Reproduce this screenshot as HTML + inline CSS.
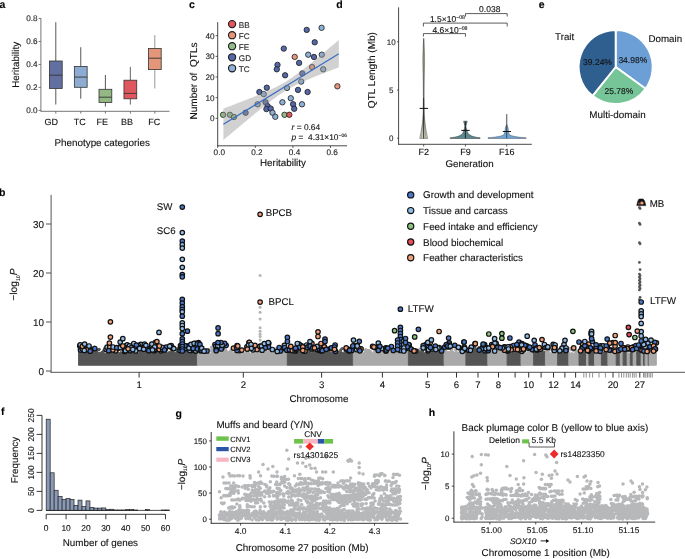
<!DOCTYPE html>
<html><head><meta charset="utf-8"><style>
html,body{margin:0;padding:0;background:#fff;}
svg{display:block;filter:blur(0.3px);text-rendering:geometricPrecision;font-family:"Liberation Sans",sans-serif;}
svg text{paint-order:stroke;stroke:#1a1a1a;stroke-width:0.12px;}
</style></head><body>
<svg width="685" height="559" viewBox="0 0 685 559" font-family="Liberation Sans, sans-serif">
<rect width="685" height="559" fill="#fff"/>
<text x="-0.60" y="8.20" font-size="10.5" text-anchor="start" fill="#000" font-weight="bold">a</text>
<line x1="40.90" y1="18.20" x2="40.90" y2="111.30" stroke="#666" stroke-width="0.9"/>
<line x1="40.50" y1="111.30" x2="169.50" y2="111.30" stroke="#666" stroke-width="0.9"/>
<line x1="38.60" y1="110.40" x2="40.90" y2="110.40" stroke="#666" stroke-width="0.9"/>
<text x="37.60" y="113.30" font-size="8.2" text-anchor="end" fill="#262626">0.0</text>
<line x1="38.60" y1="87.42" x2="40.90" y2="87.42" stroke="#666" stroke-width="0.9"/>
<text x="37.60" y="90.32" font-size="8.2" text-anchor="end" fill="#262626">0.2</text>
<line x1="38.60" y1="64.44" x2="40.90" y2="64.44" stroke="#666" stroke-width="0.9"/>
<text x="37.60" y="67.34" font-size="8.2" text-anchor="end" fill="#262626">0.4</text>
<line x1="38.60" y1="41.46" x2="40.90" y2="41.46" stroke="#666" stroke-width="0.9"/>
<text x="37.60" y="44.36" font-size="8.2" text-anchor="end" fill="#262626">0.6</text>
<line x1="38.60" y1="18.48" x2="40.90" y2="18.48" stroke="#666" stroke-width="0.9"/>
<text x="37.60" y="21.38" font-size="8.2" text-anchor="end" fill="#262626">0.8</text>
<line x1="55.80" y1="22.20" x2="55.80" y2="61.00" stroke="#444" stroke-width="0.9"/>
<line x1="55.80" y1="88.50" x2="55.80" y2="104.50" stroke="#444" stroke-width="0.9"/>
<rect x="49.40" y="61.00" width="12.80" height="27.50" fill="#6170a1" stroke="#333" stroke-width="0.8"/>
<line x1="49.40" y1="75.20" x2="62.20" y2="75.20" stroke="#333" stroke-width="0.9"/>
<line x1="55.80" y1="111.30" x2="55.80" y2="113.60" stroke="#666" stroke-width="0.9"/>
<line x1="80.75" y1="47.20" x2="80.75" y2="66.40" stroke="#444" stroke-width="0.9"/>
<line x1="80.75" y1="87.30" x2="80.75" y2="98.70" stroke="#444" stroke-width="0.9"/>
<rect x="74.35" y="66.40" width="12.80" height="20.90" fill="#8eabd1" stroke="#333" stroke-width="0.8"/>
<line x1="74.35" y1="77.10" x2="87.15" y2="77.10" stroke="#333" stroke-width="0.9"/>
<line x1="80.75" y1="111.30" x2="80.75" y2="113.60" stroke="#666" stroke-width="0.9"/>
<line x1="105.40" y1="75.00" x2="105.40" y2="89.30" stroke="#444" stroke-width="0.9"/>
<line x1="105.40" y1="102.40" x2="105.40" y2="106.50" stroke="#444" stroke-width="0.9"/>
<rect x="99.00" y="89.30" width="12.80" height="13.10" fill="#93b884" stroke="#333" stroke-width="0.8"/>
<line x1="99.00" y1="97.20" x2="111.80" y2="97.20" stroke="#333" stroke-width="0.9"/>
<line x1="105.40" y1="111.30" x2="105.40" y2="113.60" stroke="#666" stroke-width="0.9"/>
<line x1="130.35" y1="66.90" x2="130.35" y2="80.20" stroke="#555" stroke-width="0.9"/>
<line x1="130.35" y1="98.80" x2="130.35" y2="104.60" stroke="#555" stroke-width="0.9"/>
<rect x="123.95" y="80.20" width="12.80" height="18.60" fill="#e0585f" stroke="#333" stroke-width="0.8"/>
<line x1="123.95" y1="93.40" x2="136.75" y2="93.40" stroke="#333" stroke-width="0.9"/>
<line x1="130.35" y1="111.30" x2="130.35" y2="113.60" stroke="#666" stroke-width="0.9"/>
<line x1="154.80" y1="35.10" x2="154.80" y2="48.40" stroke="#8a8a8a" stroke-width="0.9"/>
<line x1="154.80" y1="69.60" x2="154.80" y2="88.50" stroke="#8a8a8a" stroke-width="0.9"/>
<rect x="148.40" y="48.40" width="12.80" height="21.20" fill="#e3967a" stroke="#333" stroke-width="0.8"/>
<line x1="148.40" y1="58.20" x2="161.20" y2="58.20" stroke="#333" stroke-width="0.9"/>
<line x1="154.80" y1="111.30" x2="154.80" y2="113.60" stroke="#666" stroke-width="0.9"/>
<text x="51.20" y="125.40" font-size="9" text-anchor="middle" fill="#111">GD</text>
<text x="79.80" y="125.40" font-size="9" text-anchor="middle" fill="#111">TC</text>
<text x="102.20" y="125.40" font-size="9" text-anchor="middle" fill="#111">FE</text>
<text x="127.10" y="125.40" font-size="9" text-anchor="middle" fill="#111">BB</text>
<text x="154.30" y="125.40" font-size="9" text-anchor="middle" fill="#111">FC</text>
<text x="54.40" y="145.60" font-size="9.9" text-anchor="start" fill="#111">Phenotype categories</text>
<text transform="translate(19.30,64.90) rotate(-90)" font-size="9.85" text-anchor="middle" fill="#111">Heritability</text>
<text x="189.00" y="8.20" font-size="10.5" text-anchor="start" fill="#000" font-weight="bold">c</text>
<line x1="217.70" y1="22.20" x2="217.70" y2="146.20" stroke="#333" stroke-width="0.9"/>
<line x1="217.30" y1="145.80" x2="347.10" y2="145.80" stroke="#333" stroke-width="0.9"/>
<line x1="215.60" y1="118.30" x2="217.70" y2="118.30" stroke="#333" stroke-width="0.8"/>
<text x="214.60" y="121.20" font-size="8.2" text-anchor="end" fill="#262626">0</text>
<line x1="215.60" y1="97.65" x2="217.70" y2="97.65" stroke="#333" stroke-width="0.8"/>
<text x="214.60" y="100.55" font-size="8.2" text-anchor="end" fill="#262626">10</text>
<line x1="215.60" y1="77.00" x2="217.70" y2="77.00" stroke="#333" stroke-width="0.8"/>
<text x="214.60" y="79.90" font-size="8.2" text-anchor="end" fill="#262626">20</text>
<line x1="215.60" y1="56.35" x2="217.70" y2="56.35" stroke="#333" stroke-width="0.8"/>
<text x="214.60" y="59.25" font-size="8.2" text-anchor="end" fill="#262626">30</text>
<line x1="215.60" y1="35.70" x2="217.70" y2="35.70" stroke="#333" stroke-width="0.8"/>
<text x="214.60" y="38.60" font-size="8.2" text-anchor="end" fill="#262626">40</text>
<line x1="217.70" y1="145.80" x2="217.70" y2="147.90" stroke="#333" stroke-width="0.8"/>
<text x="219.30" y="154.60" font-size="8.2" text-anchor="middle" fill="#262626">0.0</text>
<line x1="255.30" y1="145.80" x2="255.30" y2="147.90" stroke="#333" stroke-width="0.8"/>
<text x="256.90" y="154.60" font-size="8.2" text-anchor="middle" fill="#262626">0.2</text>
<line x1="292.90" y1="145.80" x2="292.90" y2="147.90" stroke="#333" stroke-width="0.8"/>
<text x="294.50" y="154.60" font-size="8.2" text-anchor="middle" fill="#262626">0.4</text>
<line x1="330.50" y1="145.80" x2="330.50" y2="147.90" stroke="#333" stroke-width="0.8"/>
<text x="332.10" y="154.60" font-size="8.2" text-anchor="middle" fill="#262626">0.6</text>
<text x="283.00" y="166.40" font-size="9.85" text-anchor="middle" fill="#111">Heritability</text>
<text transform="translate(197.00,81.00) rotate(-90)" font-size="10.05" text-anchor="middle" fill="#111">Number of&#160;&#160;QTLs</text>
<circle cx="306.7" cy="29.9" r="2.7" fill="#5468a8" stroke="#1a1a1a" stroke-width="0.8"/>
<circle cx="321.6" cy="27.8" r="2.7" fill="#8eb0d6" stroke="#1a1a1a" stroke-width="0.8"/>
<circle cx="314.7" cy="42.3" r="2.7" fill="#5468a8" stroke="#1a1a1a" stroke-width="0.8"/>
<circle cx="283.8" cy="48.6" r="2.7" fill="#5468a8" stroke="#1a1a1a" stroke-width="0.8"/>
<circle cx="294.7" cy="56.9" r="2.7" fill="#e4957a" stroke="#1a1a1a" stroke-width="0.8"/>
<circle cx="308.2" cy="54.7" r="2.7" fill="#8eb0d6" stroke="#1a1a1a" stroke-width="0.8"/>
<circle cx="314.0" cy="57.0" r="2.7" fill="#5468a8" stroke="#1a1a1a" stroke-width="0.8"/>
<circle cx="321.8" cy="54.7" r="2.7" fill="#8eb0d6" stroke="#1a1a1a" stroke-width="0.8"/>
<circle cx="299.1" cy="62.9" r="2.7" fill="#5468a8" stroke="#1a1a1a" stroke-width="0.8"/>
<circle cx="277.5" cy="64.9" r="2.7" fill="#5468a8" stroke="#1a1a1a" stroke-width="0.8"/>
<circle cx="276.8" cy="69.3" r="2.7" fill="#5468a8" stroke="#1a1a1a" stroke-width="0.8"/>
<circle cx="312.1" cy="67.0" r="2.7" fill="#e4957a" stroke="#1a1a1a" stroke-width="0.8"/>
<circle cx="323.2" cy="69.3" r="2.7" fill="#8eb0d6" stroke="#1a1a1a" stroke-width="0.8"/>
<circle cx="285.1" cy="75.3" r="2.7" fill="#5468a8" stroke="#1a1a1a" stroke-width="0.8"/>
<circle cx="302.3" cy="73.4" r="2.7" fill="#5468a8" stroke="#1a1a1a" stroke-width="0.8"/>
<circle cx="301.2" cy="81.6" r="2.7" fill="#8eb0d6" stroke="#1a1a1a" stroke-width="0.8"/>
<circle cx="266.8" cy="87.7" r="2.7" fill="#5468a8" stroke="#1a1a1a" stroke-width="0.8"/>
<circle cx="287.0" cy="88.0" r="2.7" fill="#8eb0d6" stroke="#1a1a1a" stroke-width="0.8"/>
<circle cx="298.0" cy="89.9" r="2.7" fill="#5468a8" stroke="#1a1a1a" stroke-width="0.8"/>
<circle cx="307.6" cy="92.0" r="2.7" fill="#5468a8" stroke="#1a1a1a" stroke-width="0.8"/>
<circle cx="337.4" cy="86.3" r="2.7" fill="#e4957a" stroke="#1a1a1a" stroke-width="0.8"/>
<circle cx="223.1" cy="114.8" r="2.7" fill="#90bb86" stroke="#1a1a1a" stroke-width="0.8"/>
<circle cx="229.9" cy="114.8" r="2.7" fill="#90bb86" stroke="#1a1a1a" stroke-width="0.8"/>
<circle cx="234.0" cy="117.0" r="2.7" fill="#90bb86" stroke="#1a1a1a" stroke-width="0.8"/>
<circle cx="245.6" cy="112.7" r="2.7" fill="#5468a8" stroke="#1a1a1a" stroke-width="0.8"/>
<circle cx="257.6" cy="104.3" r="2.7" fill="#8eb0d6" stroke="#1a1a1a" stroke-width="0.8"/>
<circle cx="259.4" cy="92.0" r="2.7" fill="#5468a8" stroke="#1a1a1a" stroke-width="0.8"/>
<circle cx="263.7" cy="94.1" r="2.7" fill="#8eb0d6" stroke="#1a1a1a" stroke-width="0.8"/>
<circle cx="265.5" cy="102.2" r="2.7" fill="#5468a8" stroke="#1a1a1a" stroke-width="0.8"/>
<circle cx="267.6" cy="106.1" r="2.7" fill="#5468a8" stroke="#1a1a1a" stroke-width="0.8"/>
<circle cx="266.4" cy="109.1" r="2.7" fill="#5468a8" stroke="#1a1a1a" stroke-width="0.8"/>
<circle cx="270.7" cy="108.6" r="2.7" fill="#5468a8" stroke="#1a1a1a" stroke-width="0.8"/>
<circle cx="272.5" cy="112.7" r="2.7" fill="#8eb0d6" stroke="#1a1a1a" stroke-width="0.8"/>
<circle cx="275.3" cy="116.8" r="2.7" fill="#8eb0d6" stroke="#1a1a1a" stroke-width="0.8"/>
<circle cx="284.5" cy="114.8" r="2.7" fill="#90bb86" stroke="#1a1a1a" stroke-width="0.8"/>
<circle cx="289.3" cy="114.8" r="2.7" fill="#e0575c" stroke="#1a1a1a" stroke-width="0.8"/>
<circle cx="282.4" cy="102.3" r="2.7" fill="#8eb0d6" stroke="#1a1a1a" stroke-width="0.8"/>
<circle cx="290.8" cy="98.2" r="2.7" fill="#8eb0d6" stroke="#1a1a1a" stroke-width="0.8"/>
<circle cx="293.1" cy="104.2" r="2.7" fill="#5468a8" stroke="#1a1a1a" stroke-width="0.8"/>
<circle cx="294.2" cy="108.8" r="2.7" fill="#5468a8" stroke="#1a1a1a" stroke-width="0.8"/>
<circle cx="302.0" cy="104.3" r="2.7" fill="#8eb0d6" stroke="#1a1a1a" stroke-width="0.8"/>
<path d="M223.40,108.60 L226.28,107.50 L229.17,106.40 L232.06,105.29 L234.94,104.18 L237.83,103.07 L240.71,101.95 L243.59,100.83 L246.48,99.70 L249.37,98.56 L252.25,97.40 L255.14,96.24 L258.02,95.06 L260.91,93.87 L263.79,92.64 L266.68,91.39 L269.56,90.11 L272.44,88.77 L275.33,87.38 L278.22,85.92 L281.10,84.36 L283.99,82.72 L286.87,80.96 L289.75,79.10 L292.64,77.14 L295.52,75.09 L298.41,72.96 L301.30,70.78 L304.18,68.54 L307.06,66.27 L309.95,63.97 L312.84,61.64 L315.72,59.29 L318.61,56.92 L321.49,54.55 L324.38,52.16 L327.26,49.76 L330.14,47.36 L333.03,44.95 L335.92,42.53 L338.80,40.11 L338.80,67.29 L335.92,68.40 L333.03,69.51 L330.14,70.63 L327.26,71.76 L324.38,72.89 L321.49,74.03 L318.61,75.19 L315.72,76.35 L312.84,77.53 L309.95,78.73 L307.06,79.96 L304.18,81.22 L301.30,82.51 L298.41,83.86 L295.52,85.26 L292.64,86.74 L289.75,88.31 L286.87,89.98 L283.99,91.75 L281.10,93.64 L278.22,95.61 L275.33,97.68 L272.44,99.82 L269.56,102.01 L266.68,104.26 L263.79,106.54 L260.91,108.84 L258.02,111.18 L255.14,113.53 L252.25,115.90 L249.37,118.27 L246.48,120.66 L243.59,123.06 L240.71,125.47 L237.83,127.88 L234.94,130.30 L232.06,132.72 L229.17,135.14 L226.28,137.57 L223.40,140.00 Z" fill="#999" fill-opacity="0.45"/>
<line x1="223.40" y1="124.30" x2="338.80" y2="53.70" stroke="#3a6ec4" stroke-width="1.2"/>
<circle cx="232.1" cy="24.1" r="3.6" fill="#e0575c" stroke="#1a1a1a" stroke-width="1.1"/>
<text x="238.80" y="27.70" font-size="8.2" text-anchor="start" fill="#262626">BB</text>
<circle cx="232.1" cy="35.2" r="3.6" fill="#e4957a" stroke="#1a1a1a" stroke-width="1.1"/>
<text x="238.80" y="38.75" font-size="8.2" text-anchor="start" fill="#262626">FC</text>
<circle cx="232.1" cy="46.2" r="3.6" fill="#90bb86" stroke="#1a1a1a" stroke-width="1.1"/>
<text x="238.80" y="49.80" font-size="8.2" text-anchor="start" fill="#262626">FE</text>
<circle cx="232.1" cy="57.3" r="3.6" fill="#5468a8" stroke="#1a1a1a" stroke-width="1.1"/>
<text x="238.80" y="60.85" font-size="8.2" text-anchor="start" fill="#262626">GD</text>
<circle cx="232.1" cy="68.3" r="3.6" fill="#8eb0d6" stroke="#1a1a1a" stroke-width="1.1"/>
<text x="238.80" y="71.90" font-size="8.2" text-anchor="start" fill="#262626">TC</text>
<text x="291.60" y="129.60" font-size="8.35" text-anchor="start" fill="#111"><tspan font-style="italic">r</tspan> = 0.64</text>
<text x="291.60" y="139.90" font-size="8.35" text-anchor="start" fill="#111"><tspan font-style="italic">p</tspan> = &#160;4.31×10<tspan dy="-3.4" font-size="5">&#8722;06</tspan></text>
<text x="336.20" y="8.20" font-size="10.5" text-anchor="start" fill="#000" font-weight="bold">d</text>
<line x1="398.60" y1="7.30" x2="398.60" y2="144.70" stroke="#333" stroke-width="0.9"/>
<line x1="398.20" y1="144.30" x2="531.80" y2="144.30" stroke="#333" stroke-width="0.9"/>
<line x1="397.00" y1="138.20" x2="398.60" y2="138.20" stroke="#333" stroke-width="0.8"/>
<text x="391.30" y="141.10" font-size="8.0" text-anchor="middle" fill="#262626">0</text>
<line x1="397.00" y1="90.00" x2="398.60" y2="90.00" stroke="#333" stroke-width="0.8"/>
<text x="391.30" y="92.90" font-size="8.0" text-anchor="middle" fill="#262626">5</text>
<line x1="397.00" y1="41.80" x2="398.60" y2="41.80" stroke="#333" stroke-width="0.8"/>
<text x="391.30" y="44.70" font-size="8.0" text-anchor="middle" fill="#262626">10</text>
<line x1="423.70" y1="144.30" x2="423.70" y2="146.50" stroke="#333" stroke-width="0.8"/>
<text x="423.70" y="155.20" font-size="9" text-anchor="middle" fill="#111">F2</text>
<line x1="465.40" y1="144.30" x2="465.40" y2="146.50" stroke="#333" stroke-width="0.8"/>
<text x="465.40" y="155.20" font-size="9" text-anchor="middle" fill="#111">F9</text>
<line x1="506.70" y1="144.30" x2="506.70" y2="146.50" stroke="#333" stroke-width="0.8"/>
<text x="506.70" y="155.20" font-size="9" text-anchor="middle" fill="#111">F16</text>
<text x="469.50" y="167.40" font-size="9.75" text-anchor="middle" fill="#111">Generation</text>
<text transform="translate(375.40,70.10) rotate(-90)" font-size="10.05" text-anchor="middle" fill="#111">QTL Length (Mb)</text>
<path d="M465.5,16.5 L465.5,13.6 L507.2,13.6 L507.2,16.5" fill="none" stroke="#333" stroke-width="0.8"/>
<path d="M423.4,26.5 L423.4,23.1 L507.2,23.1 L507.2,26.5" fill="none" stroke="#333" stroke-width="0.8"/>
<path d="M423.4,36.6 L423.4,33.6 L465.5,33.6 L465.5,36.6" fill="none" stroke="#333" stroke-width="0.8"/>
<text x="479.10" y="12.30" font-size="8.5" text-anchor="start" fill="#111">0.038</text>
<text x="429.90" y="22.30" font-size="8.5" text-anchor="start" fill="#111">1.5×10<tspan dy="-3.6" font-size="5.2">&#8722;08</tspan></text>
<text x="432.40" y="33.20" font-size="8.5" text-anchor="start" fill="#111">4.6×10<tspan dy="-3.6" font-size="5.2">&#8722;08</tspan></text>
<path d="M419.7,138.4 L427.7,138.4 C426.3,133 424.9,124 424.3,116 L424.0,100 C424.05,85 424.2,78 424.59999999999997,62 C424.59999999999997,55 424.2,45 423.7,38.2 C423.2,45 422.8,55 422.8,62 C423.2,78 423.34999999999997,85 423.4,100 L423.09999999999997,116 C422.5,124 421.09999999999997,133 419.7,138.4 Z" fill="#d9d9c2" stroke="#444" stroke-width="0.5"/>
<line x1="421.50" y1="138.00" x2="423.50" y2="114.00" stroke="#777" stroke-width="0.6"/>
<line x1="425.90" y1="138.00" x2="423.90" y2="114.00" stroke="#777" stroke-width="0.6"/>
<line x1="423.70" y1="39.00" x2="423.70" y2="98.00" stroke="#333" stroke-width="0.55"/>
<line x1="423.70" y1="98.00" x2="423.70" y2="138.40" stroke="#111" stroke-width="0.9"/>
<line x1="419.60" y1="108.40" x2="428.10" y2="108.40" stroke="#111" stroke-width="1.0"/>
<path d="M450.2,138.5 L480.09999999999997,138.5 L480.09999999999997,137.7 C474.4,137.3 469.9,135.8 468.2,133.5 C467.0,131.5 466.29999999999995,129 465.9,126.2 L467.2,121.2 L463.59999999999997,121.2 L464.9,126.2 C464.5,129 463.79999999999995,131.5 462.59999999999997,133.5 C460.9,135.8 456.4,137.3 450.2,137.7 Z" fill="#5b8891" stroke="#333" stroke-width="0.5"/>
<line x1="465.40" y1="121.50" x2="465.40" y2="138.40" stroke="#111" stroke-width="0.8"/>
<line x1="461.30" y1="130.40" x2="469.60" y2="130.40" stroke="#111" stroke-width="1.0"/>
<path d="M488.0,138.5 L526.1,138.5 L526.1,137.7 C518.7,137.4 511.7,136.4 509.5,134.6 C508.5,133.2 508.3,130 508.09999999999997,128 C507.7,126.5 507.09999999999997,125.5 506.95,124.5 L506.9,114.3 L506.5,114.3 L506.45,124.5 C506.3,125.5 505.7,126.5 505.3,128 C505.09999999999997,130 504.9,133.2 503.9,134.6 C501.7,136.4 494.7,137.4 488.0,137.7 Z" fill="#6fa6d8" stroke="#555" stroke-width="0.5"/>
<line x1="506.70" y1="114.50" x2="506.70" y2="124.50" stroke="#777" stroke-width="0.6"/>
<line x1="506.70" y1="124.50" x2="506.70" y2="138.40" stroke="#222" stroke-width="0.7"/>
<line x1="502.80" y1="131.50" x2="511.00" y2="131.50" stroke="#111" stroke-width="1.0"/>
<text x="538.80" y="8.20" font-size="10.5" text-anchor="start" fill="#000" font-weight="bold">e</text>
<path d="M615.65,67.0 L615.65,30.00 A37.0,37.0 0 0 1 645.61,88.71 Z" fill="#6b9fd5" stroke="#fff" stroke-width="1.9" stroke-linejoin="round"/>
<path d="M615.65,67.0 L645.61,88.71 A37.0,37.0 0 0 1 592.50,95.86 Z" fill="#76c598" stroke="#fff" stroke-width="1.9" stroke-linejoin="round"/>
<path d="M615.65,67.0 L592.50,95.86 A37.0,37.0 0 0 1 615.65,30.00 Z" fill="#2f5f8f" stroke="#fff" stroke-width="1.9" stroke-linejoin="round"/>
<text x="555.10" y="40.00" font-size="9.75" text-anchor="start" fill="#111">Trait</text>
<text x="648.50" y="42.10" font-size="9.75" text-anchor="start" fill="#111">Domain</text>
<text x="589.30" y="117.50" font-size="9.85" text-anchor="start" fill="#111">Multi-domain</text>
<text x="583.10" y="64.70" font-size="8.5" text-anchor="start" fill="#111">39.24%</text>
<text x="618.40" y="63.30" font-size="8.5" text-anchor="start" fill="#111">34.98%</text>
<text x="604.50" y="94.30" font-size="8.5" text-anchor="start" fill="#111">25.78%</text>
<text x="-1.00" y="195.50" font-size="10.5" text-anchor="start" fill="#000" font-weight="bold">b</text>
<line x1="51.10" y1="194.90" x2="51.10" y2="372.80" stroke="#555" stroke-width="1.0"/>
<line x1="50.60" y1="372.30" x2="685.00" y2="372.30" stroke="#555" stroke-width="1.0"/>
<line x1="46.00" y1="371.00" x2="51.10" y2="371.00" stroke="#555" stroke-width="1.0"/>
<text x="43.90" y="374.60" font-size="9.9" text-anchor="end" fill="#111">0</text>
<line x1="46.00" y1="322.00" x2="51.10" y2="322.00" stroke="#555" stroke-width="1.0"/>
<text x="43.90" y="325.60" font-size="9.9" text-anchor="end" fill="#111">10</text>
<line x1="46.00" y1="273.00" x2="51.10" y2="273.00" stroke="#555" stroke-width="1.0"/>
<text x="43.90" y="276.60" font-size="9.9" text-anchor="end" fill="#111">20</text>
<line x1="46.00" y1="224.00" x2="51.10" y2="224.00" stroke="#555" stroke-width="1.0"/>
<text x="43.90" y="227.60" font-size="9.9" text-anchor="end" fill="#111">30</text>
<text transform="translate(17.4,284.6) rotate(-90)" font-size="10.2" text-anchor="middle" fill="#111">&#8722;log<tspan font-size="5.2" dy="2.2">10</tspan><tspan dy="-2.2" font-style="italic">P</tspan></text>
<line x1="139.10" y1="372.30" x2="139.10" y2="377.60" stroke="#333" stroke-width="1.0"/>
<line x1="243.30" y1="372.30" x2="243.30" y2="377.60" stroke="#333" stroke-width="1.0"/>
<line x1="321.60" y1="372.30" x2="321.60" y2="377.60" stroke="#333" stroke-width="1.0"/>
<line x1="382.40" y1="372.30" x2="382.40" y2="377.60" stroke="#333" stroke-width="1.0"/>
<line x1="427.60" y1="372.30" x2="427.60" y2="377.60" stroke="#333" stroke-width="1.0"/>
<line x1="456.50" y1="372.30" x2="456.50" y2="377.60" stroke="#333" stroke-width="1.0"/>
<line x1="478.00" y1="372.30" x2="478.00" y2="377.60" stroke="#333" stroke-width="1.0"/>
<line x1="498.50" y1="372.30" x2="498.50" y2="377.60" stroke="#333" stroke-width="1.0"/>
<line x1="515.10" y1="372.30" x2="515.10" y2="377.60" stroke="#333" stroke-width="1.0"/>
<line x1="528.70" y1="372.30" x2="528.70" y2="377.60" stroke="#333" stroke-width="1.0"/>
<line x1="541.10" y1="372.30" x2="541.10" y2="377.60" stroke="#333" stroke-width="1.0"/>
<line x1="553.50" y1="372.30" x2="553.50" y2="377.60" stroke="#333" stroke-width="1.0"/>
<line x1="564.90" y1="372.30" x2="564.90" y2="377.60" stroke="#333" stroke-width="1.0"/>
<line x1="575.60" y1="372.30" x2="575.60" y2="377.60" stroke="#333" stroke-width="1.0"/>
<line x1="583.80" y1="372.30" x2="583.80" y2="377.60" stroke="#808080" stroke-width="0.85"/>
<line x1="586.20" y1="372.30" x2="586.20" y2="377.60" stroke="#808080" stroke-width="0.85"/>
<line x1="589.70" y1="372.30" x2="589.70" y2="377.60" stroke="#808080" stroke-width="0.85"/>
<line x1="592.60" y1="372.30" x2="592.60" y2="377.60" stroke="#808080" stroke-width="0.85"/>
<line x1="599.00" y1="372.30" x2="599.00" y2="377.60" stroke="#808080" stroke-width="0.85"/>
<line x1="605.40" y1="372.30" x2="605.40" y2="377.60" stroke="#808080" stroke-width="0.85"/>
<line x1="613.00" y1="372.30" x2="613.00" y2="377.60" stroke="#333" stroke-width="1.0"/>
<line x1="618.90" y1="372.30" x2="618.90" y2="377.60" stroke="#808080" stroke-width="0.85"/>
<line x1="621.50" y1="372.30" x2="621.50" y2="377.60" stroke="#808080" stroke-width="0.85"/>
<line x1="623.80" y1="372.30" x2="623.80" y2="377.60" stroke="#808080" stroke-width="0.85"/>
<line x1="626.30" y1="372.30" x2="626.30" y2="377.60" stroke="#808080" stroke-width="0.85"/>
<line x1="628.30" y1="372.30" x2="628.30" y2="377.60" stroke="#808080" stroke-width="0.85"/>
<line x1="630.20" y1="372.30" x2="630.20" y2="377.60" stroke="#808080" stroke-width="0.85"/>
<line x1="632.60" y1="372.30" x2="632.60" y2="377.60" stroke="#808080" stroke-width="0.85"/>
<line x1="634.20" y1="372.30" x2="634.20" y2="377.60" stroke="#808080" stroke-width="0.85"/>
<line x1="636.10" y1="372.30" x2="636.10" y2="377.60" stroke="#808080" stroke-width="0.85"/>
<line x1="639.80" y1="372.30" x2="639.80" y2="377.60" stroke="#333" stroke-width="1.0"/>
<line x1="643.50" y1="372.30" x2="643.50" y2="377.60" stroke="#808080" stroke-width="0.85"/>
<line x1="644.80" y1="372.30" x2="644.80" y2="377.60" stroke="#808080" stroke-width="0.85"/>
<line x1="645.90" y1="372.30" x2="645.90" y2="377.60" stroke="#808080" stroke-width="0.85"/>
<line x1="647.50" y1="372.30" x2="647.50" y2="377.60" stroke="#808080" stroke-width="0.85"/>
<line x1="649.10" y1="372.30" x2="649.10" y2="377.60" stroke="#808080" stroke-width="0.85"/>
<line x1="650.70" y1="372.30" x2="650.70" y2="377.60" stroke="#808080" stroke-width="0.85"/>
<line x1="652.30" y1="372.30" x2="652.30" y2="377.60" stroke="#808080" stroke-width="0.85"/>
<text x="139.10" y="388.20" font-size="9.6" text-anchor="middle" fill="#111">1</text>
<text x="243.30" y="388.20" font-size="9.6" text-anchor="middle" fill="#111">2</text>
<text x="321.60" y="388.20" font-size="9.6" text-anchor="middle" fill="#111">3</text>
<text x="382.40" y="388.20" font-size="9.6" text-anchor="middle" fill="#111">4</text>
<text x="427.60" y="388.20" font-size="9.6" text-anchor="middle" fill="#111">5</text>
<text x="456.50" y="388.20" font-size="9.6" text-anchor="middle" fill="#111">6</text>
<text x="478.00" y="388.20" font-size="9.6" text-anchor="middle" fill="#111">7</text>
<text x="498.50" y="388.20" font-size="9.6" text-anchor="middle" fill="#111">8</text>
<text x="528.70" y="388.20" font-size="9.6" text-anchor="middle" fill="#111">10</text>
<text x="553.50" y="388.20" font-size="9.6" text-anchor="middle" fill="#111">12</text>
<text x="575.60" y="388.20" font-size="9.6" text-anchor="middle" fill="#111">14</text>
<text x="613.00" y="388.20" font-size="9.6" text-anchor="middle" fill="#111">20</text>
<text x="639.80" y="388.20" font-size="9.6" text-anchor="middle" fill="#111">27</text>
<text x="318.90" y="402.10" font-size="9.83" text-anchor="middle" fill="#111">Chromosome</text>
<path d="M78.50,365.3 L78.50,352.20 L80.01,353.23 L81.51,352.32 L83.02,351.61 L84.52,352.59 L86.03,351.41 L87.53,351.40 L89.04,348.78 L90.54,353.32 L92.05,352.55 L93.55,351.23 L95.06,351.33 L96.56,349.34 L98.07,352.17 L99.57,352.34 L101.08,352.30 L102.58,352.21 L104.09,353.39 L105.59,353.05 L107.10,351.89 L108.60,348.54 L110.11,352.08 L111.61,352.05 L113.12,351.43 L114.62,353.20 L116.13,353.36 L117.63,351.36 L119.14,352.91 L120.64,351.39 L122.15,353.32 L123.65,351.46 L125.16,348.03 L126.66,351.59 L128.17,352.18 L129.67,352.81 L131.18,350.35 L132.68,351.67 L134.19,353.34 L135.69,351.87 L137.20,351.66 L138.70,353.08 L140.21,351.42 L141.71,351.67 L143.22,352.90 L144.72,350.58 L146.23,352.48 L147.73,352.52 L149.24,352.20 L150.74,352.26 L152.25,353.11 L153.75,351.54 L155.26,353.00 L156.76,351.62 L158.27,353.27 L159.77,353.29 L161.28,352.53 L162.78,347.54 L164.29,351.72 L165.79,351.77 L167.30,352.51 L168.80,351.59 L170.31,351.35 L171.81,352.43 L173.32,352.55 L174.82,353.22 L176.33,351.24 L177.83,350.65 L179.34,352.01 L180.84,351.49 L182.35,353.16 L183.85,352.65 L185.36,352.49 L186.86,347.55 L188.37,352.74 L189.87,351.25 L191.38,352.26 L192.88,351.90 L194.39,351.37 L195.89,352.82 L197.40,352.82 L197.40,365.3 Z" fill="#555555" stroke="#555555" stroke-width="0.9" stroke-linejoin="round"/>
<g fill="#555555"><circle cx="172.4" cy="348.2" r="1.5"/><circle cx="159.7" cy="350.0" r="1.5"/><circle cx="128.2" cy="350.0" r="1.5"/><circle cx="146.5" cy="351.0" r="1.5"/><circle cx="147.6" cy="349.8" r="1.5"/><circle cx="154.3" cy="350.1" r="1.5"/><circle cx="164.7" cy="352.4" r="1.5"/><circle cx="147.4" cy="352.9" r="1.5"/><circle cx="89.1" cy="347.1" r="1.5"/><circle cx="149.8" cy="350.4" r="1.5"/><circle cx="161.2" cy="352.0" r="1.5"/><circle cx="187.3" cy="349.5" r="1.5"/><circle cx="114.6" cy="350.3" r="1.5"/><circle cx="99.2" cy="349.3" r="1.5"/><circle cx="131.1" cy="348.1" r="1.5"/><circle cx="157.4" cy="351.2" r="1.5"/><circle cx="173.8" cy="350.1" r="1.5"/><circle cx="124.4" cy="350.8" r="1.5"/><circle cx="95.3" cy="352.8" r="1.5"/><circle cx="178.9" cy="350.3" r="1.5"/><circle cx="111.8" cy="351.3" r="1.5"/><circle cx="111.6" cy="351.2" r="1.5"/><circle cx="152.7" cy="350.8" r="1.5"/><circle cx="177.7" cy="348.6" r="1.5"/><circle cx="88.1" cy="353.0" r="1.5"/><circle cx="84.2" cy="349.0" r="1.5"/><circle cx="115.5" cy="347.1" r="1.5"/><circle cx="95.2" cy="349.6" r="1.5"/><circle cx="176.6" cy="350.1" r="1.5"/><circle cx="84.8" cy="351.3" r="1.5"/><circle cx="153.2" cy="352.7" r="1.5"/><circle cx="191.7" cy="350.3" r="1.5"/><circle cx="135.0" cy="349.5" r="1.5"/><circle cx="134.7" cy="347.6" r="1.5"/><circle cx="111.2" cy="352.3" r="1.5"/><circle cx="140.3" cy="352.5" r="1.5"/><circle cx="125.5" cy="350.2" r="1.5"/><circle cx="89.5" cy="349.5" r="1.5"/><circle cx="94.5" cy="352.0" r="1.5"/><circle cx="186.0" cy="351.8" r="1.5"/><circle cx="182.4" cy="350.3" r="1.5"/><circle cx="133.7" cy="350.3" r="1.5"/><circle cx="164.0" cy="349.2" r="1.5"/><circle cx="163.5" cy="353.1" r="1.5"/><circle cx="194.3" cy="348.9" r="1.5"/><circle cx="172.1" cy="353.1" r="1.5"/><circle cx="179.7" cy="349.8" r="1.5"/><circle cx="131.0" cy="352.6" r="1.5"/><circle cx="136.5" cy="352.7" r="1.5"/><circle cx="86.8" cy="347.6" r="1.5"/><circle cx="118.6" cy="347.5" r="1.5"/><circle cx="96.7" cy="352.4" r="1.5"/><circle cx="177.8" cy="353.3" r="1.5"/><circle cx="137.1" cy="347.3" r="1.5"/><circle cx="105.3" cy="350.7" r="1.5"/><circle cx="164.8" cy="351.6" r="1.5"/><circle cx="178.3" cy="350.7" r="1.5"/><circle cx="124.0" cy="350.2" r="1.5"/><circle cx="103.7" cy="350.4" r="1.5"/><circle cx="140.8" cy="350.3" r="1.5"/><circle cx="142.2" cy="351.9" r="1.5"/><circle cx="82.6" cy="348.8" r="1.5"/><circle cx="126.3" cy="349.0" r="1.5"/><circle cx="136.9" cy="349.8" r="1.5"/><circle cx="142.5" cy="353.3" r="1.5"/><circle cx="187.6" cy="351.4" r="1.5"/><circle cx="94.2" cy="352.8" r="1.5"/><circle cx="184.9" cy="350.8" r="1.5"/><circle cx="101.8" cy="353.2" r="1.5"/><circle cx="94.5" cy="347.1" r="1.5"/><circle cx="102.1" cy="352.2" r="1.5"/><circle cx="117.1" cy="352.0" r="1.5"/><circle cx="91.6" cy="347.4" r="1.5"/><circle cx="139.2" cy="350.3" r="1.5"/><circle cx="141.5" cy="351.0" r="1.5"/><circle cx="127.8" cy="350.1" r="1.5"/><circle cx="103.3" cy="352.1" r="1.5"/><circle cx="141.4" cy="349.1" r="1.5"/><circle cx="179.8" cy="352.5" r="1.5"/><circle cx="174.4" cy="348.1" r="1.5"/><circle cx="116.2" cy="347.8" r="1.5"/><circle cx="196.4" cy="347.5" r="1.5"/><circle cx="107.4" cy="347.9" r="1.5"/><circle cx="90.7" cy="348.5" r="1.5"/><circle cx="172.0" cy="351.1" r="1.5"/><circle cx="159.7" cy="350.3" r="1.5"/><circle cx="159.3" cy="350.4" r="1.5"/><circle cx="92.8" cy="352.5" r="1.5"/><circle cx="138.3" cy="350.3" r="1.5"/><circle cx="87.6" cy="349.6" r="1.5"/><circle cx="144.0" cy="351.8" r="1.5"/><circle cx="96.5" cy="350.3" r="1.5"/><circle cx="177.9" cy="350.2" r="1.5"/><circle cx="90.5" cy="353.3" r="1.5"/><circle cx="133.5" cy="348.1" r="1.5"/><circle cx="134.1" cy="351.2" r="1.5"/><circle cx="149.8" cy="352.3" r="1.5"/><circle cx="178.3" cy="351.3" r="1.5"/><circle cx="166.0" cy="350.3" r="1.5"/><circle cx="98.7" cy="349.6" r="1.5"/><circle cx="184.1" cy="349.5" r="1.5"/><circle cx="180.3" cy="351.1" r="1.5"/><circle cx="149.6" cy="353.4" r="1.5"/><circle cx="173.7" cy="353.1" r="1.5"/><circle cx="166.6" cy="349.9" r="1.5"/><circle cx="126.9" cy="350.1" r="1.5"/><circle cx="160.8" cy="349.7" r="1.5"/></g>
<path d="M197.40,365.3 L197.40,352.09 L198.92,351.36 L200.45,350.16 L201.97,352.61 L203.49,351.71 L205.02,352.67 L206.54,352.65 L208.07,352.37 L209.59,353.40 L211.11,352.74 L212.64,350.51 L214.16,352.83 L215.68,350.50 L217.21,350.27 L218.73,353.19 L220.26,352.32 L221.78,352.45 L223.30,352.60 L224.83,351.37 L226.35,349.08 L227.87,351.55 L229.40,351.57 L230.92,348.71 L232.45,352.13 L233.97,352.52 L235.49,351.83 L237.02,352.43 L238.54,352.78 L240.06,351.23 L241.59,351.29 L243.11,352.86 L244.64,353.17 L246.16,351.31 L247.68,349.56 L249.21,352.14 L250.73,353.34 L252.25,352.35 L253.78,352.79 L255.30,353.35 L256.83,349.66 L258.35,352.20 L259.87,351.31 L261.40,351.47 L262.92,352.67 L264.44,351.78 L265.97,352.12 L267.49,352.37 L269.02,353.30 L270.54,348.05 L272.06,352.93 L273.59,351.99 L275.11,352.71 L276.63,352.50 L278.16,352.86 L279.68,351.75 L281.21,353.21 L282.73,349.47 L284.25,352.14 L285.78,351.43 L287.30,348.33 L287.30,365.3 Z" fill="#a9a9a9" stroke="#a9a9a9" stroke-width="0.9" stroke-linejoin="round"/>
<g fill="#a9a9a9"><circle cx="246.8" cy="351.0" r="1.5"/><circle cx="240.5" cy="350.9" r="1.5"/><circle cx="264.0" cy="347.3" r="1.5"/><circle cx="208.8" cy="349.2" r="1.5"/><circle cx="266.1" cy="351.2" r="1.5"/><circle cx="221.0" cy="348.3" r="1.5"/><circle cx="255.9" cy="348.1" r="1.5"/><circle cx="246.6" cy="350.2" r="1.5"/><circle cx="236.0" cy="349.9" r="1.5"/><circle cx="275.5" cy="349.8" r="1.5"/><circle cx="248.0" cy="352.2" r="1.5"/><circle cx="224.6" cy="347.3" r="1.5"/><circle cx="217.0" cy="349.8" r="1.5"/><circle cx="225.0" cy="349.4" r="1.5"/><circle cx="223.2" cy="350.9" r="1.5"/><circle cx="262.3" cy="350.0" r="1.5"/><circle cx="260.8" cy="353.2" r="1.5"/><circle cx="281.2" cy="348.5" r="1.5"/><circle cx="269.1" cy="350.8" r="1.5"/><circle cx="233.5" cy="350.1" r="1.5"/><circle cx="220.1" cy="351.0" r="1.5"/><circle cx="230.3" cy="351.1" r="1.5"/><circle cx="215.4" cy="352.7" r="1.5"/><circle cx="245.9" cy="349.0" r="1.5"/><circle cx="213.8" cy="350.1" r="1.5"/><circle cx="223.1" cy="351.6" r="1.5"/><circle cx="246.2" cy="353.4" r="1.5"/><circle cx="255.7" cy="347.2" r="1.5"/><circle cx="246.5" cy="347.3" r="1.5"/><circle cx="205.4" cy="350.1" r="1.5"/><circle cx="205.7" cy="350.1" r="1.5"/><circle cx="264.1" cy="350.5" r="1.5"/><circle cx="217.7" cy="348.8" r="1.5"/><circle cx="265.7" cy="350.9" r="1.5"/><circle cx="283.7" cy="351.5" r="1.5"/><circle cx="245.6" cy="349.5" r="1.5"/><circle cx="279.0" cy="352.8" r="1.5"/><circle cx="257.1" cy="349.8" r="1.5"/><circle cx="271.8" cy="350.4" r="1.5"/><circle cx="254.7" cy="352.3" r="1.5"/><circle cx="269.0" cy="351.2" r="1.5"/><circle cx="211.1" cy="350.5" r="1.5"/><circle cx="231.4" cy="350.3" r="1.5"/><circle cx="235.7" cy="353.4" r="1.5"/><circle cx="203.4" cy="350.0" r="1.5"/><circle cx="255.4" cy="347.6" r="1.5"/><circle cx="203.7" cy="351.8" r="1.5"/><circle cx="278.5" cy="349.9" r="1.5"/><circle cx="214.5" cy="350.4" r="1.5"/><circle cx="261.5" cy="350.4" r="1.5"/><circle cx="214.5" cy="350.2" r="1.5"/><circle cx="265.1" cy="351.7" r="1.5"/><circle cx="270.4" cy="350.5" r="1.5"/><circle cx="276.6" cy="348.2" r="1.5"/><circle cx="246.5" cy="348.7" r="1.5"/><circle cx="217.7" cy="353.3" r="1.5"/><circle cx="269.0" cy="351.6" r="1.5"/><circle cx="243.7" cy="353.5" r="1.5"/><circle cx="256.3" cy="349.5" r="1.5"/><circle cx="239.9" cy="352.7" r="1.5"/><circle cx="261.2" cy="350.1" r="1.5"/><circle cx="212.1" cy="350.5" r="1.5"/><circle cx="275.0" cy="352.0" r="1.5"/><circle cx="285.9" cy="351.6" r="1.5"/><circle cx="211.5" cy="347.0" r="1.5"/><circle cx="270.7" cy="349.9" r="1.5"/><circle cx="205.5" cy="352.4" r="1.5"/><circle cx="206.8" cy="351.4" r="1.5"/><circle cx="282.6" cy="352.9" r="1.5"/><circle cx="225.0" cy="348.5" r="1.5"/><circle cx="279.1" cy="352.8" r="1.5"/><circle cx="216.6" cy="351.6" r="1.5"/><circle cx="212.1" cy="348.1" r="1.5"/><circle cx="225.6" cy="350.7" r="1.5"/><circle cx="239.5" cy="348.3" r="1.5"/><circle cx="258.9" cy="351.1" r="1.5"/><circle cx="239.0" cy="349.9" r="1.5"/><circle cx="255.9" cy="351.0" r="1.5"/><circle cx="260.9" cy="351.8" r="1.5"/><circle cx="238.6" cy="353.5" r="1.5"/></g>
<path d="M287.30,365.3 L287.30,352.96 L288.80,352.56 L290.30,352.03 L291.80,351.86 L293.30,352.06 L294.80,351.76 L296.30,352.81 L297.80,353.28 L299.30,352.79 L300.80,351.60 L302.30,351.41 L303.80,352.76 L305.30,352.09 L306.80,350.82 L308.30,351.55 L309.80,348.33 L311.30,352.14 L312.80,352.62 L314.30,353.01 L315.80,351.93 L317.30,351.23 L318.80,352.74 L320.30,352.94 L321.80,350.55 L323.30,351.95 L324.80,351.43 L326.30,352.32 L327.80,353.02 L329.30,351.55 L330.80,353.19 L332.30,351.98 L333.80,351.51 L335.30,353.37 L336.80,352.77 L338.30,351.63 L339.80,352.58 L341.30,351.38 L342.80,352.47 L344.30,351.92 L345.80,351.99 L347.30,351.47 L348.80,351.50 L350.30,352.40 L351.80,352.43 L353.30,353.20 L353.30,365.3 Z" fill="#555555" stroke="#555555" stroke-width="0.9" stroke-linejoin="round"/>
<g fill="#555555"><circle cx="340.7" cy="350.0" r="1.5"/><circle cx="341.2" cy="353.1" r="1.5"/><circle cx="303.6" cy="352.8" r="1.5"/><circle cx="300.1" cy="349.8" r="1.5"/><circle cx="290.2" cy="353.4" r="1.5"/><circle cx="348.6" cy="350.7" r="1.5"/><circle cx="331.3" cy="348.3" r="1.5"/><circle cx="326.2" cy="347.1" r="1.5"/><circle cx="301.0" cy="350.1" r="1.5"/><circle cx="313.0" cy="350.2" r="1.5"/><circle cx="321.6" cy="351.8" r="1.5"/><circle cx="309.5" cy="349.7" r="1.5"/><circle cx="331.3" cy="353.3" r="1.5"/><circle cx="326.7" cy="351.1" r="1.5"/><circle cx="328.3" cy="352.5" r="1.5"/><circle cx="336.5" cy="353.5" r="1.5"/><circle cx="342.1" cy="348.4" r="1.5"/><circle cx="316.0" cy="353.1" r="1.5"/><circle cx="322.0" cy="351.2" r="1.5"/><circle cx="346.3" cy="349.7" r="1.5"/><circle cx="334.8" cy="349.6" r="1.5"/><circle cx="326.6" cy="348.1" r="1.5"/><circle cx="326.3" cy="350.0" r="1.5"/><circle cx="316.9" cy="351.1" r="1.5"/><circle cx="291.4" cy="351.6" r="1.5"/><circle cx="303.5" cy="351.1" r="1.5"/><circle cx="303.3" cy="353.1" r="1.5"/><circle cx="350.3" cy="353.0" r="1.5"/><circle cx="315.2" cy="347.8" r="1.5"/><circle cx="336.2" cy="353.1" r="1.5"/><circle cx="294.4" cy="347.4" r="1.5"/><circle cx="322.7" cy="347.0" r="1.5"/><circle cx="303.8" cy="350.8" r="1.5"/><circle cx="292.1" cy="349.9" r="1.5"/><circle cx="313.7" cy="351.8" r="1.5"/><circle cx="291.1" cy="353.1" r="1.5"/><circle cx="307.9" cy="353.2" r="1.5"/><circle cx="351.0" cy="350.3" r="1.5"/><circle cx="307.1" cy="350.1" r="1.5"/><circle cx="300.7" cy="348.2" r="1.5"/><circle cx="318.5" cy="353.0" r="1.5"/><circle cx="352.2" cy="352.0" r="1.5"/><circle cx="300.4" cy="347.2" r="1.5"/><circle cx="294.9" cy="348.1" r="1.5"/><circle cx="346.1" cy="349.5" r="1.5"/><circle cx="296.8" cy="353.3" r="1.5"/><circle cx="316.8" cy="350.4" r="1.5"/><circle cx="307.9" cy="347.7" r="1.5"/><circle cx="299.8" cy="352.2" r="1.5"/><circle cx="339.0" cy="352.1" r="1.5"/><circle cx="345.1" cy="350.4" r="1.5"/><circle cx="307.5" cy="349.3" r="1.5"/><circle cx="305.9" cy="349.9" r="1.5"/><circle cx="351.4" cy="351.6" r="1.5"/><circle cx="322.3" cy="351.9" r="1.5"/><circle cx="306.4" cy="352.7" r="1.5"/><circle cx="293.7" cy="352.5" r="1.5"/><circle cx="303.9" cy="351.7" r="1.5"/><circle cx="300.1" cy="350.5" r="1.5"/></g>
<path d="M353.30,365.3 L353.30,351.27 L354.83,352.85 L356.36,353.24 L357.89,351.60 L359.42,352.62 L360.95,352.65 L362.48,352.34 L364.01,353.06 L365.54,352.35 L367.07,351.58 L368.61,351.56 L370.14,351.72 L371.67,352.90 L373.20,352.94 L374.73,352.28 L376.26,352.48 L377.79,351.28 L379.32,352.77 L380.85,353.12 L382.38,349.05 L383.91,352.16 L385.44,351.78 L386.97,351.36 L388.50,352.45 L390.03,352.94 L391.56,351.52 L393.09,351.29 L394.62,352.57 L396.16,351.78 L397.69,351.39 L399.22,351.58 L400.75,351.55 L402.28,353.03 L403.81,351.33 L405.34,352.00 L406.87,350.87 L408.40,352.87 L408.40,365.3 Z" fill="#a9a9a9" stroke="#a9a9a9" stroke-width="0.9" stroke-linejoin="round"/>
<g fill="#a9a9a9"><circle cx="361.8" cy="352.5" r="1.5"/><circle cx="356.2" cy="353.1" r="1.5"/><circle cx="361.7" cy="350.7" r="1.5"/><circle cx="376.8" cy="349.6" r="1.5"/><circle cx="407.4" cy="349.6" r="1.5"/><circle cx="366.4" cy="351.7" r="1.5"/><circle cx="367.0" cy="353.2" r="1.5"/><circle cx="373.6" cy="353.4" r="1.5"/><circle cx="386.8" cy="351.1" r="1.5"/><circle cx="388.9" cy="350.9" r="1.5"/><circle cx="391.3" cy="349.1" r="1.5"/><circle cx="401.5" cy="351.1" r="1.5"/><circle cx="399.2" cy="352.6" r="1.5"/><circle cx="365.6" cy="350.2" r="1.5"/><circle cx="383.5" cy="350.3" r="1.5"/><circle cx="365.6" cy="350.7" r="1.5"/><circle cx="378.0" cy="349.4" r="1.5"/><circle cx="400.3" cy="351.0" r="1.5"/><circle cx="358.0" cy="351.0" r="1.5"/><circle cx="368.8" cy="350.2" r="1.5"/><circle cx="368.1" cy="353.2" r="1.5"/><circle cx="392.4" cy="350.9" r="1.5"/><circle cx="362.3" cy="348.3" r="1.5"/><circle cx="395.1" cy="350.2" r="1.5"/><circle cx="355.2" cy="351.0" r="1.5"/><circle cx="358.5" cy="348.1" r="1.5"/><circle cx="395.3" cy="349.7" r="1.5"/><circle cx="375.2" cy="349.7" r="1.5"/><circle cx="362.2" cy="349.6" r="1.5"/><circle cx="370.8" cy="351.7" r="1.5"/><circle cx="361.4" cy="347.9" r="1.5"/><circle cx="392.9" cy="350.1" r="1.5"/><circle cx="365.1" cy="352.4" r="1.5"/><circle cx="375.8" cy="353.0" r="1.5"/><circle cx="366.2" cy="350.9" r="1.5"/><circle cx="365.6" cy="349.6" r="1.5"/><circle cx="387.8" cy="352.7" r="1.5"/><circle cx="406.3" cy="352.2" r="1.5"/><circle cx="403.3" cy="352.3" r="1.5"/><circle cx="389.8" cy="350.0" r="1.5"/><circle cx="366.7" cy="349.9" r="1.5"/><circle cx="377.0" cy="349.7" r="1.5"/><circle cx="374.6" cy="351.5" r="1.5"/><circle cx="369.1" cy="351.1" r="1.5"/><circle cx="379.5" cy="352.2" r="1.5"/><circle cx="366.9" cy="350.9" r="1.5"/><circle cx="376.7" cy="351.8" r="1.5"/><circle cx="391.6" cy="352.3" r="1.5"/><circle cx="355.3" cy="351.0" r="1.5"/></g>
<path d="M408.40,365.3 L408.40,351.34 L409.95,351.32 L411.50,352.49 L413.06,351.92 L414.61,351.25 L416.16,353.16 L417.71,351.78 L419.27,351.61 L420.82,352.55 L422.37,352.00 L423.92,353.27 L425.47,352.58 L427.03,352.10 L428.58,351.81 L430.13,353.14 L431.68,351.79 L433.23,352.32 L434.79,351.99 L436.34,351.53 L437.89,351.70 L439.44,349.08 L441.00,352.07 L442.55,352.29 L444.10,352.41 L444.10,365.3 Z" fill="#555555" stroke="#555555" stroke-width="0.9" stroke-linejoin="round"/>
<g fill="#555555"><circle cx="428.3" cy="350.4" r="1.5"/><circle cx="420.6" cy="353.0" r="1.5"/><circle cx="419.9" cy="349.4" r="1.5"/><circle cx="432.6" cy="349.9" r="1.5"/><circle cx="414.6" cy="351.5" r="1.5"/><circle cx="428.4" cy="350.6" r="1.5"/><circle cx="434.7" cy="350.4" r="1.5"/><circle cx="417.7" cy="350.2" r="1.5"/><circle cx="426.7" cy="349.8" r="1.5"/><circle cx="411.5" cy="352.3" r="1.5"/><circle cx="413.0" cy="352.6" r="1.5"/><circle cx="425.6" cy="353.0" r="1.5"/><circle cx="438.9" cy="350.5" r="1.5"/><circle cx="426.5" cy="348.4" r="1.5"/><circle cx="433.6" cy="352.4" r="1.5"/><circle cx="420.3" cy="352.5" r="1.5"/><circle cx="437.9" cy="349.0" r="1.5"/><circle cx="423.5" cy="349.2" r="1.5"/><circle cx="437.5" cy="347.4" r="1.5"/><circle cx="422.1" cy="350.4" r="1.5"/><circle cx="415.5" cy="351.8" r="1.5"/><circle cx="441.3" cy="347.5" r="1.5"/><circle cx="432.6" cy="352.0" r="1.5"/><circle cx="422.7" cy="350.5" r="1.5"/><circle cx="410.9" cy="347.4" r="1.5"/><circle cx="410.6" cy="352.4" r="1.5"/><circle cx="443.1" cy="350.8" r="1.5"/><circle cx="410.1" cy="351.4" r="1.5"/><circle cx="421.9" cy="352.7" r="1.5"/><circle cx="437.8" cy="351.1" r="1.5"/><circle cx="430.3" cy="350.4" r="1.5"/><circle cx="422.5" cy="351.7" r="1.5"/></g>
<path d="M444.10,365.3 L444.10,352.96 L445.66,347.78 L447.21,351.75 L448.77,351.46 L450.33,351.24 L451.89,351.52 L453.44,351.80 L455.00,352.26 L456.56,350.58 L458.11,353.16 L459.67,351.37 L461.23,352.26 L462.79,351.64 L464.34,352.27 L465.90,352.98 L465.90,365.3 Z" fill="#a9a9a9" stroke="#a9a9a9" stroke-width="0.9" stroke-linejoin="round"/>
<g fill="#a9a9a9"><circle cx="446.1" cy="352.1" r="1.5"/><circle cx="457.5" cy="353.3" r="1.5"/><circle cx="462.4" cy="348.6" r="1.5"/><circle cx="461.7" cy="347.6" r="1.5"/><circle cx="445.4" cy="350.0" r="1.5"/><circle cx="446.4" cy="352.5" r="1.5"/><circle cx="451.2" cy="349.5" r="1.5"/><circle cx="449.1" cy="347.0" r="1.5"/><circle cx="455.6" cy="349.8" r="1.5"/><circle cx="459.8" cy="352.7" r="1.5"/><circle cx="461.6" cy="350.5" r="1.5"/><circle cx="446.9" cy="348.4" r="1.5"/><circle cx="459.1" cy="353.1" r="1.5"/><circle cx="445.4" cy="350.4" r="1.5"/><circle cx="452.7" cy="352.1" r="1.5"/><circle cx="461.3" cy="352.1" r="1.5"/><circle cx="452.1" cy="353.1" r="1.5"/><circle cx="451.4" cy="350.8" r="1.5"/><circle cx="459.9" cy="352.5" r="1.5"/></g>
<path d="M465.90,365.3 L465.90,352.40 L467.46,350.16 L469.03,351.97 L470.59,351.22 L472.16,352.09 L473.72,352.38 L475.29,351.65 L476.85,351.91 L478.41,351.44 L479.98,352.15 L481.54,351.68 L483.11,352.75 L484.67,351.80 L486.24,353.28 L487.80,351.60 L487.80,365.3 Z" fill="#555555" stroke="#555555" stroke-width="0.9" stroke-linejoin="round"/>
<g fill="#555555"><circle cx="486.8" cy="352.0" r="1.5"/><circle cx="474.4" cy="350.3" r="1.5"/><circle cx="479.2" cy="350.0" r="1.5"/><circle cx="479.5" cy="351.8" r="1.5"/><circle cx="469.0" cy="349.4" r="1.5"/><circle cx="475.9" cy="351.2" r="1.5"/><circle cx="474.5" cy="351.9" r="1.5"/><circle cx="478.3" cy="349.6" r="1.5"/><circle cx="479.4" cy="351.9" r="1.5"/><circle cx="478.8" cy="347.5" r="1.5"/><circle cx="476.2" cy="349.6" r="1.5"/><circle cx="473.1" cy="350.5" r="1.5"/><circle cx="474.9" cy="347.4" r="1.5"/><circle cx="486.8" cy="350.4" r="1.5"/><circle cx="483.8" cy="353.3" r="1.5"/><circle cx="483.5" cy="348.8" r="1.5"/><circle cx="486.9" cy="353.0" r="1.5"/><circle cx="481.1" cy="352.7" r="1.5"/><circle cx="475.9" cy="353.0" r="1.5"/></g>
<path d="M487.80,365.3 L487.80,351.63 L489.41,349.95 L491.02,352.93 L492.62,351.73 L494.23,353.08 L495.84,352.41 L497.45,352.95 L499.06,350.89 L500.67,351.96 L502.28,351.49 L503.88,352.05 L505.49,352.56 L507.10,351.36 L507.10,365.3 Z" fill="#a9a9a9" stroke="#a9a9a9" stroke-width="0.9" stroke-linejoin="round"/>
<g fill="#a9a9a9"><circle cx="492.3" cy="353.0" r="1.5"/><circle cx="501.5" cy="352.2" r="1.5"/><circle cx="496.2" cy="350.9" r="1.5"/><circle cx="494.2" cy="350.6" r="1.5"/><circle cx="499.3" cy="350.2" r="1.5"/><circle cx="490.9" cy="351.4" r="1.5"/><circle cx="490.9" cy="353.3" r="1.5"/><circle cx="499.4" cy="350.3" r="1.5"/><circle cx="506.2" cy="352.4" r="1.5"/><circle cx="495.0" cy="351.1" r="1.5"/><circle cx="491.2" cy="351.2" r="1.5"/><circle cx="503.1" cy="351.3" r="1.5"/><circle cx="497.6" cy="348.2" r="1.5"/><circle cx="501.1" cy="351.8" r="1.5"/><circle cx="493.6" cy="348.0" r="1.5"/><circle cx="503.7" cy="351.3" r="1.5"/><circle cx="505.1" cy="352.5" r="1.5"/></g>
<path d="M507.10,365.3 L507.10,352.52 L508.64,351.34 L510.19,351.82 L511.73,353.30 L513.28,352.73 L514.82,351.74 L516.37,351.49 L517.91,351.75 L519.46,351.95 L521.00,353.07 L521.00,365.3 Z" fill="#555555" stroke="#555555" stroke-width="0.9" stroke-linejoin="round"/>
<g fill="#555555"><circle cx="514.6" cy="353.1" r="1.5"/><circle cx="509.0" cy="351.0" r="1.5"/><circle cx="516.8" cy="350.9" r="1.5"/><circle cx="518.9" cy="347.1" r="1.5"/><circle cx="515.7" cy="350.9" r="1.5"/><circle cx="513.6" cy="352.2" r="1.5"/><circle cx="515.3" cy="350.4" r="1.5"/><circle cx="520.1" cy="352.8" r="1.5"/><circle cx="515.9" cy="350.5" r="1.5"/><circle cx="508.7" cy="351.1" r="1.5"/><circle cx="516.0" cy="353.5" r="1.5"/><circle cx="510.5" cy="350.1" r="1.5"/></g>
<path d="M521.00,365.3 L521.00,352.07 L522.58,351.38 L524.15,352.63 L525.73,352.83 L527.30,352.98 L528.88,350.50 L530.45,351.23 L532.02,353.28 L533.60,351.25 L533.60,365.3 Z" fill="#a9a9a9" stroke="#a9a9a9" stroke-width="0.9" stroke-linejoin="round"/>
<g fill="#a9a9a9"><circle cx="527.7" cy="349.9" r="1.5"/><circle cx="530.5" cy="351.5" r="1.5"/><circle cx="523.2" cy="350.0" r="1.5"/><circle cx="522.8" cy="350.7" r="1.5"/><circle cx="530.4" cy="351.2" r="1.5"/><circle cx="522.4" cy="351.3" r="1.5"/><circle cx="527.9" cy="352.9" r="1.5"/><circle cx="522.9" cy="347.5" r="1.5"/><circle cx="532.5" cy="351.1" r="1.5"/><circle cx="528.5" cy="350.4" r="1.5"/><circle cx="526.3" cy="350.1" r="1.5"/></g>
<path d="M533.60,365.3 L533.60,353.00 L535.29,352.77 L536.97,351.04 L538.66,351.86 L540.34,352.61 L542.03,351.30 L543.71,351.37 L545.40,351.45 L545.40,365.3 Z" fill="#555555" stroke="#555555" stroke-width="0.9" stroke-linejoin="round"/>
<g fill="#555555"><circle cx="537.8" cy="352.1" r="1.5"/><circle cx="543.4" cy="349.0" r="1.5"/><circle cx="539.5" cy="348.4" r="1.5"/><circle cx="537.5" cy="347.9" r="1.5"/><circle cx="538.2" cy="351.4" r="1.5"/><circle cx="538.1" cy="351.3" r="1.5"/><circle cx="534.9" cy="347.2" r="1.5"/><circle cx="539.8" cy="351.1" r="1.5"/><circle cx="536.7" cy="351.0" r="1.5"/><circle cx="537.6" cy="350.4" r="1.5"/></g>
<path d="M545.40,365.3 L545.40,352.85 L546.92,351.22 L548.45,350.55 L549.98,353.31 L551.50,352.52 L553.02,351.86 L554.55,352.50 L556.08,352.29 L557.60,351.58 L557.60,365.3 Z" fill="#a9a9a9" stroke="#a9a9a9" stroke-width="0.9" stroke-linejoin="round"/>
<g fill="#a9a9a9"><circle cx="548.9" cy="352.7" r="1.5"/><circle cx="550.7" cy="348.4" r="1.5"/><circle cx="549.2" cy="349.8" r="1.5"/><circle cx="556.6" cy="348.1" r="1.5"/><circle cx="549.6" cy="349.8" r="1.5"/><circle cx="553.0" cy="352.6" r="1.5"/><circle cx="546.7" cy="351.7" r="1.5"/><circle cx="556.0" cy="349.6" r="1.5"/><circle cx="556.1" cy="349.0" r="1.5"/><circle cx="546.3" cy="348.5" r="1.5"/></g>
<path d="M557.60,365.3 L557.60,352.70 L559.20,349.87 L560.80,352.17 L562.40,352.03 L564.00,350.20 L565.60,351.47 L567.20,353.03 L568.80,351.05 L568.80,365.3 Z" fill="#555555" stroke="#555555" stroke-width="0.9" stroke-linejoin="round"/>
<g fill="#555555"><circle cx="561.4" cy="349.0" r="1.5"/><circle cx="567.3" cy="351.2" r="1.5"/><circle cx="563.5" cy="347.4" r="1.5"/><circle cx="566.8" cy="349.6" r="1.5"/><circle cx="562.5" cy="352.2" r="1.5"/><circle cx="567.3" cy="352.3" r="1.5"/><circle cx="562.1" cy="347.4" r="1.5"/><circle cx="565.5" cy="351.8" r="1.5"/><circle cx="560.3" cy="350.2" r="1.5"/><circle cx="561.8" cy="351.6" r="1.5"/></g>
<path d="M568.80,365.3 L568.80,352.05 L570.50,353.05 L572.20,352.48 L573.90,353.36 L575.60,352.73 L577.30,351.77 L579.00,352.46 L579.00,365.3 Z" fill="#a9a9a9" stroke="#a9a9a9" stroke-width="0.9" stroke-linejoin="round"/>
<g fill="#a9a9a9"><circle cx="570.2" cy="348.3" r="1.5"/><circle cx="575.8" cy="352.0" r="1.5"/><circle cx="574.4" cy="350.2" r="1.5"/><circle cx="573.5" cy="350.4" r="1.5"/><circle cx="576.1" cy="350.7" r="1.5"/><circle cx="576.9" cy="352.3" r="1.5"/><circle cx="574.5" cy="350.8" r="1.5"/><circle cx="570.9" cy="349.7" r="1.5"/><circle cx="576.5" cy="352.6" r="1.5"/></g>
<path d="M579.00,365.3 L579.00,351.68 L580.50,352.38 L582.00,351.47 L583.50,352.48 L585.00,353.23 L586.50,352.00 L586.50,365.3 Z" fill="#555555" stroke="#555555" stroke-width="0.9" stroke-linejoin="round"/>
<g fill="#555555"><circle cx="584.0" cy="352.9" r="1.5"/><circle cx="584.1" cy="350.5" r="1.5"/><circle cx="579.9" cy="350.5" r="1.5"/><circle cx="581.5" cy="350.0" r="1.5"/><circle cx="582.7" cy="350.6" r="1.5"/><circle cx="581.4" cy="353.0" r="1.5"/></g>
<path d="M586.50,365.3 L586.50,351.55 L587.70,353.08 L588.90,352.40 L588.90,365.3 Z" fill="#a9a9a9" stroke="#a9a9a9" stroke-width="0.9" stroke-linejoin="round"/>
<g fill="#a9a9a9"><circle cx="587.7" cy="353.2" r="1.5"/><circle cx="587.9" cy="349.7" r="1.5"/></g>
<path d="M588.90,365.3 L588.90,353.26 L590.77,352.93 L592.63,352.20 L594.50,352.80 L594.50,365.3 Z" fill="#555555" stroke="#555555" stroke-width="0.9" stroke-linejoin="round"/>
<g fill="#555555"><circle cx="591.7" cy="350.9" r="1.5"/><circle cx="590.6" cy="347.4" r="1.5"/><circle cx="593.5" cy="349.8" r="1.5"/><circle cx="593.3" cy="351.8" r="1.5"/><circle cx="590.2" cy="348.1" r="1.5"/></g>
<path d="M594.50,365.3 L594.50,350.12 L596.23,348.64 L597.95,353.36 L599.67,353.08 L601.40,349.77 L601.40,365.3 Z" fill="#a9a9a9" stroke="#a9a9a9" stroke-width="0.9" stroke-linejoin="round"/>
<g fill="#a9a9a9"><circle cx="596.3" cy="350.9" r="1.5"/><circle cx="597.9" cy="352.3" r="1.5"/><circle cx="597.5" cy="349.8" r="1.5"/><circle cx="597.9" cy="353.4" r="1.5"/><circle cx="598.3" cy="350.7" r="1.5"/><circle cx="597.1" cy="350.3" r="1.5"/></g>
<path d="M601.40,365.3 L601.40,353.35 L603.02,353.24 L604.65,350.79 L606.27,352.50 L607.90,352.55 L607.90,365.3 Z" fill="#555555" stroke="#555555" stroke-width="0.9" stroke-linejoin="round"/>
<g fill="#555555"><circle cx="606.8" cy="351.6" r="1.5"/><circle cx="606.9" cy="349.9" r="1.5"/><circle cx="606.5" cy="347.1" r="1.5"/><circle cx="602.4" cy="349.4" r="1.5"/><circle cx="604.7" cy="352.5" r="1.5"/></g>
<path d="M607.90,365.3 L607.90,351.77 L609.56,352.95 L611.22,353.03 L612.88,351.94 L614.54,351.23 L616.20,351.78 L616.20,365.3 Z" fill="#a9a9a9" stroke="#a9a9a9" stroke-width="0.9" stroke-linejoin="round"/>
<g fill="#a9a9a9"><circle cx="612.2" cy="352.2" r="1.5"/><circle cx="611.7" cy="353.0" r="1.5"/><circle cx="609.9" cy="350.5" r="1.5"/><circle cx="611.9" cy="348.2" r="1.5"/><circle cx="610.3" cy="350.5" r="1.5"/><circle cx="612.2" cy="353.0" r="1.5"/><circle cx="609.9" cy="350.7" r="1.5"/></g>
<path d="M616.20,365.3 L616.20,351.93 L618.20,352.68 L620.20,349.10 L620.20,365.3 Z" fill="#555555" stroke="#555555" stroke-width="0.9" stroke-linejoin="round"/>
<g fill="#555555"><circle cx="617.6" cy="351.2" r="1.5"/><circle cx="619.4" cy="350.9" r="1.5"/><circle cx="619.2" cy="348.4" r="1.5"/></g>
<path d="M620.20,365.3 L620.20,351.50 L621.65,352.92 L623.10,352.94 L623.10,365.3 Z" fill="#a9a9a9" stroke="#a9a9a9" stroke-width="0.9" stroke-linejoin="round"/>
<g fill="#a9a9a9"><circle cx="621.4" cy="352.5" r="1.5"/><circle cx="621.6" cy="347.0" r="1.5"/></g>
<path d="M623.10,365.3 L623.10,352.30 L625.10,351.34 L627.10,351.52 L627.10,365.3 Z" fill="#555555" stroke="#555555" stroke-width="0.9" stroke-linejoin="round"/>
<g fill="#555555"><circle cx="626.0" cy="350.3" r="1.5"/><circle cx="624.7" cy="347.5" r="1.5"/><circle cx="625.6" cy="347.7" r="1.5"/></g>
<path d="M627.10,365.3 L627.10,351.50 L628.70,353.14 L630.30,353.29 L630.30,365.3 Z" fill="#a9a9a9" stroke="#a9a9a9" stroke-width="0.9" stroke-linejoin="round"/>
<g fill="#a9a9a9"><circle cx="628.5" cy="350.6" r="1.5"/><circle cx="629.4" cy="350.2" r="1.5"/></g>
<path d="M630.30,365.3 L630.30,350.04 L631.70,351.60 L633.10,352.36 L633.10,365.3 Z" fill="#555555" stroke="#555555" stroke-width="0.9" stroke-linejoin="round"/>
<g fill="#555555"><circle cx="631.8" cy="348.8" r="1.5"/><circle cx="632.2" cy="350.4" r="1.5"/></g>
<path d="M633.10,365.3 L633.10,351.37 L634.95,352.87 L636.80,352.31 L636.80,365.3 Z" fill="#a9a9a9" stroke="#a9a9a9" stroke-width="0.9" stroke-linejoin="round"/>
<g fill="#a9a9a9"><circle cx="634.6" cy="350.7" r="1.5"/><circle cx="635.6" cy="348.6" r="1.5"/><circle cx="635.2" cy="348.6" r="1.5"/></g>
<path d="M636.80,365.3 L636.80,351.62 L638.95,350.06 L641.10,350.59 L641.10,365.3 Z" fill="#555555" stroke="#555555" stroke-width="0.9" stroke-linejoin="round"/>
<g fill="#555555"><circle cx="638.1" cy="347.7" r="1.5"/><circle cx="637.7" cy="352.7" r="1.5"/><circle cx="638.9" cy="351.4" r="1.5"/></g>
<path d="M641.10,365.3 L641.10,349.69 L642.30,351.29 L643.50,352.56 L643.50,365.3 Z" fill="#a9a9a9" stroke="#a9a9a9" stroke-width="0.9" stroke-linejoin="round"/>
<g fill="#a9a9a9"><circle cx="642.3" cy="350.8" r="1.5"/><circle cx="642.2" cy="349.0" r="1.5"/></g>
<path d="M643.50,365.3 L643.50,352.12 L644.30,352.21 L645.10,353.21 L645.10,365.3 Z" fill="#555555" stroke="#555555" stroke-width="0.9" stroke-linejoin="round"/>
<g fill="#555555"><circle cx="644.3" cy="350.1" r="1.5"/></g>
<path d="M645.10,365.3 L645.10,351.56 L646.70,353.37 L648.30,351.58 L648.30,365.3 Z" fill="#a9a9a9" stroke="#a9a9a9" stroke-width="0.9" stroke-linejoin="round"/>
<g fill="#a9a9a9"><circle cx="646.3" cy="350.1" r="1.5"/><circle cx="647.4" cy="349.9" r="1.5"/></g>
<path d="M648.30,365.3 L648.30,352.71 L648.70,352.43 L649.10,353.23 L649.10,365.3 Z" fill="#555555" stroke="#555555" stroke-width="0.9" stroke-linejoin="round"/>
<g fill="#555555"></g>
<path d="M649.10,365.3 L649.10,349.54 L650.92,351.79 L652.75,352.59 L654.58,351.40 L656.40,352.26 L656.40,365.3 Z" fill="#a9a9a9" stroke="#a9a9a9" stroke-width="0.9" stroke-linejoin="round"/>
<g fill="#a9a9a9"><circle cx="655.4" cy="351.3" r="1.5"/><circle cx="650.4" cy="347.8" r="1.5"/><circle cx="654.6" cy="347.9" r="1.5"/><circle cx="655.0" cy="351.2" r="1.5"/><circle cx="653.1" cy="348.7" r="1.5"/><circle cx="652.6" cy="352.9" r="1.5"/></g>
<circle cx="260.1" cy="275.5" r="1.5" fill="#b5b5b5"/>
<circle cx="260.1" cy="307.2" r="1.5" fill="#b5b5b5"/>
<circle cx="260.1" cy="312.3" r="1.5" fill="#b5b5b5"/>
<circle cx="260.1" cy="318.9" r="1.5" fill="#b5b5b5"/>
<circle cx="260.1" cy="327.7" r="1.5" fill="#b5b5b5"/>
<circle cx="260.1" cy="331.3" r="1.5" fill="#b5b5b5"/>
<circle cx="260.1" cy="334.2" r="1.5" fill="#b5b5b5"/>
<circle cx="260.1" cy="336.4" r="1.5" fill="#b5b5b5"/>
<circle cx="260.1" cy="340.0" r="1.5" fill="#b5b5b5"/>
<circle cx="260.1" cy="344.0" r="1.5" fill="#b5b5b5"/>
<circle cx="639.4" cy="207.6" r="1.35" fill="#555"/>
<circle cx="640.1" cy="208.6" r="1.35" fill="#555"/>
<circle cx="639.4" cy="223.2" r="1.35" fill="#555"/>
<circle cx="640.1" cy="224.4" r="1.35" fill="#555"/>
<circle cx="639.4" cy="242.7" r="1.35" fill="#555"/>
<circle cx="640.1" cy="243.8" r="1.35" fill="#555"/>
<circle cx="639.4" cy="262.4" r="1.35" fill="#555"/>
<circle cx="640.1" cy="269.6" r="1.35" fill="#555"/>
<circle cx="639.4" cy="274.0" r="1.35" fill="#555"/>
<circle cx="640.1" cy="275.6" r="1.35" fill="#555"/>
<circle cx="639.4" cy="277.2" r="1.35" fill="#555"/>
<circle cx="640.1" cy="278.8" r="1.35" fill="#555"/>
<circle cx="639.4" cy="280.4" r="1.35" fill="#555"/>
<circle cx="640.1" cy="282.0" r="1.35" fill="#555"/>
<circle cx="639.4" cy="283.6" r="1.35" fill="#555"/>
<circle cx="640.1" cy="285.2" r="1.35" fill="#555"/>
<circle cx="639.4" cy="286.8" r="1.35" fill="#555"/>
<circle cx="640.1" cy="288.4" r="1.35" fill="#555"/>
<circle cx="639.4" cy="290.0" r="1.35" fill="#555"/>
<circle cx="640.1" cy="297.3" r="1.35" fill="#555"/>
<circle cx="639.4" cy="299.5" r="1.35" fill="#555"/>
<circle cx="420.0" cy="349.0" r="1.5" fill="#b0b0b0"/>
<circle cx="452.0" cy="349.0" r="1.5" fill="#b0b0b0"/>
<circle cx="470.0" cy="350.0" r="1.5" fill="#b0b0b0"/>
<circle cx="548.0" cy="349.0" r="1.5" fill="#b0b0b0"/>
<circle cx="590.0" cy="349.0" r="1.5" fill="#b0b0b0"/>
<circle cx="632.0" cy="347.5" r="1.5" fill="#b0b0b0"/>
<circle cx="236.0" cy="350.0" r="1.5" fill="#b0b0b0"/>
<circle cx="250.0" cy="349.5" r="1.5" fill="#b0b0b0"/>
<circle cx="330.0" cy="349.0" r="1.5" fill="#b0b0b0"/>
<circle cx="360.0" cy="349.0" r="1.5" fill="#b0b0b0"/>
<circle cx="82.8" cy="346.8" r="2.25" fill="#90bce7" stroke="#111" stroke-width="1.2"/>
<circle cx="90.8" cy="350.3" r="2.25" fill="#f2a07a" stroke="#111" stroke-width="1.2"/>
<circle cx="80.5" cy="350.1" r="2.25" fill="#4b78c8" stroke="#111" stroke-width="1.2"/>
<circle cx="87.2" cy="349.4" r="2.25" fill="#f2a07a" stroke="#111" stroke-width="1.2"/>
<circle cx="87.0" cy="349.5" r="2.25" fill="#f2a07a" stroke="#111" stroke-width="1.2"/>
<circle cx="82.3" cy="348.8" r="2.25" fill="#f2a07a" stroke="#111" stroke-width="1.2"/>
<circle cx="79.8" cy="345.9" r="2.25" fill="#90bce7" stroke="#111" stroke-width="1.2"/>
<circle cx="90.2" cy="351.2" r="2.25" fill="#4b78c8" stroke="#111" stroke-width="1.2"/>
<circle cx="140.8" cy="344.3" r="2.25" fill="#90bce7" stroke="#111" stroke-width="1.2"/>
<circle cx="136.3" cy="346.4" r="2.25" fill="#90bce7" stroke="#111" stroke-width="1.2"/>
<circle cx="115.2" cy="349.6" r="2.25" fill="#90bce7" stroke="#111" stroke-width="1.2"/>
<circle cx="108.7" cy="348.7" r="2.25" fill="#90bce7" stroke="#111" stroke-width="1.2"/>
<circle cx="143.9" cy="347.2" r="2.25" fill="#f2a07a" stroke="#111" stroke-width="1.2"/>
<circle cx="110.7" cy="348.8" r="2.25" fill="#90bce7" stroke="#111" stroke-width="1.2"/>
<circle cx="115.8" cy="348.4" r="2.25" fill="#90bce7" stroke="#111" stroke-width="1.2"/>
<circle cx="153.0" cy="349.7" r="2.25" fill="#90bce7" stroke="#111" stroke-width="1.2"/>
<circle cx="125.9" cy="345.8" r="2.25" fill="#90bce7" stroke="#111" stroke-width="1.2"/>
<circle cx="129.3" cy="349.3" r="2.25" fill="#90bce7" stroke="#111" stroke-width="1.2"/>
<circle cx="118.3" cy="348.1" r="2.25" fill="#f2a07a" stroke="#111" stroke-width="1.2"/>
<circle cx="154.4" cy="350.7" r="2.25" fill="#90bce7" stroke="#111" stroke-width="1.2"/>
<circle cx="151.8" cy="346.0" r="2.25" fill="#90bce7" stroke="#111" stroke-width="1.2"/>
<circle cx="127.2" cy="344.8" r="2.25" fill="#90bce7" stroke="#111" stroke-width="1.2"/>
<circle cx="106.1" cy="349.2" r="2.25" fill="#90bce7" stroke="#111" stroke-width="1.2"/>
<circle cx="144.5" cy="344.2" r="2.25" fill="#90bce7" stroke="#111" stroke-width="1.2"/>
<circle cx="110.3" cy="347.0" r="2.25" fill="#90bce7" stroke="#111" stroke-width="1.2"/>
<circle cx="109.6" cy="346.9" r="2.25" fill="#90bce7" stroke="#111" stroke-width="1.2"/>
<circle cx="129.8" cy="348.4" r="2.25" fill="#f2a07a" stroke="#111" stroke-width="1.2"/>
<circle cx="107.1" cy="347.2" r="2.25" fill="#90bce7" stroke="#111" stroke-width="1.2"/>
<circle cx="149.5" cy="350.2" r="2.25" fill="#90bce7" stroke="#111" stroke-width="1.2"/>
<circle cx="138.5" cy="345.5" r="2.25" fill="#90bce7" stroke="#111" stroke-width="1.2"/>
<circle cx="120.9" cy="346.3" r="2.25" fill="#90bce7" stroke="#111" stroke-width="1.2"/>
<circle cx="124.4" cy="351.4" r="2.25" fill="#90bce7" stroke="#111" stroke-width="1.2"/>
<circle cx="109.7" cy="347.4" r="2.25" fill="#f2a07a" stroke="#111" stroke-width="1.2"/>
<circle cx="138.8" cy="347.3" r="2.25" fill="#4b78c8" stroke="#111" stroke-width="1.2"/>
<circle cx="154.0" cy="349.8" r="2.25" fill="#90bce7" stroke="#111" stroke-width="1.2"/>
<circle cx="126.9" cy="347.8" r="2.25" fill="#90bce7" stroke="#111" stroke-width="1.2"/>
<circle cx="115.6" cy="350.8" r="2.25" fill="#f2a07a" stroke="#111" stroke-width="1.2"/>
<circle cx="125.2" cy="348.9" r="2.25" fill="#4b78c8" stroke="#111" stroke-width="1.2"/>
<circle cx="129.4" cy="345.9" r="2.25" fill="#90bce7" stroke="#111" stroke-width="1.2"/>
<circle cx="112.7" cy="349.9" r="2.25" fill="#f2a07a" stroke="#111" stroke-width="1.2"/>
<circle cx="133.8" cy="343.5" r="2.25" fill="#90bce7" stroke="#111" stroke-width="1.2"/>
<circle cx="130.2" cy="350.7" r="2.25" fill="#4b78c8" stroke="#111" stroke-width="1.2"/>
<circle cx="135.7" cy="350.9" r="2.25" fill="#90bce7" stroke="#111" stroke-width="1.2"/>
<circle cx="120.2" cy="342.1" r="2.25" fill="#90bce7" stroke="#111" stroke-width="1.2"/>
<circle cx="139.8" cy="347.8" r="2.25" fill="#4b78c8" stroke="#111" stroke-width="1.2"/>
<circle cx="131.2" cy="347.9" r="2.25" fill="#90bce7" stroke="#111" stroke-width="1.2"/>
<circle cx="146.9" cy="348.6" r="2.25" fill="#4b78c8" stroke="#111" stroke-width="1.2"/>
<circle cx="155.2" cy="342.5" r="2.25" fill="#f2a07a" stroke="#111" stroke-width="1.2"/>
<circle cx="160.7" cy="348.3" r="2.25" fill="#90bce7" stroke="#111" stroke-width="1.2"/>
<circle cx="160.7" cy="350.8" r="2.25" fill="#90bce7" stroke="#111" stroke-width="1.2"/>
<circle cx="160.7" cy="348.3" r="2.25" fill="#90bce7" stroke="#111" stroke-width="1.2"/>
<circle cx="159.2" cy="349.4" r="2.25" fill="#f2a07a" stroke="#111" stroke-width="1.2"/>
<circle cx="164.3" cy="349.1" r="2.25" fill="#4b78c8" stroke="#111" stroke-width="1.2"/>
<circle cx="171.2" cy="345.6" r="2.25" fill="#90bce7" stroke="#111" stroke-width="1.2"/>
<circle cx="162.8" cy="349.7" r="2.25" fill="#90bce7" stroke="#111" stroke-width="1.2"/>
<circle cx="172.9" cy="348.1" r="2.25" fill="#90bce7" stroke="#111" stroke-width="1.2"/>
<circle cx="171.9" cy="347.7" r="2.25" fill="#90bce7" stroke="#111" stroke-width="1.2"/>
<circle cx="173.8" cy="348.6" r="2.25" fill="#90bce7" stroke="#111" stroke-width="1.2"/>
<circle cx="166.2" cy="347.2" r="2.25" fill="#4b78c8" stroke="#111" stroke-width="1.2"/>
<circle cx="162.0" cy="347.3" r="2.25" fill="#90bce7" stroke="#111" stroke-width="1.2"/>
<circle cx="169.7" cy="346.2" r="2.25" fill="#90bce7" stroke="#111" stroke-width="1.2"/>
<circle cx="164.5" cy="349.9" r="2.25" fill="#4b78c8" stroke="#111" stroke-width="1.2"/>
<circle cx="190.9" cy="350.4" r="2.25" fill="#4b78c8" stroke="#111" stroke-width="1.2"/>
<circle cx="187.5" cy="348.0" r="2.25" fill="#4b78c8" stroke="#111" stroke-width="1.2"/>
<circle cx="183.3" cy="349.4" r="2.25" fill="#4b78c8" stroke="#111" stroke-width="1.2"/>
<circle cx="181.4" cy="348.2" r="2.25" fill="#4b78c8" stroke="#111" stroke-width="1.2"/>
<circle cx="195.0" cy="344.0" r="2.25" fill="#4b78c8" stroke="#111" stroke-width="1.2"/>
<circle cx="194.5" cy="345.9" r="2.25" fill="#90bce7" stroke="#111" stroke-width="1.2"/>
<circle cx="187.3" cy="346.3" r="2.25" fill="#4b78c8" stroke="#111" stroke-width="1.2"/>
<circle cx="180.0" cy="350.5" r="2.25" fill="#4b78c8" stroke="#111" stroke-width="1.2"/>
<circle cx="195.8" cy="350.7" r="2.25" fill="#4b78c8" stroke="#111" stroke-width="1.2"/>
<circle cx="181.1" cy="347.5" r="2.25" fill="#90bce7" stroke="#111" stroke-width="1.2"/>
<circle cx="189.7" cy="350.3" r="2.25" fill="#90bce7" stroke="#111" stroke-width="1.2"/>
<circle cx="182.0" cy="346.8" r="2.25" fill="#4b78c8" stroke="#111" stroke-width="1.2"/>
<circle cx="195.2" cy="346.1" r="2.25" fill="#4b78c8" stroke="#111" stroke-width="1.2"/>
<circle cx="192.3" cy="345.1" r="2.25" fill="#4b78c8" stroke="#111" stroke-width="1.2"/>
<circle cx="180.5" cy="345.7" r="2.25" fill="#90bce7" stroke="#111" stroke-width="1.2"/>
<circle cx="195.7" cy="350.9" r="2.25" fill="#90bce7" stroke="#111" stroke-width="1.2"/>
<circle cx="189.1" cy="345.8" r="2.25" fill="#90bce7" stroke="#111" stroke-width="1.2"/>
<circle cx="189.8" cy="345.7" r="2.25" fill="#90bce7" stroke="#111" stroke-width="1.2"/>
<circle cx="182.3" cy="346.1" r="2.25" fill="#90bce7" stroke="#111" stroke-width="1.2"/>
<circle cx="190.5" cy="346.9" r="2.25" fill="#4b78c8" stroke="#111" stroke-width="1.2"/>
<circle cx="190.1" cy="347.8" r="2.25" fill="#90bce7" stroke="#111" stroke-width="1.2"/>
<circle cx="185.4" cy="348.4" r="2.25" fill="#4b78c8" stroke="#111" stroke-width="1.2"/>
<circle cx="195.7" cy="343.3" r="2.25" fill="#4b78c8" stroke="#111" stroke-width="1.2"/>
<circle cx="188.9" cy="347.9" r="2.25" fill="#90bce7" stroke="#111" stroke-width="1.2"/>
<circle cx="182.3" cy="345.4" r="2.25" fill="#90bce7" stroke="#111" stroke-width="1.2"/>
<circle cx="184.9" cy="345.7" r="2.25" fill="#4b78c8" stroke="#111" stroke-width="1.2"/>
<circle cx="191.0" cy="344.4" r="2.25" fill="#90bce7" stroke="#111" stroke-width="1.2"/>
<circle cx="194.1" cy="343.3" r="2.25" fill="#90bce7" stroke="#111" stroke-width="1.2"/>
<circle cx="193.2" cy="348.5" r="2.25" fill="#4b78c8" stroke="#111" stroke-width="1.2"/>
<circle cx="198.5" cy="342.7" r="2.25" fill="#90bce7" stroke="#111" stroke-width="1.2"/>
<circle cx="198.4" cy="343.3" r="2.25" fill="#90bce7" stroke="#111" stroke-width="1.2"/>
<circle cx="197.3" cy="344.0" r="2.25" fill="#4b78c8" stroke="#111" stroke-width="1.2"/>
<circle cx="200.7" cy="350.8" r="2.25" fill="#90bce7" stroke="#111" stroke-width="1.2"/>
<circle cx="200.0" cy="346.5" r="2.25" fill="#90bce7" stroke="#111" stroke-width="1.2"/>
<circle cx="197.5" cy="348.9" r="2.25" fill="#4b78c8" stroke="#111" stroke-width="1.2"/>
<circle cx="207.0" cy="351.0" r="2.25" fill="#4b78c8" stroke="#111" stroke-width="1.2"/>
<circle cx="200.8" cy="348.8" r="2.25" fill="#4b78c8" stroke="#111" stroke-width="1.2"/>
<circle cx="201.1" cy="350.1" r="2.25" fill="#4b78c8" stroke="#111" stroke-width="1.2"/>
<circle cx="199.9" cy="344.4" r="2.25" fill="#4b78c8" stroke="#111" stroke-width="1.2"/>
<circle cx="201.7" cy="348.2" r="2.25" fill="#90bce7" stroke="#111" stroke-width="1.2"/>
<circle cx="204.1" cy="351.2" r="2.25" fill="#90bce7" stroke="#111" stroke-width="1.2"/>
<circle cx="226.1" cy="345.3" r="2.25" fill="#4b78c8" stroke="#111" stroke-width="1.2"/>
<circle cx="222.0" cy="347.5" r="2.25" fill="#90bce7" stroke="#111" stroke-width="1.2"/>
<circle cx="215.0" cy="344.5" r="2.25" fill="#4b78c8" stroke="#111" stroke-width="1.2"/>
<circle cx="215.8" cy="346.3" r="2.25" fill="#90bce7" stroke="#111" stroke-width="1.2"/>
<circle cx="221.2" cy="349.0" r="2.25" fill="#4b78c8" stroke="#111" stroke-width="1.2"/>
<circle cx="224.6" cy="343.4" r="2.25" fill="#4b78c8" stroke="#111" stroke-width="1.2"/>
<circle cx="217.6" cy="346.5" r="2.25" fill="#90bce7" stroke="#111" stroke-width="1.2"/>
<circle cx="222.1" cy="345.2" r="2.25" fill="#90bce7" stroke="#111" stroke-width="1.2"/>
<circle cx="216.3" cy="349.4" r="2.25" fill="#4b78c8" stroke="#111" stroke-width="1.2"/>
<circle cx="220.9" cy="342.5" r="2.25" fill="#4b78c8" stroke="#111" stroke-width="1.2"/>
<circle cx="218.0" cy="342.6" r="2.25" fill="#4b78c8" stroke="#111" stroke-width="1.2"/>
<circle cx="216.2" cy="350.7" r="2.25" fill="#4b78c8" stroke="#111" stroke-width="1.2"/>
<circle cx="239.6" cy="350.6" r="2.25" fill="#f2a07a" stroke="#111" stroke-width="1.2"/>
<circle cx="241.8" cy="350.1" r="2.25" fill="#f2a07a" stroke="#111" stroke-width="1.2"/>
<circle cx="237.0" cy="350.4" r="2.25" fill="#4b78c8" stroke="#111" stroke-width="1.2"/>
<circle cx="233.5" cy="348.1" r="2.25" fill="#f2a07a" stroke="#111" stroke-width="1.2"/>
<circle cx="237.1" cy="345.6" r="2.25" fill="#4b78c8" stroke="#111" stroke-width="1.2"/>
<circle cx="236.6" cy="347.6" r="2.25" fill="#4b78c8" stroke="#111" stroke-width="1.2"/>
<circle cx="237.8" cy="346.0" r="2.25" fill="#f2a07a" stroke="#111" stroke-width="1.2"/>
<circle cx="263.1" cy="348.2" r="2.25" fill="#90bce7" stroke="#111" stroke-width="1.2"/>
<circle cx="272.4" cy="349.5" r="2.25" fill="#90bce7" stroke="#111" stroke-width="1.2"/>
<circle cx="249.1" cy="342.6" r="2.25" fill="#f2a07a" stroke="#111" stroke-width="1.2"/>
<circle cx="255.0" cy="345.4" r="2.25" fill="#f2a07a" stroke="#111" stroke-width="1.2"/>
<circle cx="249.3" cy="342.3" r="2.25" fill="#f2a07a" stroke="#111" stroke-width="1.2"/>
<circle cx="257.0" cy="349.5" r="2.25" fill="#f2a07a" stroke="#111" stroke-width="1.2"/>
<circle cx="259.8" cy="346.3" r="2.25" fill="#f2a07a" stroke="#111" stroke-width="1.2"/>
<circle cx="249.7" cy="346.6" r="2.25" fill="#90bce7" stroke="#111" stroke-width="1.2"/>
<circle cx="268.8" cy="343.3" r="2.25" fill="#4b78c8" stroke="#111" stroke-width="1.2"/>
<circle cx="261.4" cy="346.1" r="2.25" fill="#90bce7" stroke="#111" stroke-width="1.2"/>
<circle cx="252.9" cy="349.8" r="2.25" fill="#90bce7" stroke="#111" stroke-width="1.2"/>
<circle cx="246.9" cy="346.9" r="2.25" fill="#f2a07a" stroke="#111" stroke-width="1.2"/>
<circle cx="264.3" cy="343.6" r="2.25" fill="#90bce7" stroke="#111" stroke-width="1.2"/>
<circle cx="248.9" cy="347.5" r="2.25" fill="#90bce7" stroke="#111" stroke-width="1.2"/>
<circle cx="268.5" cy="346.9" r="2.25" fill="#4b78c8" stroke="#111" stroke-width="1.2"/>
<circle cx="248.7" cy="348.3" r="2.25" fill="#4b78c8" stroke="#111" stroke-width="1.2"/>
<circle cx="265.3" cy="347.8" r="2.25" fill="#4b78c8" stroke="#111" stroke-width="1.2"/>
<circle cx="262.1" cy="350.2" r="2.25" fill="#90bce7" stroke="#111" stroke-width="1.2"/>
<circle cx="248.5" cy="345.1" r="2.25" fill="#90bce7" stroke="#111" stroke-width="1.2"/>
<circle cx="268.3" cy="342.6" r="2.25" fill="#90bce7" stroke="#111" stroke-width="1.2"/>
<circle cx="251.0" cy="344.5" r="2.25" fill="#90bce7" stroke="#111" stroke-width="1.2"/>
<circle cx="251.3" cy="348.3" r="2.25" fill="#90bce7" stroke="#111" stroke-width="1.2"/>
<circle cx="247.3" cy="349.1" r="2.25" fill="#f2a07a" stroke="#111" stroke-width="1.2"/>
<circle cx="282.3" cy="348.6" r="2.25" fill="#90bce7" stroke="#111" stroke-width="1.2"/>
<circle cx="280.4" cy="350.9" r="2.25" fill="#4b78c8" stroke="#111" stroke-width="1.2"/>
<circle cx="284.4" cy="345.3" r="2.25" fill="#90bce7" stroke="#111" stroke-width="1.2"/>
<circle cx="277.3" cy="351.4" r="2.25" fill="#90bce7" stroke="#111" stroke-width="1.2"/>
<circle cx="284.7" cy="347.5" r="2.25" fill="#4b78c8" stroke="#111" stroke-width="1.2"/>
<circle cx="288.1" cy="350.1" r="2.25" fill="#4b78c8" stroke="#111" stroke-width="1.2"/>
<circle cx="286.8" cy="350.2" r="2.25" fill="#4b78c8" stroke="#111" stroke-width="1.2"/>
<circle cx="289.4" cy="349.8" r="2.25" fill="#4b78c8" stroke="#111" stroke-width="1.2"/>
<circle cx="279.2" cy="347.5" r="2.25" fill="#4b78c8" stroke="#111" stroke-width="1.2"/>
<circle cx="303.7" cy="350.8" r="2.25" fill="#4b78c8" stroke="#111" stroke-width="1.2"/>
<circle cx="306.7" cy="345.0" r="2.25" fill="#90bce7" stroke="#111" stroke-width="1.2"/>
<circle cx="301.6" cy="345.9" r="2.25" fill="#4b78c8" stroke="#111" stroke-width="1.2"/>
<circle cx="304.2" cy="348.0" r="2.25" fill="#90bce7" stroke="#111" stroke-width="1.2"/>
<circle cx="299.5" cy="345.2" r="2.25" fill="#f2a07a" stroke="#111" stroke-width="1.2"/>
<circle cx="311.8" cy="349.0" r="2.25" fill="#90bce7" stroke="#111" stroke-width="1.2"/>
<circle cx="295.8" cy="350.8" r="2.25" fill="#4b78c8" stroke="#111" stroke-width="1.2"/>
<circle cx="292.3" cy="350.6" r="2.25" fill="#f2a07a" stroke="#111" stroke-width="1.2"/>
<circle cx="301.4" cy="346.1" r="2.25" fill="#4b78c8" stroke="#111" stroke-width="1.2"/>
<circle cx="311.9" cy="343.4" r="2.25" fill="#f2a07a" stroke="#111" stroke-width="1.2"/>
<circle cx="299.0" cy="344.2" r="2.25" fill="#4b78c8" stroke="#111" stroke-width="1.2"/>
<circle cx="290.8" cy="346.4" r="2.25" fill="#f2a07a" stroke="#111" stroke-width="1.2"/>
<circle cx="307.2" cy="347.5" r="2.25" fill="#4b78c8" stroke="#111" stroke-width="1.2"/>
<circle cx="309.1" cy="345.7" r="2.25" fill="#4b78c8" stroke="#111" stroke-width="1.2"/>
<circle cx="299.5" cy="347.5" r="2.25" fill="#4b78c8" stroke="#111" stroke-width="1.2"/>
<circle cx="298.9" cy="347.5" r="2.25" fill="#4b78c8" stroke="#111" stroke-width="1.2"/>
<circle cx="305.0" cy="351.1" r="2.25" fill="#f2a07a" stroke="#111" stroke-width="1.2"/>
<circle cx="310.1" cy="346.0" r="2.25" fill="#4b78c8" stroke="#111" stroke-width="1.2"/>
<circle cx="295.1" cy="350.7" r="2.25" fill="#90bce7" stroke="#111" stroke-width="1.2"/>
<circle cx="312.8" cy="347.9" r="2.25" fill="#4b78c8" stroke="#111" stroke-width="1.2"/>
<circle cx="296.1" cy="349.5" r="2.25" fill="#4b78c8" stroke="#111" stroke-width="1.2"/>
<circle cx="319.0" cy="350.3" r="2.25" fill="#f2a07a" stroke="#111" stroke-width="1.2"/>
<circle cx="315.2" cy="347.5" r="2.25" fill="#4b78c8" stroke="#111" stroke-width="1.2"/>
<circle cx="323.1" cy="344.1" r="2.25" fill="#4b78c8" stroke="#111" stroke-width="1.2"/>
<circle cx="321.2" cy="350.8" r="2.25" fill="#4b78c8" stroke="#111" stroke-width="1.2"/>
<circle cx="317.1" cy="349.5" r="2.25" fill="#4b78c8" stroke="#111" stroke-width="1.2"/>
<circle cx="319.5" cy="349.1" r="2.25" fill="#4b78c8" stroke="#111" stroke-width="1.2"/>
<circle cx="324.4" cy="346.8" r="2.25" fill="#f2a07a" stroke="#111" stroke-width="1.2"/>
<circle cx="321.7" cy="349.5" r="2.25" fill="#f2a07a" stroke="#111" stroke-width="1.2"/>
<circle cx="322.3" cy="350.7" r="2.25" fill="#4b78c8" stroke="#111" stroke-width="1.2"/>
<circle cx="317.1" cy="346.4" r="2.25" fill="#90bce7" stroke="#111" stroke-width="1.2"/>
<circle cx="335.1" cy="345.0" r="2.25" fill="#4b78c8" stroke="#111" stroke-width="1.2"/>
<circle cx="335.5" cy="351.3" r="2.25" fill="#4b78c8" stroke="#111" stroke-width="1.2"/>
<circle cx="330.5" cy="348.7" r="2.25" fill="#f2a07a" stroke="#111" stroke-width="1.2"/>
<circle cx="331.4" cy="347.8" r="2.25" fill="#4b78c8" stroke="#111" stroke-width="1.2"/>
<circle cx="353.9" cy="345.5" r="2.25" fill="#4b78c8" stroke="#111" stroke-width="1.2"/>
<circle cx="351.8" cy="350.4" r="2.25" fill="#4b78c8" stroke="#111" stroke-width="1.2"/>
<circle cx="348.4" cy="349.4" r="2.25" fill="#4b78c8" stroke="#111" stroke-width="1.2"/>
<circle cx="349.3" cy="350.4" r="2.25" fill="#90bce7" stroke="#111" stroke-width="1.2"/>
<circle cx="361.0" cy="348.9" r="2.25" fill="#f2a07a" stroke="#111" stroke-width="1.2"/>
<circle cx="348.7" cy="350.7" r="2.25" fill="#f2a07a" stroke="#111" stroke-width="1.2"/>
<circle cx="346.3" cy="348.9" r="2.25" fill="#90bce7" stroke="#111" stroke-width="1.2"/>
<circle cx="356.6" cy="349.6" r="2.25" fill="#90bce7" stroke="#111" stroke-width="1.2"/>
<circle cx="357.4" cy="345.7" r="2.25" fill="#4b78c8" stroke="#111" stroke-width="1.2"/>
<circle cx="358.8" cy="348.6" r="2.25" fill="#f2a07a" stroke="#111" stroke-width="1.2"/>
<circle cx="372.6" cy="346.4" r="2.25" fill="#f2a07a" stroke="#111" stroke-width="1.2"/>
<circle cx="378.3" cy="349.5" r="2.25" fill="#f2a07a" stroke="#111" stroke-width="1.2"/>
<circle cx="385.8" cy="347.8" r="2.25" fill="#4b78c8" stroke="#111" stroke-width="1.2"/>
<circle cx="374.9" cy="347.4" r="2.25" fill="#4b78c8" stroke="#111" stroke-width="1.2"/>
<circle cx="385.8" cy="350.5" r="2.25" fill="#4b78c8" stroke="#111" stroke-width="1.2"/>
<circle cx="380.3" cy="348.0" r="2.25" fill="#f2a07a" stroke="#111" stroke-width="1.2"/>
<circle cx="382.2" cy="348.6" r="2.25" fill="#90bce7" stroke="#111" stroke-width="1.2"/>
<circle cx="385.8" cy="348.8" r="2.25" fill="#4b78c8" stroke="#111" stroke-width="1.2"/>
<circle cx="393.3" cy="350.4" r="2.25" fill="#4b78c8" stroke="#111" stroke-width="1.2"/>
<circle cx="391.4" cy="346.5" r="2.25" fill="#4b78c8" stroke="#111" stroke-width="1.2"/>
<circle cx="386.0" cy="350.9" r="2.25" fill="#4b78c8" stroke="#111" stroke-width="1.2"/>
<circle cx="386.3" cy="350.1" r="2.25" fill="#4b78c8" stroke="#111" stroke-width="1.2"/>
<circle cx="405.1" cy="347.6" r="2.25" fill="#4b78c8" stroke="#111" stroke-width="1.2"/>
<circle cx="405.5" cy="348.7" r="2.25" fill="#4b78c8" stroke="#111" stroke-width="1.2"/>
<circle cx="409.2" cy="345.1" r="2.25" fill="#4b78c8" stroke="#111" stroke-width="1.2"/>
<circle cx="408.7" cy="344.7" r="2.25" fill="#4b78c8" stroke="#111" stroke-width="1.2"/>
<circle cx="408.4" cy="347.9" r="2.25" fill="#4b78c8" stroke="#111" stroke-width="1.2"/>
<circle cx="411.3" cy="349.2" r="2.25" fill="#4b78c8" stroke="#111" stroke-width="1.2"/>
<circle cx="407.2" cy="346.8" r="2.25" fill="#4b78c8" stroke="#111" stroke-width="1.2"/>
<circle cx="444.7" cy="347.1" r="2.25" fill="#4b78c8" stroke="#111" stroke-width="1.2"/>
<circle cx="428.4" cy="346.9" r="2.25" fill="#90bce7" stroke="#111" stroke-width="1.2"/>
<circle cx="425.9" cy="344.5" r="2.25" fill="#4b78c8" stroke="#111" stroke-width="1.2"/>
<circle cx="428.1" cy="350.8" r="2.25" fill="#90bce7" stroke="#111" stroke-width="1.2"/>
<circle cx="441.6" cy="350.9" r="2.25" fill="#4b78c8" stroke="#111" stroke-width="1.2"/>
<circle cx="439.1" cy="347.6" r="2.25" fill="#f2a07a" stroke="#111" stroke-width="1.2"/>
<circle cx="430.3" cy="342.5" r="2.25" fill="#f2a07a" stroke="#111" stroke-width="1.2"/>
<circle cx="427.8" cy="342.4" r="2.25" fill="#90bce7" stroke="#111" stroke-width="1.2"/>
<circle cx="428.5" cy="347.5" r="2.25" fill="#90bce7" stroke="#111" stroke-width="1.2"/>
<circle cx="437.9" cy="348.0" r="2.25" fill="#90bce7" stroke="#111" stroke-width="1.2"/>
<circle cx="435.3" cy="346.2" r="2.25" fill="#4b78c8" stroke="#111" stroke-width="1.2"/>
<circle cx="414.0" cy="350.8" r="2.25" fill="#90bce7" stroke="#111" stroke-width="1.2"/>
<circle cx="428.6" cy="349.7" r="2.25" fill="#90bce7" stroke="#111" stroke-width="1.2"/>
<circle cx="423.2" cy="345.7" r="2.25" fill="#4b78c8" stroke="#111" stroke-width="1.2"/>
<circle cx="432.0" cy="348.8" r="2.25" fill="#90bce7" stroke="#111" stroke-width="1.2"/>
<circle cx="430.5" cy="347.5" r="2.25" fill="#4b78c8" stroke="#111" stroke-width="1.2"/>
<circle cx="435.8" cy="349.5" r="2.25" fill="#90bce7" stroke="#111" stroke-width="1.2"/>
<circle cx="423.2" cy="347.8" r="2.25" fill="#90bce7" stroke="#111" stroke-width="1.2"/>
<circle cx="415.6" cy="351.0" r="2.25" fill="#f2a07a" stroke="#111" stroke-width="1.2"/>
<circle cx="414.1" cy="350.9" r="2.25" fill="#f2a07a" stroke="#111" stroke-width="1.2"/>
<circle cx="449.3" cy="342.9" r="2.25" fill="#4b78c8" stroke="#111" stroke-width="1.2"/>
<circle cx="446.3" cy="344.7" r="2.25" fill="#4b78c8" stroke="#111" stroke-width="1.2"/>
<circle cx="448.9" cy="347.0" r="2.25" fill="#4b78c8" stroke="#111" stroke-width="1.2"/>
<circle cx="449.5" cy="345.1" r="2.25" fill="#4b78c8" stroke="#111" stroke-width="1.2"/>
<circle cx="447.8" cy="346.0" r="2.25" fill="#4b78c8" stroke="#111" stroke-width="1.2"/>
<circle cx="450.3" cy="346.2" r="2.25" fill="#90bce7" stroke="#111" stroke-width="1.2"/>
<circle cx="454.8" cy="345.3" r="2.25" fill="#4b78c8" stroke="#111" stroke-width="1.2"/>
<circle cx="459.1" cy="347.6" r="2.25" fill="#4b78c8" stroke="#111" stroke-width="1.2"/>
<circle cx="471.3" cy="347.2" r="2.25" fill="#90bce7" stroke="#111" stroke-width="1.2"/>
<circle cx="468.6" cy="350.2" r="2.25" fill="#4b78c8" stroke="#111" stroke-width="1.2"/>
<circle cx="463.9" cy="350.0" r="2.25" fill="#90bce7" stroke="#111" stroke-width="1.2"/>
<circle cx="470.5" cy="350.3" r="2.25" fill="#90bce7" stroke="#111" stroke-width="1.2"/>
<circle cx="458.4" cy="347.3" r="2.25" fill="#90bce7" stroke="#111" stroke-width="1.2"/>
<circle cx="462.3" cy="351.3" r="2.25" fill="#90bce7" stroke="#111" stroke-width="1.2"/>
<circle cx="464.4" cy="347.1" r="2.25" fill="#90bce7" stroke="#111" stroke-width="1.2"/>
<circle cx="464.7" cy="348.3" r="2.25" fill="#90bce7" stroke="#111" stroke-width="1.2"/>
<circle cx="491.7" cy="344.6" r="2.25" fill="#90bce7" stroke="#111" stroke-width="1.2"/>
<circle cx="484.8" cy="348.1" r="2.25" fill="#f2a07a" stroke="#111" stroke-width="1.2"/>
<circle cx="484.6" cy="344.6" r="2.25" fill="#4b78c8" stroke="#111" stroke-width="1.2"/>
<circle cx="544.4" cy="344.5" r="2.25" fill="#90bce7" stroke="#111" stroke-width="1.2"/>
<circle cx="526.7" cy="345.8" r="2.25" fill="#90bce7" stroke="#111" stroke-width="1.2"/>
<circle cx="535.0" cy="345.0" r="2.25" fill="#4b78c8" stroke="#111" stroke-width="1.2"/>
<circle cx="507.7" cy="351.0" r="2.25" fill="#90bce7" stroke="#111" stroke-width="1.2"/>
<circle cx="482.4" cy="347.9" r="2.25" fill="#4b78c8" stroke="#111" stroke-width="1.2"/>
<circle cx="494.7" cy="351.0" r="2.25" fill="#90bce7" stroke="#111" stroke-width="1.2"/>
<circle cx="519.9" cy="348.7" r="2.25" fill="#90bce7" stroke="#111" stroke-width="1.2"/>
<circle cx="519.0" cy="342.2" r="2.25" fill="#4b78c8" stroke="#111" stroke-width="1.2"/>
<circle cx="533.7" cy="349.8" r="2.25" fill="#4b78c8" stroke="#111" stroke-width="1.2"/>
<circle cx="537.1" cy="350.0" r="2.25" fill="#4b78c8" stroke="#111" stroke-width="1.2"/>
<circle cx="475.1" cy="343.6" r="2.25" fill="#f2a07a" stroke="#111" stroke-width="1.2"/>
<circle cx="524.8" cy="345.4" r="2.25" fill="#f2a07a" stroke="#111" stroke-width="1.2"/>
<circle cx="554.2" cy="349.9" r="2.25" fill="#4b78c8" stroke="#111" stroke-width="1.2"/>
<circle cx="504.4" cy="346.9" r="2.25" fill="#4b78c8" stroke="#111" stroke-width="1.2"/>
<circle cx="540.6" cy="349.1" r="2.25" fill="#f2a07a" stroke="#111" stroke-width="1.2"/>
<circle cx="484.9" cy="350.8" r="2.25" fill="#4b78c8" stroke="#111" stroke-width="1.2"/>
<circle cx="506.7" cy="350.6" r="2.25" fill="#4b78c8" stroke="#111" stroke-width="1.2"/>
<circle cx="493.2" cy="346.1" r="2.25" fill="#4b78c8" stroke="#111" stroke-width="1.2"/>
<circle cx="532.3" cy="349.6" r="2.25" fill="#4b78c8" stroke="#111" stroke-width="1.2"/>
<circle cx="486.3" cy="348.7" r="2.25" fill="#90bce7" stroke="#111" stroke-width="1.2"/>
<circle cx="521.8" cy="351.3" r="2.25" fill="#90bce7" stroke="#111" stroke-width="1.2"/>
<circle cx="504.8" cy="347.2" r="2.25" fill="#4b78c8" stroke="#111" stroke-width="1.2"/>
<circle cx="486.7" cy="347.8" r="2.25" fill="#4b78c8" stroke="#111" stroke-width="1.2"/>
<circle cx="482.0" cy="348.5" r="2.25" fill="#4b78c8" stroke="#111" stroke-width="1.2"/>
<circle cx="536.3" cy="349.5" r="2.25" fill="#4b78c8" stroke="#111" stroke-width="1.2"/>
<circle cx="528.4" cy="348.1" r="2.25" fill="#90bce7" stroke="#111" stroke-width="1.2"/>
<circle cx="513.4" cy="345.5" r="2.25" fill="#4b78c8" stroke="#111" stroke-width="1.2"/>
<circle cx="488.2" cy="350.7" r="2.25" fill="#4b78c8" stroke="#111" stroke-width="1.2"/>
<circle cx="492.8" cy="346.1" r="2.25" fill="#90bce7" stroke="#111" stroke-width="1.2"/>
<circle cx="547.7" cy="347.4" r="2.25" fill="#f2a07a" stroke="#111" stroke-width="1.2"/>
<circle cx="504.5" cy="350.2" r="2.25" fill="#f2a07a" stroke="#111" stroke-width="1.2"/>
<circle cx="475.3" cy="343.7" r="2.25" fill="#f2a07a" stroke="#111" stroke-width="1.2"/>
<circle cx="502.3" cy="347.9" r="2.25" fill="#90bce7" stroke="#111" stroke-width="1.2"/>
<circle cx="498.0" cy="346.9" r="2.25" fill="#90bce7" stroke="#111" stroke-width="1.2"/>
<circle cx="546.1" cy="347.5" r="2.25" fill="#4b78c8" stroke="#111" stroke-width="1.2"/>
<circle cx="553.2" cy="344.3" r="2.25" fill="#4b78c8" stroke="#111" stroke-width="1.2"/>
<circle cx="514.7" cy="349.1" r="2.25" fill="#f2a07a" stroke="#111" stroke-width="1.2"/>
<circle cx="510.1" cy="346.7" r="2.25" fill="#f2a07a" stroke="#111" stroke-width="1.2"/>
<circle cx="493.7" cy="345.1" r="2.25" fill="#4b78c8" stroke="#111" stroke-width="1.2"/>
<circle cx="479.2" cy="350.1" r="2.25" fill="#4b78c8" stroke="#111" stroke-width="1.2"/>
<circle cx="483.4" cy="344.9" r="2.25" fill="#f2a07a" stroke="#111" stroke-width="1.2"/>
<circle cx="500.2" cy="347.7" r="2.25" fill="#4b78c8" stroke="#111" stroke-width="1.2"/>
<circle cx="547.8" cy="346.9" r="2.25" fill="#90bce7" stroke="#111" stroke-width="1.2"/>
<circle cx="508.2" cy="346.8" r="2.25" fill="#90bce7" stroke="#111" stroke-width="1.2"/>
<circle cx="522.0" cy="343.7" r="2.25" fill="#4b78c8" stroke="#111" stroke-width="1.2"/>
<circle cx="483.1" cy="344.1" r="2.25" fill="#4b78c8" stroke="#111" stroke-width="1.2"/>
<circle cx="554.7" cy="347.4" r="2.25" fill="#4b78c8" stroke="#111" stroke-width="1.2"/>
<circle cx="554.3" cy="350.4" r="2.25" fill="#90bce7" stroke="#111" stroke-width="1.2"/>
<circle cx="496.1" cy="343.3" r="2.25" fill="#4b78c8" stroke="#111" stroke-width="1.2"/>
<circle cx="519.4" cy="349.8" r="2.25" fill="#f2a07a" stroke="#111" stroke-width="1.2"/>
<circle cx="494.9" cy="343.2" r="2.25" fill="#90bce7" stroke="#111" stroke-width="1.2"/>
<circle cx="524.9" cy="345.3" r="2.25" fill="#4b78c8" stroke="#111" stroke-width="1.2"/>
<circle cx="511.2" cy="349.8" r="2.25" fill="#f2a07a" stroke="#111" stroke-width="1.2"/>
<circle cx="536.8" cy="347.9" r="2.25" fill="#4b78c8" stroke="#111" stroke-width="1.2"/>
<circle cx="492.5" cy="346.7" r="2.25" fill="#f2a07a" stroke="#111" stroke-width="1.2"/>
<circle cx="521.6" cy="344.9" r="2.25" fill="#90bce7" stroke="#111" stroke-width="1.2"/>
<circle cx="529.7" cy="347.2" r="2.25" fill="#4b78c8" stroke="#111" stroke-width="1.2"/>
<circle cx="523.4" cy="349.7" r="2.25" fill="#90bce7" stroke="#111" stroke-width="1.2"/>
<circle cx="487.5" cy="348.7" r="2.25" fill="#90bce7" stroke="#111" stroke-width="1.2"/>
<circle cx="485.9" cy="348.6" r="2.25" fill="#90bce7" stroke="#111" stroke-width="1.2"/>
<circle cx="488.7" cy="348.1" r="2.25" fill="#90bce7" stroke="#111" stroke-width="1.2"/>
<circle cx="536.4" cy="349.2" r="2.25" fill="#90bce7" stroke="#111" stroke-width="1.2"/>
<circle cx="516.8" cy="344.6" r="2.25" fill="#4b78c8" stroke="#111" stroke-width="1.2"/>
<circle cx="508.4" cy="349.0" r="2.25" fill="#90bce7" stroke="#111" stroke-width="1.2"/>
<circle cx="517.5" cy="349.5" r="2.25" fill="#f2a07a" stroke="#111" stroke-width="1.2"/>
<circle cx="564.0" cy="344.6" r="2.25" fill="#90bce7" stroke="#111" stroke-width="1.2"/>
<circle cx="564.3" cy="348.1" r="2.25" fill="#90bce7" stroke="#111" stroke-width="1.2"/>
<circle cx="555.1" cy="345.0" r="2.25" fill="#90bce7" stroke="#111" stroke-width="1.2"/>
<circle cx="565.8" cy="349.3" r="2.25" fill="#4b78c8" stroke="#111" stroke-width="1.2"/>
<circle cx="561.9" cy="349.1" r="2.25" fill="#4b78c8" stroke="#111" stroke-width="1.2"/>
<circle cx="562.1" cy="348.2" r="2.25" fill="#90bce7" stroke="#111" stroke-width="1.2"/>
<circle cx="566.1" cy="348.0" r="2.25" fill="#90bce7" stroke="#111" stroke-width="1.2"/>
<circle cx="559.8" cy="350.8" r="2.25" fill="#90bce7" stroke="#111" stroke-width="1.2"/>
<circle cx="565.9" cy="350.6" r="2.25" fill="#4b78c8" stroke="#111" stroke-width="1.2"/>
<circle cx="622.3" cy="348.7" r="2.25" fill="#90bce7" stroke="#111" stroke-width="1.2"/>
<circle cx="587.9" cy="347.2" r="2.25" fill="#f2a07a" stroke="#111" stroke-width="1.2"/>
<circle cx="612.9" cy="342.6" r="2.25" fill="#f2a07a" stroke="#111" stroke-width="1.2"/>
<circle cx="590.1" cy="348.8" r="2.25" fill="#90bce7" stroke="#111" stroke-width="1.2"/>
<circle cx="582.6" cy="343.9" r="2.25" fill="#f2a07a" stroke="#111" stroke-width="1.2"/>
<circle cx="627.9" cy="347.0" r="2.25" fill="#f2a07a" stroke="#111" stroke-width="1.2"/>
<circle cx="610.9" cy="350.0" r="2.25" fill="#4b78c8" stroke="#111" stroke-width="1.2"/>
<circle cx="609.4" cy="350.1" r="2.25" fill="#4b78c8" stroke="#111" stroke-width="1.2"/>
<circle cx="598.3" cy="348.7" r="2.25" fill="#4b78c8" stroke="#111" stroke-width="1.2"/>
<circle cx="633.3" cy="349.1" r="2.25" fill="#4b78c8" stroke="#111" stroke-width="1.2"/>
<circle cx="600.6" cy="345.8" r="2.25" fill="#4b78c8" stroke="#111" stroke-width="1.2"/>
<circle cx="585.2" cy="347.6" r="2.25" fill="#4b78c8" stroke="#111" stroke-width="1.2"/>
<circle cx="591.6" cy="348.5" r="2.25" fill="#90bce7" stroke="#111" stroke-width="1.2"/>
<circle cx="603.1" cy="345.9" r="2.25" fill="#90bce7" stroke="#111" stroke-width="1.2"/>
<circle cx="600.1" cy="351.3" r="2.25" fill="#4b78c8" stroke="#111" stroke-width="1.2"/>
<circle cx="627.1" cy="348.7" r="2.25" fill="#4b78c8" stroke="#111" stroke-width="1.2"/>
<circle cx="588.7" cy="344.2" r="2.25" fill="#f2a07a" stroke="#111" stroke-width="1.2"/>
<circle cx="633.6" cy="346.8" r="2.25" fill="#4b78c8" stroke="#111" stroke-width="1.2"/>
<circle cx="631.0" cy="349.0" r="2.25" fill="#f2a07a" stroke="#111" stroke-width="1.2"/>
<circle cx="627.3" cy="348.7" r="2.25" fill="#f2a07a" stroke="#111" stroke-width="1.2"/>
<circle cx="596.1" cy="344.9" r="2.25" fill="#4b78c8" stroke="#111" stroke-width="1.2"/>
<circle cx="631.6" cy="347.6" r="2.25" fill="#f2a07a" stroke="#111" stroke-width="1.2"/>
<circle cx="624.0" cy="347.8" r="2.25" fill="#4b78c8" stroke="#111" stroke-width="1.2"/>
<circle cx="582.0" cy="347.9" r="2.25" fill="#f2a07a" stroke="#111" stroke-width="1.2"/>
<circle cx="588.7" cy="351.1" r="2.25" fill="#4b78c8" stroke="#111" stroke-width="1.2"/>
<circle cx="621.0" cy="343.5" r="2.25" fill="#4b78c8" stroke="#111" stroke-width="1.2"/>
<circle cx="635.9" cy="345.5" r="2.25" fill="#4b78c8" stroke="#111" stroke-width="1.2"/>
<circle cx="596.0" cy="348.6" r="2.25" fill="#4b78c8" stroke="#111" stroke-width="1.2"/>
<circle cx="600.5" cy="347.8" r="2.25" fill="#4b78c8" stroke="#111" stroke-width="1.2"/>
<circle cx="632.7" cy="349.6" r="2.25" fill="#4b78c8" stroke="#111" stroke-width="1.2"/>
<circle cx="615.1" cy="346.0" r="2.25" fill="#f2a07a" stroke="#111" stroke-width="1.2"/>
<circle cx="607.4" cy="347.2" r="2.25" fill="#4b78c8" stroke="#111" stroke-width="1.2"/>
<circle cx="614.9" cy="351.3" r="2.25" fill="#f2a07a" stroke="#111" stroke-width="1.2"/>
<circle cx="623.2" cy="347.8" r="2.25" fill="#f2a07a" stroke="#111" stroke-width="1.2"/>
<circle cx="606.2" cy="346.0" r="2.25" fill="#4b78c8" stroke="#111" stroke-width="1.2"/>
<circle cx="618.7" cy="350.4" r="2.25" fill="#4b78c8" stroke="#111" stroke-width="1.2"/>
<circle cx="596.1" cy="350.9" r="2.25" fill="#f2a07a" stroke="#111" stroke-width="1.2"/>
<circle cx="582.2" cy="348.6" r="2.25" fill="#4b78c8" stroke="#111" stroke-width="1.2"/>
<circle cx="586.1" cy="346.5" r="2.25" fill="#4b78c8" stroke="#111" stroke-width="1.2"/>
<circle cx="590.4" cy="347.8" r="2.25" fill="#4b78c8" stroke="#111" stroke-width="1.2"/>
<circle cx="620.9" cy="349.0" r="2.25" fill="#4b78c8" stroke="#111" stroke-width="1.2"/>
<circle cx="606.1" cy="349.6" r="2.25" fill="#f2a07a" stroke="#111" stroke-width="1.2"/>
<circle cx="584.8" cy="345.8" r="2.25" fill="#4b78c8" stroke="#111" stroke-width="1.2"/>
<circle cx="624.7" cy="349.3" r="2.25" fill="#4b78c8" stroke="#111" stroke-width="1.2"/>
<circle cx="647.9" cy="343.1" r="2.25" fill="#90bce7" stroke="#111" stroke-width="1.2"/>
<circle cx="640.8" cy="349.6" r="2.25" fill="#90bce7" stroke="#111" stroke-width="1.2"/>
<circle cx="644.2" cy="347.6" r="2.25" fill="#f2a07a" stroke="#111" stroke-width="1.2"/>
<circle cx="643.9" cy="348.1" r="2.25" fill="#90bce7" stroke="#111" stroke-width="1.2"/>
<circle cx="656.4" cy="342.8" r="2.25" fill="#f2a07a" stroke="#111" stroke-width="1.2"/>
<circle cx="647.9" cy="350.4" r="2.25" fill="#90bce7" stroke="#111" stroke-width="1.2"/>
<circle cx="645.4" cy="348.8" r="2.25" fill="#90bce7" stroke="#111" stroke-width="1.2"/>
<circle cx="654.8" cy="342.3" r="2.25" fill="#4b78c8" stroke="#111" stroke-width="1.2"/>
<circle cx="655.5" cy="349.0" r="2.25" fill="#90bce7" stroke="#111" stroke-width="1.2"/>
<circle cx="650.0" cy="346.8" r="2.25" fill="#4b78c8" stroke="#111" stroke-width="1.2"/>
<circle cx="642.1" cy="350.3" r="2.25" fill="#f2a07a" stroke="#111" stroke-width="1.2"/>
<circle cx="653.6" cy="345.9" r="2.25" fill="#f2a07a" stroke="#111" stroke-width="1.2"/>
<circle cx="646.0" cy="349.3" r="2.25" fill="#4b78c8" stroke="#111" stroke-width="1.2"/>
<circle cx="636.6" cy="348.5" r="2.25" fill="#4b78c8" stroke="#111" stroke-width="1.2"/>
<circle cx="645.2" cy="347.0" r="2.25" fill="#90bce7" stroke="#111" stroke-width="1.2"/>
<circle cx="643.7" cy="344.5" r="2.25" fill="#90bce7" stroke="#111" stroke-width="1.2"/>
<circle cx="643.9" cy="351.1" r="2.25" fill="#4b78c8" stroke="#111" stroke-width="1.2"/>
<circle cx="647.1" cy="351.4" r="2.25" fill="#f2a07a" stroke="#111" stroke-width="1.2"/>
<circle cx="110.4" cy="321.8" r="2.25" fill="#f2a07a" stroke="#111" stroke-width="1.2"/>
<circle cx="110.4" cy="337.1" r="2.25" fill="#f2a07a" stroke="#111" stroke-width="1.2"/>
<circle cx="109.4" cy="343.1" r="2.25" fill="#f2a07a" stroke="#111" stroke-width="1.2"/>
<circle cx="122.8" cy="338.7" r="2.25" fill="#90bce7" stroke="#111" stroke-width="1.2"/>
<circle cx="159.0" cy="332.4" r="2.25" fill="#90bce7" stroke="#111" stroke-width="1.2"/>
<circle cx="80.2" cy="344.8" r="2.25" fill="#90bce7" stroke="#111" stroke-width="1.2"/>
<circle cx="82.4" cy="346.3" r="2.25" fill="#f2a07a" stroke="#111" stroke-width="1.2"/>
<circle cx="84.6" cy="344.1" r="2.25" fill="#90bce7" stroke="#111" stroke-width="1.2"/>
<circle cx="89.0" cy="346.0" r="2.25" fill="#90bce7" stroke="#111" stroke-width="1.2"/>
<circle cx="84.3" cy="350.4" r="2.25" fill="#90bce7" stroke="#111" stroke-width="1.2"/>
<circle cx="94.8" cy="348.5" r="2.25" fill="#4b78c8" stroke="#111" stroke-width="1.2"/>
<circle cx="108.7" cy="350.7" r="2.25" fill="#4b78c8" stroke="#111" stroke-width="1.2"/>
<circle cx="113.1" cy="347.0" r="2.25" fill="#90bce7" stroke="#111" stroke-width="1.2"/>
<circle cx="116.7" cy="347.7" r="2.25" fill="#4b78c8" stroke="#111" stroke-width="1.2"/>
<circle cx="120.4" cy="347.7" r="2.25" fill="#90bce7" stroke="#111" stroke-width="1.2"/>
<circle cx="122.8" cy="346.0" r="2.25" fill="#f2a07a" stroke="#111" stroke-width="1.2"/>
<circle cx="125.5" cy="350.7" r="2.25" fill="#90bce7" stroke="#111" stroke-width="1.2"/>
<circle cx="128.1" cy="348.8" r="2.25" fill="#f2a07a" stroke="#111" stroke-width="1.2"/>
<circle cx="132.8" cy="349.5" r="2.25" fill="#90bce7" stroke="#111" stroke-width="1.2"/>
<circle cx="136.4" cy="345.1" r="2.25" fill="#4b78c8" stroke="#111" stroke-width="1.2"/>
<circle cx="139.6" cy="348.5" r="2.25" fill="#90bce7" stroke="#111" stroke-width="1.2"/>
<circle cx="143.7" cy="349.2" r="2.25" fill="#90bce7" stroke="#111" stroke-width="1.2"/>
<circle cx="145.9" cy="345.3" r="2.25" fill="#90bce7" stroke="#111" stroke-width="1.2"/>
<circle cx="148.8" cy="350.7" r="2.25" fill="#4b78c8" stroke="#111" stroke-width="1.2"/>
<circle cx="151.8" cy="344.1" r="2.25" fill="#90bce7" stroke="#111" stroke-width="1.2"/>
<circle cx="154.7" cy="347.0" r="2.25" fill="#90bce7" stroke="#111" stroke-width="1.2"/>
<circle cx="156.9" cy="341.6" r="2.25" fill="#f2a07a" stroke="#111" stroke-width="1.2"/>
<circle cx="159.3" cy="346.0" r="2.25" fill="#f2a07a" stroke="#111" stroke-width="1.2"/>
<circle cx="152.5" cy="349.9" r="2.25" fill="#90bce7" stroke="#111" stroke-width="1.2"/>
<circle cx="187.4" cy="331.2" r="2.25" fill="#4b78c8" stroke="#111" stroke-width="1.2"/>
<circle cx="218.1" cy="327.9" r="2.25" fill="#4b78c8" stroke="#111" stroke-width="1.2"/>
<circle cx="218.1" cy="333.7" r="2.25" fill="#4b78c8" stroke="#111" stroke-width="1.2"/>
<circle cx="287.4" cy="337.4" r="2.25" fill="#4b78c8" stroke="#111" stroke-width="1.2"/>
<circle cx="287.4" cy="341.5" r="2.25" fill="#4b78c8" stroke="#111" stroke-width="1.2"/>
<circle cx="318.0" cy="331.8" r="2.25" fill="#f2a07a" stroke="#111" stroke-width="1.2"/>
<circle cx="318.0" cy="336.5" r="2.25" fill="#f2a07a" stroke="#111" stroke-width="1.2"/>
<circle cx="321.0" cy="343.5" r="2.25" fill="#f2a07a" stroke="#111" stroke-width="1.2"/>
<circle cx="325.0" cy="339.1" r="2.25" fill="#4b78c8" stroke="#111" stroke-width="1.2"/>
<circle cx="325.0" cy="341.6" r="2.25" fill="#4b78c8" stroke="#111" stroke-width="1.2"/>
<circle cx="310.0" cy="341.6" r="2.25" fill="#90bce7" stroke="#111" stroke-width="1.2"/>
<circle cx="297.3" cy="343.5" r="2.25" fill="#90bce7" stroke="#111" stroke-width="1.2"/>
<circle cx="302.8" cy="347.0" r="2.25" fill="#f2a07a" stroke="#111" stroke-width="1.2"/>
<circle cx="302.8" cy="350.4" r="2.25" fill="#f2a07a" stroke="#111" stroke-width="1.2"/>
<circle cx="295.5" cy="348.2" r="2.25" fill="#4b78c8" stroke="#111" stroke-width="1.2"/>
<circle cx="314.5" cy="347.9" r="2.25" fill="#f2a07a" stroke="#111" stroke-width="1.2"/>
<circle cx="326.2" cy="349.3" r="2.25" fill="#4b78c8" stroke="#111" stroke-width="1.2"/>
<circle cx="334.5" cy="347.0" r="2.25" fill="#4b78c8" stroke="#111" stroke-width="1.2"/>
<circle cx="334.5" cy="349.3" r="2.25" fill="#f2a07a" stroke="#111" stroke-width="1.2"/>
<circle cx="346.2" cy="347.9" r="2.25" fill="#f2a07a" stroke="#111" stroke-width="1.2"/>
<circle cx="353.5" cy="340.1" r="2.25" fill="#90bce7" stroke="#111" stroke-width="1.2"/>
<circle cx="359.3" cy="341.3" r="2.25" fill="#4b78c8" stroke="#111" stroke-width="1.2"/>
<circle cx="352.8" cy="346.0" r="2.25" fill="#4b78c8" stroke="#111" stroke-width="1.2"/>
<circle cx="357.2" cy="346.0" r="2.25" fill="#90bce7" stroke="#111" stroke-width="1.2"/>
<circle cx="349.6" cy="350.4" r="2.25" fill="#4b78c8" stroke="#111" stroke-width="1.2"/>
<circle cx="359.8" cy="350.8" r="2.25" fill="#4b78c8" stroke="#111" stroke-width="1.2"/>
<circle cx="373.9" cy="347.0" r="2.25" fill="#f2a07a" stroke="#111" stroke-width="1.2"/>
<circle cx="378.3" cy="343.1" r="2.25" fill="#90bce7" stroke="#111" stroke-width="1.2"/>
<circle cx="379.8" cy="346.4" r="2.25" fill="#4b78c8" stroke="#111" stroke-width="1.2"/>
<circle cx="378.3" cy="350.4" r="2.25" fill="#4b78c8" stroke="#111" stroke-width="1.2"/>
<circle cx="387.8" cy="348.2" r="2.25" fill="#4b78c8" stroke="#111" stroke-width="1.2"/>
<circle cx="394.6" cy="330.7" r="2.25" fill="#8cc47f" stroke="#111" stroke-width="1.2"/>
<circle cx="418.4" cy="329.3" r="2.25" fill="#4b78c8" stroke="#111" stroke-width="1.2"/>
<circle cx="414.7" cy="336.9" r="2.25" fill="#8cc47f" stroke="#111" stroke-width="1.2"/>
<circle cx="439.1" cy="331.5" r="2.25" fill="#f2a07a" stroke="#111" stroke-width="1.2"/>
<circle cx="431.4" cy="339.9" r="2.25" fill="#90bce7" stroke="#111" stroke-width="1.2"/>
<circle cx="448.6" cy="338.1" r="2.25" fill="#4b78c8" stroke="#111" stroke-width="1.2"/>
<circle cx="463.9" cy="342.0" r="2.25" fill="#4b78c8" stroke="#111" stroke-width="1.2"/>
<circle cx="488.8" cy="334.0" r="2.25" fill="#8cc47f" stroke="#111" stroke-width="1.2"/>
<circle cx="501.9" cy="333.6" r="2.25" fill="#8cc47f" stroke="#111" stroke-width="1.2"/>
<circle cx="501.9" cy="338.2" r="2.25" fill="#8cc47f" stroke="#111" stroke-width="1.2"/>
<circle cx="509.9" cy="338.0" r="2.25" fill="#4b78c8" stroke="#111" stroke-width="1.2"/>
<circle cx="494.6" cy="338.7" r="2.25" fill="#90bce7" stroke="#111" stroke-width="1.2"/>
<circle cx="527.2" cy="336.2" r="2.25" fill="#90bce7" stroke="#111" stroke-width="1.2"/>
<circle cx="542.0" cy="339.6" r="2.25" fill="#f2a07a" stroke="#111" stroke-width="1.2"/>
<circle cx="464.1" cy="342.0" r="2.25" fill="#4b78c8" stroke="#111" stroke-width="1.2"/>
<circle cx="572.9" cy="331.3" r="2.25" fill="#8cc47f" stroke="#111" stroke-width="1.2"/>
<circle cx="565.0" cy="340.3" r="2.25" fill="#90bce7" stroke="#111" stroke-width="1.2"/>
<circle cx="534.2" cy="340.3" r="2.25" fill="#90bce7" stroke="#111" stroke-width="1.2"/>
<circle cx="579.0" cy="342.0" r="2.25" fill="#4b78c8" stroke="#111" stroke-width="1.2"/>
<circle cx="584.8" cy="341.5" r="2.25" fill="#90bce7" stroke="#111" stroke-width="1.2"/>
<circle cx="591.2" cy="332.7" r="2.25" fill="#90bce7" stroke="#111" stroke-width="1.2"/>
<circle cx="591.2" cy="334.5" r="2.25" fill="#90bce7" stroke="#111" stroke-width="1.2"/>
<circle cx="592.4" cy="341.5" r="2.25" fill="#4b78c8" stroke="#111" stroke-width="1.2"/>
<circle cx="573.7" cy="347.9" r="2.25" fill="#f2a07a" stroke="#111" stroke-width="1.2"/>
<circle cx="580.5" cy="350.8" r="2.25" fill="#f2a07a" stroke="#111" stroke-width="1.2"/>
<circle cx="587.5" cy="350.2" r="2.25" fill="#f2a07a" stroke="#111" stroke-width="1.2"/>
<circle cx="523.5" cy="349.0" r="2.25" fill="#f2a07a" stroke="#111" stroke-width="1.2"/>
<circle cx="539.3" cy="347.6" r="2.25" fill="#f2a07a" stroke="#111" stroke-width="1.2"/>
<circle cx="554.5" cy="347.6" r="2.25" fill="#f2a07a" stroke="#111" stroke-width="1.2"/>
<circle cx="615.2" cy="335.5" r="2.25" fill="#f2a07a" stroke="#111" stroke-width="1.2"/>
<circle cx="591.6" cy="331.4" r="2.25" fill="#90bce7" stroke="#111" stroke-width="1.2"/>
<circle cx="591.6" cy="333.9" r="2.25" fill="#90bce7" stroke="#111" stroke-width="1.2"/>
<circle cx="591.6" cy="338.7" r="2.25" fill="#4b78c8" stroke="#111" stroke-width="1.2"/>
<circle cx="607.2" cy="339.1" r="2.25" fill="#4b78c8" stroke="#111" stroke-width="1.2"/>
<circle cx="609.8" cy="343.1" r="2.25" fill="#f2a07a" stroke="#111" stroke-width="1.2"/>
<circle cx="615.2" cy="342.6" r="2.25" fill="#f2a07a" stroke="#111" stroke-width="1.2"/>
<circle cx="634.9" cy="337.5" r="2.25" fill="#8cc47f" stroke="#111" stroke-width="1.2"/>
<circle cx="651.0" cy="340.1" r="2.25" fill="#90bce7" stroke="#111" stroke-width="1.2"/>
<circle cx="645.6" cy="339.4" r="2.25" fill="#90bce7" stroke="#111" stroke-width="1.2"/>
<circle cx="655.1" cy="348.9" r="2.25" fill="#4b78c8" stroke="#111" stroke-width="1.2"/>
<circle cx="653.6" cy="351.1" r="2.25" fill="#f2a07a" stroke="#111" stroke-width="1.2"/>
<circle cx="587.6" cy="350.4" r="2.25" fill="#f2a07a" stroke="#111" stroke-width="1.2"/>
<circle cx="400.4" cy="327.4" r="2.25" fill="#4b78c8" stroke="#111" stroke-width="1.2"/>
<circle cx="400.4" cy="330.5" r="2.25" fill="#4b78c8" stroke="#111" stroke-width="1.2"/>
<circle cx="400.4" cy="333.5" r="2.25" fill="#4b78c8" stroke="#111" stroke-width="1.2"/>
<circle cx="400.4" cy="336.5" r="2.25" fill="#4b78c8" stroke="#111" stroke-width="1.2"/>
<circle cx="400.4" cy="339.5" r="2.25" fill="#4b78c8" stroke="#111" stroke-width="1.2"/>
<circle cx="400.4" cy="342.5" r="2.25" fill="#4b78c8" stroke="#111" stroke-width="1.2"/>
<circle cx="400.4" cy="345.5" r="2.25" fill="#4b78c8" stroke="#111" stroke-width="1.2"/>
<circle cx="400.4" cy="348.5" r="2.25" fill="#4b78c8" stroke="#111" stroke-width="1.2"/>
<circle cx="400.4" cy="350.5" r="2.25" fill="#4b78c8" stroke="#111" stroke-width="1.2"/>
<circle cx="397.6" cy="340.0" r="2.25" fill="#4b78c8" stroke="#111" stroke-width="1.2"/>
<circle cx="397.6" cy="343.0" r="2.25" fill="#4b78c8" stroke="#111" stroke-width="1.2"/>
<circle cx="397.6" cy="346.0" r="2.25" fill="#4b78c8" stroke="#111" stroke-width="1.2"/>
<circle cx="397.6" cy="349.5" r="2.25" fill="#4b78c8" stroke="#111" stroke-width="1.2"/>
<circle cx="403.8" cy="341.0" r="2.25" fill="#90bce7" stroke="#111" stroke-width="1.2"/>
<circle cx="403.8" cy="344.5" r="2.25" fill="#90bce7" stroke="#111" stroke-width="1.2"/>
<circle cx="403.8" cy="348.0" r="2.25" fill="#90bce7" stroke="#111" stroke-width="1.2"/>
<circle cx="403.8" cy="351.0" r="2.25" fill="#90bce7" stroke="#111" stroke-width="1.2"/>
<circle cx="405.5" cy="338.5" r="2.25" fill="#4b78c8" stroke="#111" stroke-width="1.2"/>
<circle cx="405.5" cy="342.5" r="2.25" fill="#4b78c8" stroke="#111" stroke-width="1.2"/>
<circle cx="182.3" cy="338.8" r="2.25" fill="#4b78c8" stroke="#111" stroke-width="1.2"/>
<circle cx="182.3" cy="341.5" r="2.25" fill="#4b78c8" stroke="#111" stroke-width="1.2"/>
<circle cx="182.3" cy="344.0" r="2.25" fill="#4b78c8" stroke="#111" stroke-width="1.2"/>
<circle cx="182.3" cy="346.5" r="2.25" fill="#4b78c8" stroke="#111" stroke-width="1.2"/>
<circle cx="182.3" cy="349.0" r="2.25" fill="#4b78c8" stroke="#111" stroke-width="1.2"/>
<circle cx="182.3" cy="351.0" r="2.25" fill="#4b78c8" stroke="#111" stroke-width="1.2"/>
<circle cx="182.3" cy="207.1" r="2.25" fill="#4b78c8" stroke="#111" stroke-width="1.2"/>
<circle cx="182.3" cy="232.6" r="2.25" fill="#90bce7" stroke="#111" stroke-width="1.2"/>
<circle cx="182.3" cy="241.1" r="2.25" fill="#4b78c8" stroke="#111" stroke-width="1.2"/>
<circle cx="182.3" cy="244.7" r="2.25" fill="#90bce7" stroke="#111" stroke-width="1.2"/>
<circle cx="182.3" cy="248.1" r="2.25" fill="#90bce7" stroke="#111" stroke-width="1.2"/>
<circle cx="182.3" cy="259.3" r="2.25" fill="#90bce7" stroke="#111" stroke-width="1.2"/>
<circle cx="182.3" cy="267.3" r="2.25" fill="#90bce7" stroke="#111" stroke-width="1.2"/>
<circle cx="182.3" cy="274.6" r="2.25" fill="#4b78c8" stroke="#111" stroke-width="1.2"/>
<circle cx="182.3" cy="276.8" r="2.25" fill="#4b78c8" stroke="#111" stroke-width="1.2"/>
<circle cx="182.3" cy="299.4" r="2.25" fill="#4b78c8" stroke="#111" stroke-width="1.2"/>
<circle cx="182.3" cy="303.1" r="2.25" fill="#4b78c8" stroke="#111" stroke-width="1.2"/>
<circle cx="182.3" cy="306.7" r="2.25" fill="#4b78c8" stroke="#111" stroke-width="1.2"/>
<circle cx="182.3" cy="309.5" r="2.25" fill="#4b78c8" stroke="#111" stroke-width="1.2"/>
<circle cx="182.3" cy="311.8" r="2.25" fill="#90bce7" stroke="#111" stroke-width="1.2"/>
<circle cx="182.3" cy="316.2" r="2.25" fill="#4b78c8" stroke="#111" stroke-width="1.2"/>
<circle cx="182.3" cy="322.8" r="2.25" fill="#90bce7" stroke="#111" stroke-width="1.2"/>
<circle cx="182.3" cy="325.5" r="2.25" fill="#90bce7" stroke="#111" stroke-width="1.2"/>
<circle cx="182.3" cy="328.6" r="2.25" fill="#90bce7" stroke="#111" stroke-width="1.2"/>
<circle cx="182.3" cy="333.7" r="2.25" fill="#4b78c8" stroke="#111" stroke-width="1.2"/>
<circle cx="641.2" cy="302.0" r="2.25" fill="#4b78c8" stroke="#111" stroke-width="1.2"/>
<circle cx="641.2" cy="310.9" r="2.25" fill="#90bce7" stroke="#111" stroke-width="1.2"/>
<circle cx="641.2" cy="313.8" r="2.25" fill="#90bce7" stroke="#111" stroke-width="1.2"/>
<circle cx="641.2" cy="316.6" r="2.25" fill="#90bce7" stroke="#111" stroke-width="1.2"/>
<circle cx="641.2" cy="323.4" r="2.25" fill="#90bce7" stroke="#111" stroke-width="1.2"/>
<circle cx="641.2" cy="331.6" r="2.25" fill="#90bce7" stroke="#111" stroke-width="1.2"/>
<circle cx="628.4" cy="327.3" r="2.25" fill="#ea4d55" stroke="#111" stroke-width="1.2"/>
<circle cx="629.1" cy="334.6" r="2.25" fill="#ea4d55" stroke="#111" stroke-width="1.2"/>
<circle cx="637.3" cy="331.1" r="2.25" fill="#f2a07a" stroke="#111" stroke-width="1.2"/>
<circle cx="641.2" cy="336.0" r="2.25" fill="#90bce7" stroke="#111" stroke-width="1.2"/>
<circle cx="641.2" cy="341.0" r="2.25" fill="#4b78c8" stroke="#111" stroke-width="1.2"/>
<circle cx="638.5" cy="345.0" r="2.25" fill="#4b78c8" stroke="#111" stroke-width="1.2"/>
<circle cx="260.1" cy="214.3" r="2.25" fill="#f2a07a" stroke="#111" stroke-width="1.2"/>
<circle cx="260.1" cy="302.1" r="2.25" fill="#f2a07a" stroke="#111" stroke-width="1.2"/>
<circle cx="400.4" cy="309.2" r="2.25" fill="#4b78c8" stroke="#111" stroke-width="1.2"/>
<path d="M636.8,205.6 C637.2,202.5 638.2,199.6 639.2,199.0 L643.0,199.0 C644.2,199.6 645.3,202.5 645.7,205.6 Z" fill="#151515" stroke="#111" stroke-width="0.6" stroke-linejoin="round"/>
<ellipse cx="641.9" cy="203.1" rx="1.7" ry="1.5" fill="#f0a07c"/>
<ellipse cx="638.9" cy="203.6" rx="0.8" ry="1.1" fill="#9a6a50"/>
<text x="156.80" y="210.00" font-size="9.7" text-anchor="start" fill="#111">SW</text>
<text x="156.80" y="234.10" font-size="9.7" text-anchor="start" fill="#111">SC6</text>
<text x="265.70" y="216.40" font-size="9.7" text-anchor="start" fill="#111">BPCB</text>
<text x="268.60" y="305.00" font-size="9.7" text-anchor="start" fill="#111">BPCL</text>
<text x="407.70" y="312.10" font-size="9.9" text-anchor="start" fill="#111">LTFW</text>
<text x="649.70" y="206.60" font-size="9.7" text-anchor="start" fill="#111">MB</text>
<text x="650.00" y="303.90" font-size="9.9" text-anchor="start" fill="#111">LTFW</text>
<circle cx="410.7" cy="194.9" r="3.1" fill="#4b78c8" stroke="#111" stroke-width="1.2"/>
<text x="423.10" y="198.40" font-size="9.9" text-anchor="start" fill="#111">Growth and development</text>
<circle cx="410.7" cy="210.6" r="3.1" fill="#90bce7" stroke="#111" stroke-width="1.2"/>
<text x="423.10" y="214.10" font-size="9.9" text-anchor="start" fill="#111">Tissue and carcass</text>
<circle cx="410.7" cy="226.3" r="3.1" fill="#8cc47f" stroke="#111" stroke-width="1.2"/>
<text x="423.10" y="229.80" font-size="9.9" text-anchor="start" fill="#111">Feed intake and efficiency</text>
<circle cx="410.7" cy="242.0" r="3.1" fill="#ea4d55" stroke="#111" stroke-width="1.2"/>
<text x="423.10" y="245.50" font-size="9.9" text-anchor="start" fill="#111">Blood biochemical</text>
<circle cx="410.7" cy="257.7" r="3.1" fill="#f2a07a" stroke="#111" stroke-width="1.2"/>
<text x="423.10" y="261.20" font-size="9.9" text-anchor="start" fill="#111">Feather characteristics</text>
<text x="1.00" y="415.40" font-size="10.5" text-anchor="start" fill="#000" font-weight="bold">f</text>
<line x1="42.00" y1="510.40" x2="42.00" y2="415.40" stroke="#222" stroke-width="0.9"/>
<line x1="36.60" y1="510.40" x2="42.00" y2="510.40" stroke="#222" stroke-width="0.9"/>
<text transform="translate(33.8,510.40) rotate(-90)" font-size="8.4" text-anchor="middle" fill="#111">0</text>
<line x1="36.60" y1="491.40" x2="42.00" y2="491.40" stroke="#222" stroke-width="0.9"/>
<text transform="translate(33.8,491.40) rotate(-90)" font-size="8.4" text-anchor="middle" fill="#111">50</text>
<line x1="36.60" y1="472.40" x2="42.00" y2="472.40" stroke="#222" stroke-width="0.9"/>
<text transform="translate(33.8,472.40) rotate(-90)" font-size="8.4" text-anchor="middle" fill="#111">100</text>
<line x1="36.60" y1="453.40" x2="42.00" y2="453.40" stroke="#222" stroke-width="0.9"/>
<text transform="translate(33.8,453.40) rotate(-90)" font-size="8.4" text-anchor="middle" fill="#111">150</text>
<line x1="36.60" y1="434.40" x2="42.00" y2="434.40" stroke="#222" stroke-width="0.9"/>
<text transform="translate(33.8,434.40) rotate(-90)" font-size="8.4" text-anchor="middle" fill="#111">200</text>
<line x1="36.60" y1="415.40" x2="42.00" y2="415.40" stroke="#222" stroke-width="0.9"/>
<text transform="translate(33.8,415.40) rotate(-90)" font-size="8.4" text-anchor="middle" fill="#111">250</text>
<line x1="46.20" y1="514.30" x2="165.48" y2="514.30" stroke="#222" stroke-width="0.9"/>
<line x1="46.20" y1="514.30" x2="46.20" y2="519.30" stroke="#222" stroke-width="0.9"/>
<text x="46.20" y="530.80" font-size="8.45" text-anchor="middle" fill="#111">0</text>
<line x1="66.08" y1="514.30" x2="66.08" y2="519.30" stroke="#222" stroke-width="0.9"/>
<text x="66.08" y="530.80" font-size="8.45" text-anchor="middle" fill="#111">10</text>
<line x1="85.96" y1="514.30" x2="85.96" y2="519.30" stroke="#222" stroke-width="0.9"/>
<text x="85.96" y="530.80" font-size="8.45" text-anchor="middle" fill="#111">20</text>
<line x1="105.84" y1="514.30" x2="105.84" y2="519.30" stroke="#222" stroke-width="0.9"/>
<text x="105.84" y="530.80" font-size="8.45" text-anchor="middle" fill="#111">30</text>
<line x1="125.72" y1="514.30" x2="125.72" y2="519.30" stroke="#222" stroke-width="0.9"/>
<text x="125.72" y="530.80" font-size="8.45" text-anchor="middle" fill="#111">40</text>
<line x1="145.60" y1="514.30" x2="145.60" y2="519.30" stroke="#222" stroke-width="0.9"/>
<text x="145.60" y="530.80" font-size="8.45" text-anchor="middle" fill="#111">50</text>
<line x1="165.48" y1="514.30" x2="165.48" y2="519.30" stroke="#222" stroke-width="0.9"/>
<text x="165.48" y="530.80" font-size="8.45" text-anchor="middle" fill="#111">60</text>
<text x="100.40" y="546.00" font-size="9.82" text-anchor="middle" fill="#111">Number of genes</text>
<text transform="translate(18.30,460.00) rotate(-90)" font-size="9.8" text-anchor="middle" fill="#111">Frequency</text>
<rect x="46.20" y="419.20" width="3.98" height="91.20" fill="#8a9ab6" stroke="#222" stroke-width="0.7"/>
<rect x="50.18" y="472.78" width="3.98" height="37.62" fill="#8a9ab6" stroke="#222" stroke-width="0.7"/>
<rect x="54.15" y="490.26" width="3.98" height="20.14" fill="#8a9ab6" stroke="#222" stroke-width="0.7"/>
<rect x="58.13" y="496.34" width="3.98" height="14.06" fill="#8a9ab6" stroke="#222" stroke-width="0.7"/>
<rect x="62.10" y="499.38" width="3.98" height="11.02" fill="#8a9ab6" stroke="#222" stroke-width="0.7"/>
<rect x="66.08" y="498.62" width="3.98" height="11.78" fill="#8a9ab6" stroke="#222" stroke-width="0.7"/>
<rect x="70.06" y="499.38" width="3.98" height="11.02" fill="#8a9ab6" stroke="#222" stroke-width="0.7"/>
<rect x="74.03" y="505.46" width="3.98" height="4.94" fill="#8a9ab6" stroke="#222" stroke-width="0.7"/>
<rect x="78.01" y="500.14" width="3.98" height="10.26" fill="#8a9ab6" stroke="#222" stroke-width="0.7"/>
<rect x="81.98" y="506.60" width="3.98" height="3.80" fill="#8a9ab6" stroke="#222" stroke-width="0.7"/>
<rect x="85.96" y="500.90" width="3.98" height="9.50" fill="#8a9ab6" stroke="#222" stroke-width="0.7"/>
<rect x="89.94" y="507.36" width="3.98" height="3.04" fill="#8a9ab6" stroke="#222" stroke-width="0.7"/>
<rect x="93.91" y="508.12" width="3.98" height="2.28" fill="#8a9ab6" stroke="#222" stroke-width="0.7"/>
<rect x="97.89" y="508.12" width="3.98" height="2.28" fill="#8a9ab6" stroke="#222" stroke-width="0.7"/>
<rect x="101.86" y="507.93" width="3.98" height="2.47" fill="#8a9ab6" stroke="#222" stroke-width="0.7"/>
<rect x="105.84" y="509.64" width="3.98" height="0.76" fill="#8a9ab6" stroke="#222" stroke-width="0.7"/>
<rect x="109.82" y="509.26" width="3.98" height="1.14" fill="#8a9ab6" stroke="#222" stroke-width="0.7"/>
<rect x="113.79" y="510.02" width="3.98" height="0.38" fill="#8a9ab6" stroke="#222" stroke-width="0.7"/>
<rect x="117.77" y="510.02" width="3.98" height="0.38" fill="#8a9ab6" stroke="#222" stroke-width="0.7"/>
<rect x="121.74" y="510.02" width="3.98" height="0.38" fill="#8a9ab6" stroke="#222" stroke-width="0.7"/>
<rect x="125.72" y="509.64" width="3.98" height="0.76" fill="#8a9ab6" stroke="#222" stroke-width="0.7"/>
<rect x="129.70" y="509.64" width="3.98" height="0.76" fill="#8a9ab6" stroke="#222" stroke-width="0.7"/>
<rect x="133.67" y="510.02" width="3.98" height="0.38" fill="#8a9ab6" stroke="#222" stroke-width="0.7"/>
<rect x="145.60" y="509.64" width="3.98" height="0.76" fill="#8a9ab6" stroke="#222" stroke-width="0.7"/>
<rect x="161.50" y="510.02" width="3.98" height="0.38" fill="#8a9ab6" stroke="#222" stroke-width="0.7"/>
<rect x="165.48" y="510.02" width="3.98" height="0.38" fill="#8a9ab6" stroke="#222" stroke-width="0.7"/>
<line x1="46.20" y1="510.40" x2="169.46" y2="510.40" stroke="#222" stroke-width="0.8"/>
<text x="175.50" y="416.60" font-size="10.5" text-anchor="start" fill="#000" font-weight="bold">g</text>
<text x="216.40" y="428.10" font-size="9.9" text-anchor="start" fill="#111">Muffs and beard (Y/N)</text>
<line x1="211.20" y1="432.00" x2="211.20" y2="523.70" stroke="#222" stroke-width="0.9"/>
<line x1="210.80" y1="523.30" x2="408.40" y2="523.30" stroke="#222" stroke-width="0.9"/>
<line x1="209.00" y1="519.20" x2="211.20" y2="519.20" stroke="#222" stroke-width="0.8"/>
<text x="206.90" y="522.00" font-size="7.9" text-anchor="end" fill="#111">0</text>
<line x1="209.00" y1="493.10" x2="211.20" y2="493.10" stroke="#222" stroke-width="0.8"/>
<text x="206.90" y="495.90" font-size="7.9" text-anchor="end" fill="#111">50</text>
<line x1="209.00" y1="467.00" x2="211.20" y2="467.00" stroke="#222" stroke-width="0.8"/>
<text x="206.90" y="469.80" font-size="7.9" text-anchor="end" fill="#111">100</text>
<line x1="209.00" y1="440.90" x2="211.20" y2="440.90" stroke="#222" stroke-width="0.8"/>
<text x="206.90" y="443.70" font-size="7.9" text-anchor="end" fill="#111">150</text>
<line x1="240.60" y1="523.30" x2="240.60" y2="525.60" stroke="#222" stroke-width="0.8"/>
<text x="240.60" y="534.20" font-size="8.4" text-anchor="middle" fill="#111">4.0</text>
<line x1="285.23" y1="523.30" x2="285.23" y2="525.60" stroke="#222" stroke-width="0.8"/>
<text x="285.23" y="534.20" font-size="8.4" text-anchor="middle" fill="#111">4.1</text>
<line x1="329.86" y1="523.30" x2="329.86" y2="525.60" stroke="#222" stroke-width="0.8"/>
<text x="329.86" y="534.20" font-size="8.4" text-anchor="middle" fill="#111">4.2</text>
<line x1="374.49" y1="523.30" x2="374.49" y2="525.60" stroke="#222" stroke-width="0.8"/>
<text x="374.49" y="534.20" font-size="8.4" text-anchor="middle" fill="#111">4.3</text>
<text x="235.70" y="550.70" font-size="9.9" text-anchor="start" fill="#111">Chromosome 27 position (Mb)</text>
<text transform="translate(184.8,474.5) rotate(-90)" font-size="10" text-anchor="middle" fill="#111">&#8722;log<tspan font-size="5.0" dy="2.2">10</tspan><tspan dy="-2.2" font-style="italic">P</tspan></text>
<g fill="#b7b8ba"><circle cx="332.2" cy="518.0" r="1.75"/><circle cx="363.4" cy="519.7" r="1.75"/><circle cx="353.4" cy="519.5" r="1.75"/><circle cx="224.6" cy="515.6" r="1.75"/><circle cx="390.2" cy="517.1" r="1.75"/><circle cx="382.5" cy="512.5" r="1.75"/><circle cx="304.3" cy="513.6" r="1.75"/><circle cx="317.8" cy="516.5" r="1.75"/><circle cx="221.7" cy="513.4" r="1.75"/><circle cx="269.9" cy="519.5" r="1.75"/><circle cx="358.0" cy="512.9" r="1.75"/><circle cx="363.7" cy="512.7" r="1.75"/><circle cx="331.2" cy="512.6" r="1.75"/><circle cx="219.6" cy="519.1" r="1.75"/><circle cx="257.3" cy="513.4" r="1.75"/><circle cx="397.3" cy="519.1" r="1.75"/><circle cx="271.7" cy="519.9" r="1.75"/><circle cx="317.0" cy="517.4" r="1.75"/><circle cx="256.4" cy="519.7" r="1.75"/><circle cx="344.4" cy="519.9" r="1.75"/><circle cx="381.2" cy="514.1" r="1.75"/><circle cx="284.7" cy="512.9" r="1.75"/><circle cx="245.7" cy="512.1" r="1.75"/><circle cx="273.9" cy="516.7" r="1.75"/><circle cx="219.9" cy="517.4" r="1.75"/><circle cx="280.5" cy="514.2" r="1.75"/><circle cx="367.6" cy="515.7" r="1.75"/><circle cx="276.5" cy="515.7" r="1.75"/><circle cx="347.0" cy="512.0" r="1.75"/><circle cx="396.0" cy="511.7" r="1.75"/><circle cx="355.2" cy="518.9" r="1.75"/><circle cx="222.6" cy="518.4" r="1.75"/><circle cx="285.7" cy="516.5" r="1.75"/><circle cx="220.9" cy="511.9" r="1.75"/><circle cx="252.1" cy="519.8" r="1.75"/><circle cx="254.9" cy="518.1" r="1.75"/><circle cx="387.8" cy="519.7" r="1.75"/><circle cx="281.7" cy="514.6" r="1.75"/><circle cx="314.4" cy="518.2" r="1.75"/><circle cx="238.9" cy="518.0" r="1.75"/><circle cx="363.8" cy="519.0" r="1.75"/><circle cx="225.9" cy="519.7" r="1.75"/><circle cx="235.8" cy="514.5" r="1.75"/><circle cx="330.0" cy="519.5" r="1.75"/><circle cx="280.9" cy="519.5" r="1.75"/><circle cx="318.1" cy="514.2" r="1.75"/><circle cx="276.7" cy="513.0" r="1.75"/><circle cx="233.5" cy="512.8" r="1.75"/><circle cx="344.2" cy="520.2" r="1.75"/><circle cx="248.6" cy="511.9" r="1.75"/><circle cx="398.1" cy="516.1" r="1.75"/><circle cx="292.8" cy="513.6" r="1.75"/><circle cx="326.9" cy="518.7" r="1.75"/><circle cx="301.9" cy="515.2" r="1.75"/><circle cx="229.4" cy="519.5" r="1.75"/><circle cx="225.2" cy="515.8" r="1.75"/><circle cx="371.2" cy="512.6" r="1.75"/><circle cx="351.9" cy="519.8" r="1.75"/><circle cx="333.5" cy="518.4" r="1.75"/><circle cx="238.6" cy="515.3" r="1.75"/><circle cx="246.3" cy="518.8" r="1.75"/><circle cx="272.7" cy="515.4" r="1.75"/><circle cx="400.4" cy="518.9" r="1.75"/><circle cx="396.2" cy="515.4" r="1.75"/><circle cx="307.8" cy="517.8" r="1.75"/><circle cx="306.1" cy="514.0" r="1.75"/><circle cx="292.5" cy="512.8" r="1.75"/><circle cx="287.6" cy="520.1" r="1.75"/><circle cx="393.2" cy="517.0" r="1.75"/><circle cx="309.8" cy="514.4" r="1.75"/><circle cx="235.5" cy="513.9" r="1.75"/><circle cx="361.0" cy="519.0" r="1.75"/><circle cx="284.8" cy="518.3" r="1.75"/><circle cx="359.7" cy="517.5" r="1.75"/><circle cx="339.6" cy="518.1" r="1.75"/><circle cx="285.2" cy="517.6" r="1.75"/><circle cx="270.2" cy="515.7" r="1.75"/><circle cx="358.8" cy="517.5" r="1.75"/><circle cx="272.5" cy="519.7" r="1.75"/><circle cx="337.0" cy="516.6" r="1.75"/><circle cx="221.4" cy="516.3" r="1.75"/><circle cx="264.7" cy="517.3" r="1.75"/><circle cx="303.2" cy="518.6" r="1.75"/><circle cx="336.6" cy="518.4" r="1.75"/><circle cx="282.3" cy="517.1" r="1.75"/><circle cx="353.0" cy="518.7" r="1.75"/><circle cx="282.7" cy="518.8" r="1.75"/><circle cx="376.9" cy="517.5" r="1.75"/><circle cx="396.2" cy="519.8" r="1.75"/><circle cx="313.2" cy="516.1" r="1.75"/><circle cx="249.4" cy="518.8" r="1.75"/><circle cx="389.2" cy="515.7" r="1.75"/><circle cx="344.6" cy="517.8" r="1.75"/><circle cx="351.6" cy="513.0" r="1.75"/><circle cx="360.7" cy="516.6" r="1.75"/><circle cx="339.9" cy="515.2" r="1.75"/><circle cx="332.3" cy="518.2" r="1.75"/><circle cx="334.7" cy="517.8" r="1.75"/><circle cx="224.3" cy="512.9" r="1.75"/><circle cx="299.2" cy="517.2" r="1.75"/><circle cx="259.0" cy="517.5" r="1.75"/><circle cx="333.6" cy="511.9" r="1.75"/><circle cx="304.8" cy="513.5" r="1.75"/><circle cx="229.1" cy="512.7" r="1.75"/><circle cx="276.8" cy="513.1" r="1.75"/><circle cx="254.3" cy="511.8" r="1.75"/><circle cx="303.6" cy="514.8" r="1.75"/><circle cx="330.2" cy="516.6" r="1.75"/><circle cx="262.4" cy="519.4" r="1.75"/><circle cx="219.4" cy="515.0" r="1.75"/><circle cx="269.8" cy="515.1" r="1.75"/><circle cx="240.2" cy="518.7" r="1.75"/><circle cx="287.0" cy="511.8" r="1.75"/><circle cx="330.5" cy="512.3" r="1.75"/><circle cx="318.1" cy="514.5" r="1.75"/><circle cx="324.6" cy="519.8" r="1.75"/><circle cx="367.6" cy="515.1" r="1.75"/><circle cx="366.6" cy="517.1" r="1.75"/><circle cx="286.2" cy="512.7" r="1.75"/><circle cx="327.3" cy="516.4" r="1.75"/><circle cx="392.7" cy="519.9" r="1.75"/><circle cx="329.6" cy="514.6" r="1.75"/><circle cx="381.2" cy="511.5" r="1.75"/><circle cx="238.9" cy="516.4" r="1.75"/><circle cx="330.8" cy="512.7" r="1.75"/><circle cx="333.4" cy="519.3" r="1.75"/><circle cx="287.4" cy="515.3" r="1.75"/><circle cx="260.3" cy="514.0" r="1.75"/><circle cx="395.5" cy="514.8" r="1.75"/><circle cx="393.5" cy="519.4" r="1.75"/><circle cx="327.3" cy="513.8" r="1.75"/><circle cx="397.1" cy="515.8" r="1.75"/><circle cx="294.6" cy="514.3" r="1.75"/><circle cx="397.7" cy="515.8" r="1.75"/><circle cx="271.2" cy="515.6" r="1.75"/><circle cx="241.4" cy="516.9" r="1.75"/><circle cx="299.7" cy="514.0" r="1.75"/><circle cx="360.9" cy="518.7" r="1.75"/><circle cx="221.7" cy="516.1" r="1.75"/><circle cx="268.9" cy="519.6" r="1.75"/><circle cx="361.0" cy="513.6" r="1.75"/><circle cx="267.8" cy="512.8" r="1.75"/><circle cx="398.5" cy="514.1" r="1.75"/><circle cx="329.5" cy="515.6" r="1.75"/><circle cx="336.2" cy="516.8" r="1.75"/><circle cx="354.0" cy="512.5" r="1.75"/><circle cx="357.1" cy="514.1" r="1.75"/><circle cx="316.0" cy="514.4" r="1.75"/><circle cx="273.1" cy="516.1" r="1.75"/><circle cx="303.4" cy="514.6" r="1.75"/><circle cx="354.3" cy="516.6" r="1.75"/><circle cx="225.9" cy="513.7" r="1.75"/><circle cx="301.9" cy="519.5" r="1.75"/><circle cx="380.2" cy="516.2" r="1.75"/><circle cx="221.9" cy="518.3" r="1.75"/><circle cx="296.8" cy="516.5" r="1.75"/><circle cx="347.6" cy="517.0" r="1.75"/><circle cx="306.6" cy="519.4" r="1.75"/><circle cx="289.1" cy="514.9" r="1.75"/><circle cx="373.7" cy="513.2" r="1.75"/><circle cx="273.0" cy="518.7" r="1.75"/><circle cx="231.3" cy="518.8" r="1.75"/><circle cx="345.2" cy="515.3" r="1.75"/><circle cx="271.2" cy="518.3" r="1.75"/><circle cx="384.3" cy="512.7" r="1.75"/><circle cx="306.0" cy="516.3" r="1.75"/><circle cx="309.5" cy="514.4" r="1.75"/><circle cx="247.1" cy="516.6" r="1.75"/><circle cx="366.4" cy="512.1" r="1.75"/><circle cx="261.0" cy="518.6" r="1.75"/><circle cx="362.8" cy="517.3" r="1.75"/><circle cx="223.9" cy="517.8" r="1.75"/><circle cx="396.6" cy="520.2" r="1.75"/><circle cx="346.4" cy="511.9" r="1.75"/><circle cx="371.9" cy="513.4" r="1.75"/><circle cx="336.3" cy="519.8" r="1.75"/><circle cx="348.4" cy="512.7" r="1.75"/><circle cx="272.3" cy="519.5" r="1.75"/><circle cx="246.4" cy="516.8" r="1.75"/><circle cx="294.3" cy="512.9" r="1.75"/><circle cx="332.1" cy="511.9" r="1.75"/><circle cx="238.9" cy="514.8" r="1.75"/><circle cx="232.3" cy="512.0" r="1.75"/><circle cx="323.5" cy="518.0" r="1.75"/><circle cx="378.5" cy="512.7" r="1.75"/><circle cx="297.5" cy="514.2" r="1.75"/><circle cx="328.1" cy="515.8" r="1.75"/><circle cx="389.4" cy="514.8" r="1.75"/><circle cx="229.4" cy="517.6" r="1.75"/><circle cx="246.7" cy="517.0" r="1.75"/><circle cx="311.0" cy="519.4" r="1.75"/><circle cx="319.8" cy="516.9" r="1.75"/><circle cx="267.0" cy="516.3" r="1.75"/><circle cx="265.4" cy="518.0" r="1.75"/><circle cx="313.0" cy="512.7" r="1.75"/><circle cx="261.8" cy="514.7" r="1.75"/><circle cx="352.8" cy="513.1" r="1.75"/><circle cx="348.5" cy="517.2" r="1.75"/><circle cx="234.7" cy="517.3" r="1.75"/><circle cx="235.8" cy="512.6" r="1.75"/><circle cx="326.9" cy="513.6" r="1.75"/><circle cx="378.2" cy="515.7" r="1.75"/><circle cx="277.9" cy="518.4" r="1.75"/><circle cx="224.6" cy="517.8" r="1.75"/><circle cx="229.0" cy="512.8" r="1.75"/><circle cx="391.8" cy="517.4" r="1.75"/><circle cx="259.7" cy="512.5" r="1.75"/><circle cx="395.6" cy="517.3" r="1.75"/><circle cx="368.0" cy="512.7" r="1.75"/><circle cx="332.5" cy="514.6" r="1.75"/><circle cx="261.9" cy="514.4" r="1.75"/><circle cx="330.5" cy="514.5" r="1.75"/><circle cx="289.2" cy="512.7" r="1.75"/><circle cx="369.9" cy="517.1" r="1.75"/><circle cx="365.1" cy="515.3" r="1.75"/><circle cx="373.6" cy="516.0" r="1.75"/><circle cx="326.7" cy="516.5" r="1.75"/><circle cx="353.4" cy="514.9" r="1.75"/><circle cx="236.9" cy="511.8" r="1.75"/><circle cx="256.0" cy="511.8" r="1.75"/><circle cx="380.4" cy="515.7" r="1.75"/><circle cx="357.1" cy="511.5" r="1.75"/><circle cx="304.5" cy="519.2" r="1.75"/><circle cx="331.5" cy="515.2" r="1.75"/><circle cx="303.7" cy="512.4" r="1.75"/><circle cx="247.3" cy="512.9" r="1.75"/><circle cx="287.2" cy="514.9" r="1.75"/><circle cx="378.8" cy="512.8" r="1.75"/><circle cx="265.3" cy="513.9" r="1.75"/><circle cx="248.6" cy="514.0" r="1.75"/><circle cx="261.9" cy="515.7" r="1.75"/><circle cx="225.1" cy="519.5" r="1.75"/><circle cx="286.2" cy="519.7" r="1.75"/><circle cx="343.9" cy="517.4" r="1.75"/><circle cx="304.8" cy="519.7" r="1.75"/><circle cx="240.7" cy="517.3" r="1.75"/><circle cx="272.0" cy="517.4" r="1.75"/><circle cx="351.4" cy="512.9" r="1.75"/><circle cx="255.7" cy="511.7" r="1.75"/><circle cx="261.1" cy="512.2" r="1.75"/><circle cx="292.0" cy="520.0" r="1.75"/><circle cx="285.3" cy="514.2" r="1.75"/><circle cx="304.1" cy="514.0" r="1.75"/><circle cx="352.0" cy="517.7" r="1.75"/><circle cx="248.9" cy="513.6" r="1.75"/><circle cx="341.1" cy="519.7" r="1.75"/><circle cx="336.3" cy="515.2" r="1.75"/><circle cx="396.0" cy="511.6" r="1.75"/><circle cx="230.3" cy="518.3" r="1.75"/><circle cx="293.6" cy="511.9" r="1.75"/><circle cx="318.7" cy="520.1" r="1.75"/><circle cx="313.3" cy="514.5" r="1.75"/><circle cx="236.3" cy="512.1" r="1.75"/><circle cx="382.2" cy="515.8" r="1.75"/><circle cx="388.9" cy="512.0" r="1.75"/><circle cx="263.4" cy="511.9" r="1.75"/><circle cx="291.3" cy="512.0" r="1.75"/><circle cx="265.6" cy="515.0" r="1.75"/><circle cx="274.7" cy="511.9" r="1.75"/><circle cx="226.1" cy="520.0" r="1.75"/><circle cx="251.8" cy="515.9" r="1.75"/><circle cx="292.2" cy="516.1" r="1.75"/><circle cx="234.6" cy="514.2" r="1.75"/><circle cx="238.9" cy="516.2" r="1.75"/><circle cx="386.2" cy="516.7" r="1.75"/><circle cx="374.5" cy="513.4" r="1.75"/><circle cx="222.5" cy="516.2" r="1.75"/><circle cx="307.5" cy="516.5" r="1.75"/><circle cx="287.5" cy="516.9" r="1.75"/><circle cx="350.8" cy="519.4" r="1.75"/><circle cx="275.0" cy="515.4" r="1.75"/><circle cx="369.0" cy="513.4" r="1.75"/><circle cx="240.3" cy="514.2" r="1.75"/><circle cx="235.2" cy="518.2" r="1.75"/><circle cx="367.8" cy="514.2" r="1.75"/><circle cx="242.8" cy="512.2" r="1.75"/><circle cx="263.7" cy="512.2" r="1.75"/><circle cx="297.0" cy="516.5" r="1.75"/><circle cx="263.8" cy="512.0" r="1.75"/><circle cx="346.2" cy="511.9" r="1.75"/><circle cx="255.5" cy="514.0" r="1.75"/><circle cx="287.0" cy="512.4" r="1.75"/><circle cx="295.5" cy="514.2" r="1.75"/><circle cx="355.6" cy="516.3" r="1.75"/><circle cx="381.7" cy="517.2" r="1.75"/><circle cx="357.0" cy="516.5" r="1.75"/><circle cx="299.4" cy="518.6" r="1.75"/><circle cx="338.1" cy="519.8" r="1.75"/><circle cx="351.2" cy="517.6" r="1.75"/><circle cx="267.8" cy="518.6" r="1.75"/><circle cx="288.6" cy="512.6" r="1.75"/><circle cx="231.2" cy="513.0" r="1.75"/><circle cx="266.9" cy="517.4" r="1.75"/><circle cx="271.0" cy="512.1" r="1.75"/><circle cx="357.7" cy="516.3" r="1.75"/><circle cx="224.3" cy="511.9" r="1.75"/><circle cx="242.9" cy="514.6" r="1.75"/><circle cx="375.1" cy="519.8" r="1.75"/><circle cx="330.2" cy="513.5" r="1.75"/><circle cx="297.0" cy="514.7" r="1.75"/><circle cx="279.2" cy="511.6" r="1.75"/><circle cx="325.2" cy="518.7" r="1.75"/><circle cx="351.0" cy="512.3" r="1.75"/><circle cx="315.4" cy="513.0" r="1.75"/><circle cx="347.8" cy="515.4" r="1.75"/><circle cx="389.4" cy="518.4" r="1.75"/><circle cx="240.7" cy="514.3" r="1.75"/><circle cx="385.1" cy="515.5" r="1.75"/><circle cx="298.0" cy="515.3" r="1.75"/><circle cx="358.4" cy="519.6" r="1.75"/><circle cx="315.8" cy="519.9" r="1.75"/><circle cx="327.3" cy="512.4" r="1.75"/><circle cx="366.8" cy="515.1" r="1.75"/><circle cx="228.8" cy="520.0" r="1.75"/><circle cx="225.3" cy="516.5" r="1.75"/><circle cx="306.6" cy="519.2" r="1.75"/><circle cx="290.5" cy="513.4" r="1.75"/><circle cx="269.5" cy="513.3" r="1.75"/><circle cx="321.2" cy="514.6" r="1.75"/><circle cx="355.4" cy="513.6" r="1.75"/><circle cx="283.0" cy="513.7" r="1.75"/><circle cx="397.3" cy="518.8" r="1.75"/><circle cx="373.3" cy="516.9" r="1.75"/><circle cx="291.9" cy="512.7" r="1.75"/><circle cx="370.0" cy="515.8" r="1.75"/><circle cx="226.1" cy="513.0" r="1.75"/><circle cx="237.2" cy="517.7" r="1.75"/><circle cx="382.4" cy="513.2" r="1.75"/><circle cx="363.7" cy="514.3" r="1.75"/><circle cx="343.0" cy="519.0" r="1.75"/><circle cx="332.2" cy="518.5" r="1.75"/><circle cx="287.5" cy="511.6" r="1.75"/><circle cx="312.0" cy="516.6" r="1.75"/><circle cx="252.8" cy="514.9" r="1.75"/><circle cx="276.8" cy="511.7" r="1.75"/><circle cx="275.8" cy="514.8" r="1.75"/><circle cx="305.6" cy="517.6" r="1.75"/><circle cx="291.6" cy="520.0" r="1.75"/><circle cx="367.1" cy="519.5" r="1.75"/><circle cx="344.8" cy="517.3" r="1.75"/><circle cx="316.6" cy="518.4" r="1.75"/><circle cx="285.0" cy="516.7" r="1.75"/><circle cx="342.4" cy="516.0" r="1.75"/><circle cx="270.8" cy="512.2" r="1.75"/><circle cx="235.1" cy="514.6" r="1.75"/><circle cx="324.5" cy="518.1" r="1.75"/><circle cx="348.8" cy="514.2" r="1.75"/><circle cx="387.7" cy="513.9" r="1.75"/><circle cx="349.1" cy="512.1" r="1.75"/><circle cx="355.8" cy="517.3" r="1.75"/><circle cx="392.7" cy="519.3" r="1.75"/><circle cx="343.9" cy="518.8" r="1.75"/><circle cx="353.1" cy="516.8" r="1.75"/><circle cx="257.1" cy="516.0" r="1.75"/><circle cx="381.7" cy="513.6" r="1.75"/><circle cx="395.9" cy="516.2" r="1.75"/><circle cx="290.6" cy="511.5" r="1.75"/><circle cx="290.0" cy="513.0" r="1.75"/><circle cx="337.6" cy="519.3" r="1.75"/><circle cx="384.2" cy="516.8" r="1.75"/><circle cx="289.4" cy="512.4" r="1.75"/><circle cx="344.1" cy="516.3" r="1.75"/><circle cx="348.9" cy="514.8" r="1.75"/><circle cx="380.0" cy="513.4" r="1.75"/><circle cx="274.7" cy="513.8" r="1.75"/><circle cx="332.0" cy="519.3" r="1.75"/><circle cx="249.6" cy="517.0" r="1.75"/><circle cx="358.2" cy="513.5" r="1.75"/><circle cx="230.7" cy="516.4" r="1.75"/><circle cx="369.7" cy="519.1" r="1.75"/><circle cx="351.2" cy="515.1" r="1.75"/><circle cx="296.4" cy="516.1" r="1.75"/><circle cx="383.2" cy="514.1" r="1.75"/><circle cx="270.2" cy="516.8" r="1.75"/><circle cx="394.4" cy="513.1" r="1.75"/><circle cx="224.8" cy="512.5" r="1.75"/><circle cx="321.2" cy="516.7" r="1.75"/><circle cx="252.6" cy="513.2" r="1.75"/><circle cx="327.0" cy="517.1" r="1.75"/><circle cx="344.4" cy="517.8" r="1.75"/><circle cx="230.4" cy="515.7" r="1.75"/><circle cx="370.5" cy="519.8" r="1.75"/><circle cx="277.0" cy="518.9" r="1.75"/><circle cx="336.2" cy="519.6" r="1.75"/><circle cx="260.8" cy="517.6" r="1.75"/><circle cx="371.6" cy="515.6" r="1.75"/><circle cx="237.6" cy="513.2" r="1.75"/><circle cx="247.7" cy="512.3" r="1.75"/><circle cx="246.8" cy="516.9" r="1.75"/><circle cx="238.3" cy="518.1" r="1.75"/><circle cx="352.7" cy="518.6" r="1.75"/><circle cx="364.9" cy="517.7" r="1.75"/><circle cx="386.7" cy="519.8" r="1.75"/><circle cx="332.6" cy="519.9" r="1.75"/><circle cx="238.0" cy="512.4" r="1.75"/><circle cx="231.0" cy="513.3" r="1.75"/><circle cx="287.1" cy="515.5" r="1.75"/><circle cx="342.6" cy="518.0" r="1.75"/><circle cx="234.5" cy="515.0" r="1.75"/><circle cx="317.8" cy="514.8" r="1.75"/><circle cx="240.6" cy="516.7" r="1.75"/><circle cx="287.1" cy="517.4" r="1.75"/><circle cx="309.1" cy="519.9" r="1.75"/><circle cx="390.5" cy="512.1" r="1.75"/><circle cx="357.0" cy="517.8" r="1.75"/><circle cx="272.9" cy="512.5" r="1.75"/><circle cx="306.1" cy="514.6" r="1.75"/><circle cx="352.9" cy="519.5" r="1.75"/><circle cx="288.5" cy="514.0" r="1.75"/><circle cx="309.7" cy="517.6" r="1.75"/><circle cx="362.3" cy="516.5" r="1.75"/><circle cx="272.9" cy="514.4" r="1.75"/><circle cx="373.0" cy="516.0" r="1.75"/><circle cx="228.4" cy="515.2" r="1.75"/><circle cx="262.4" cy="517.3" r="1.75"/><circle cx="232.6" cy="513.9" r="1.75"/><circle cx="236.7" cy="515.7" r="1.75"/><circle cx="397.7" cy="516.2" r="1.75"/><circle cx="289.3" cy="519.6" r="1.75"/><circle cx="235.9" cy="514.6" r="1.75"/><circle cx="366.2" cy="511.5" r="1.75"/><circle cx="358.1" cy="514.6" r="1.75"/><circle cx="222.3" cy="513.7" r="1.75"/><circle cx="302.3" cy="514.8" r="1.75"/><circle cx="312.9" cy="512.0" r="1.75"/><circle cx="258.9" cy="520.0" r="1.75"/><circle cx="299.5" cy="515.6" r="1.75"/><circle cx="234.8" cy="513.9" r="1.75"/><circle cx="392.3" cy="517.5" r="1.75"/><circle cx="311.3" cy="512.0" r="1.75"/><circle cx="290.5" cy="518.3" r="1.75"/><circle cx="298.1" cy="516.7" r="1.75"/><circle cx="382.8" cy="517.1" r="1.75"/><circle cx="334.5" cy="511.8" r="1.75"/><circle cx="223.6" cy="518.2" r="1.75"/><circle cx="294.2" cy="519.1" r="1.75"/><circle cx="368.9" cy="519.5" r="1.75"/><circle cx="287.9" cy="520.2" r="1.75"/><circle cx="356.3" cy="519.3" r="1.75"/><circle cx="246.2" cy="518.3" r="1.75"/><circle cx="295.8" cy="520.0" r="1.75"/><circle cx="399.4" cy="513.4" r="1.75"/><circle cx="295.7" cy="513.9" r="1.75"/><circle cx="304.4" cy="514.0" r="1.75"/><circle cx="340.1" cy="512.6" r="1.75"/><circle cx="250.0" cy="515.5" r="1.75"/><circle cx="232.7" cy="514.8" r="1.75"/><circle cx="381.9" cy="519.2" r="1.75"/><circle cx="254.9" cy="511.7" r="1.75"/><circle cx="369.4" cy="519.9" r="1.75"/><circle cx="327.8" cy="512.7" r="1.75"/><circle cx="262.2" cy="519.5" r="1.75"/><circle cx="389.2" cy="511.8" r="1.75"/><circle cx="252.8" cy="515.2" r="1.75"/><circle cx="267.6" cy="518.1" r="1.75"/><circle cx="286.9" cy="518.2" r="1.75"/><circle cx="246.8" cy="516.0" r="1.75"/><circle cx="396.0" cy="517.6" r="1.75"/><circle cx="235.6" cy="512.5" r="1.75"/><circle cx="335.9" cy="514.8" r="1.75"/><circle cx="286.1" cy="515.7" r="1.75"/><circle cx="324.7" cy="519.9" r="1.75"/><circle cx="263.0" cy="516.4" r="1.75"/><circle cx="267.0" cy="516.2" r="1.75"/><circle cx="351.8" cy="512.7" r="1.75"/><circle cx="306.5" cy="517.6" r="1.75"/><circle cx="220.8" cy="518.2" r="1.75"/><circle cx="295.2" cy="515.9" r="1.75"/><circle cx="329.9" cy="518.4" r="1.75"/><circle cx="229.5" cy="515.9" r="1.75"/><circle cx="226.2" cy="514.9" r="1.75"/><circle cx="282.0" cy="511.7" r="1.75"/><circle cx="273.3" cy="515.4" r="1.75"/><circle cx="338.0" cy="519.5" r="1.75"/><circle cx="286.4" cy="516.1" r="1.75"/><circle cx="348.5" cy="519.7" r="1.75"/><circle cx="391.4" cy="520.1" r="1.75"/><circle cx="274.0" cy="512.9" r="1.75"/><circle cx="388.2" cy="512.2" r="1.75"/><circle cx="300.6" cy="517.9" r="1.75"/><circle cx="315.1" cy="514.9" r="1.75"/><circle cx="386.8" cy="514.1" r="1.75"/><circle cx="319.3" cy="518.7" r="1.75"/><circle cx="244.3" cy="514.6" r="1.75"/><circle cx="308.9" cy="516.4" r="1.75"/><circle cx="256.9" cy="515.4" r="1.75"/><circle cx="230.1" cy="512.3" r="1.75"/><circle cx="281.3" cy="512.8" r="1.75"/><circle cx="394.6" cy="513.8" r="1.75"/><circle cx="269.3" cy="518.3" r="1.75"/><circle cx="353.6" cy="513.8" r="1.75"/><circle cx="369.5" cy="516.9" r="1.75"/><circle cx="289.7" cy="517.0" r="1.75"/><circle cx="263.8" cy="513.8" r="1.75"/><circle cx="378.1" cy="515.3" r="1.75"/><circle cx="381.9" cy="513.0" r="1.75"/><circle cx="244.2" cy="512.0" r="1.75"/><circle cx="353.3" cy="516.4" r="1.75"/><circle cx="221.0" cy="511.9" r="1.75"/><circle cx="368.6" cy="515.8" r="1.75"/><circle cx="377.2" cy="511.8" r="1.75"/><circle cx="326.0" cy="512.5" r="1.75"/><circle cx="350.0" cy="516.8" r="1.75"/><circle cx="330.2" cy="513.4" r="1.75"/><circle cx="391.3" cy="512.5" r="1.75"/><circle cx="230.9" cy="517.5" r="1.75"/><circle cx="236.1" cy="512.1" r="1.75"/><circle cx="302.7" cy="517.1" r="1.75"/><circle cx="380.9" cy="517.8" r="1.75"/><circle cx="231.9" cy="517.1" r="1.75"/><circle cx="372.2" cy="512.5" r="1.75"/><circle cx="356.0" cy="513.8" r="1.75"/><circle cx="273.4" cy="511.5" r="1.75"/><circle cx="356.7" cy="516.0" r="1.75"/><circle cx="382.7" cy="515.6" r="1.75"/><circle cx="247.5" cy="513.4" r="1.75"/><circle cx="267.0" cy="519.7" r="1.75"/><circle cx="256.5" cy="512.3" r="1.75"/><circle cx="283.2" cy="512.2" r="1.75"/><circle cx="296.3" cy="516.9" r="1.75"/><circle cx="337.2" cy="513.0" r="1.75"/><circle cx="244.5" cy="515.8" r="1.75"/><circle cx="343.8" cy="515.4" r="1.75"/><circle cx="323.2" cy="519.4" r="1.75"/><circle cx="245.6" cy="513.8" r="1.75"/><circle cx="308.8" cy="516.2" r="1.75"/><circle cx="382.4" cy="516.3" r="1.75"/><circle cx="339.3" cy="515.2" r="1.75"/><circle cx="361.4" cy="518.8" r="1.75"/><circle cx="272.5" cy="512.4" r="1.75"/><circle cx="266.3" cy="514.6" r="1.75"/><circle cx="380.5" cy="513.8" r="1.75"/><circle cx="333.3" cy="517.1" r="1.75"/><circle cx="392.6" cy="512.5" r="1.75"/><circle cx="358.8" cy="514.4" r="1.75"/><circle cx="238.0" cy="517.0" r="1.75"/><circle cx="372.3" cy="516.6" r="1.75"/><circle cx="228.3" cy="520.0" r="1.75"/><circle cx="288.9" cy="517.0" r="1.75"/><circle cx="350.5" cy="513.8" r="1.75"/><circle cx="293.3" cy="514.4" r="1.75"/><circle cx="236.7" cy="512.1" r="1.75"/><circle cx="349.2" cy="515.1" r="1.75"/><circle cx="376.9" cy="512.0" r="1.75"/><circle cx="273.9" cy="513.1" r="1.75"/><circle cx="390.2" cy="518.4" r="1.75"/><circle cx="381.7" cy="515.9" r="1.75"/><circle cx="238.2" cy="515.1" r="1.75"/><circle cx="260.3" cy="511.7" r="1.75"/><circle cx="321.7" cy="514.0" r="1.75"/><circle cx="238.8" cy="516.0" r="1.75"/><circle cx="388.4" cy="519.7" r="1.75"/><circle cx="303.8" cy="512.4" r="1.75"/><circle cx="358.6" cy="512.5" r="1.75"/><circle cx="316.7" cy="512.2" r="1.75"/><circle cx="398.2" cy="516.2" r="1.75"/><circle cx="298.6" cy="513.9" r="1.75"/><circle cx="319.1" cy="520.0" r="1.75"/><circle cx="296.8" cy="513.3" r="1.75"/><circle cx="312.6" cy="519.5" r="1.75"/><circle cx="288.5" cy="517.0" r="1.75"/><circle cx="385.8" cy="514.3" r="1.75"/><circle cx="366.2" cy="516.1" r="1.75"/><circle cx="244.6" cy="512.0" r="1.75"/><circle cx="389.4" cy="515.6" r="1.75"/><circle cx="299.6" cy="519.5" r="1.75"/><circle cx="323.3" cy="515.9" r="1.75"/><circle cx="270.8" cy="518.0" r="1.75"/><circle cx="265.7" cy="515.6" r="1.75"/><circle cx="356.7" cy="516.8" r="1.75"/><circle cx="243.6" cy="513.3" r="1.75"/><circle cx="345.2" cy="517.8" r="1.75"/><circle cx="237.9" cy="520.2" r="1.75"/><circle cx="243.5" cy="513.0" r="1.75"/><circle cx="235.6" cy="515.4" r="1.75"/><circle cx="331.6" cy="519.0" r="1.75"/><circle cx="248.9" cy="517.6" r="1.75"/><circle cx="238.4" cy="516.5" r="1.75"/><circle cx="264.9" cy="514.6" r="1.75"/><circle cx="228.8" cy="517.8" r="1.75"/><circle cx="241.5" cy="518.1" r="1.75"/><circle cx="280.3" cy="516.6" r="1.75"/><circle cx="335.1" cy="515.8" r="1.75"/><circle cx="377.6" cy="519.5" r="1.75"/><circle cx="270.4" cy="514.4" r="1.75"/><circle cx="378.2" cy="512.7" r="1.75"/><circle cx="295.4" cy="515.1" r="1.75"/><circle cx="396.2" cy="512.6" r="1.75"/><circle cx="338.0" cy="518.1" r="1.75"/><circle cx="351.3" cy="511.5" r="1.75"/><circle cx="390.3" cy="514.2" r="1.75"/><circle cx="373.9" cy="517.3" r="1.75"/><circle cx="295.6" cy="518.8" r="1.75"/><circle cx="341.8" cy="514.5" r="1.75"/><circle cx="351.9" cy="515.9" r="1.75"/><circle cx="348.2" cy="516.8" r="1.75"/><circle cx="363.5" cy="512.9" r="1.75"/><circle cx="308.9" cy="511.5" r="1.75"/><circle cx="362.6" cy="518.2" r="1.75"/><circle cx="371.0" cy="511.9" r="1.75"/><circle cx="316.3" cy="515.7" r="1.75"/><circle cx="241.0" cy="513.3" r="1.75"/><circle cx="395.9" cy="518.9" r="1.75"/><circle cx="262.5" cy="518.7" r="1.75"/><circle cx="337.3" cy="514.8" r="1.75"/><circle cx="336.1" cy="513.5" r="1.75"/><circle cx="268.9" cy="511.6" r="1.75"/><circle cx="338.3" cy="516.6" r="1.75"/><circle cx="354.0" cy="515.9" r="1.75"/><circle cx="298.1" cy="514.2" r="1.75"/><circle cx="352.5" cy="514.7" r="1.75"/><circle cx="327.4" cy="518.1" r="1.75"/><circle cx="299.8" cy="517.5" r="1.75"/><circle cx="230.5" cy="513.8" r="1.75"/><circle cx="371.6" cy="512.8" r="1.75"/><circle cx="229.6" cy="511.6" r="1.75"/><circle cx="358.1" cy="512.4" r="1.75"/><circle cx="302.3" cy="515.3" r="1.75"/><circle cx="364.8" cy="515.6" r="1.75"/><circle cx="313.8" cy="511.7" r="1.75"/><circle cx="363.4" cy="518.2" r="1.75"/><circle cx="332.3" cy="518.8" r="1.75"/><circle cx="330.6" cy="517.7" r="1.75"/><circle cx="373.5" cy="516.9" r="1.75"/><circle cx="223.0" cy="519.2" r="1.75"/><circle cx="398.6" cy="513.3" r="1.75"/><circle cx="231.3" cy="514.5" r="1.75"/><circle cx="237.4" cy="514.7" r="1.75"/><circle cx="235.5" cy="513.4" r="1.75"/><circle cx="219.9" cy="515.2" r="1.75"/><circle cx="273.7" cy="517.8" r="1.75"/><circle cx="289.7" cy="512.9" r="1.75"/><circle cx="392.1" cy="519.3" r="1.75"/><circle cx="344.2" cy="513.4" r="1.75"/><circle cx="292.3" cy="515.4" r="1.75"/><circle cx="293.4" cy="511.7" r="1.75"/><circle cx="301.9" cy="518.2" r="1.75"/><circle cx="345.0" cy="519.0" r="1.75"/><circle cx="343.0" cy="518.1" r="1.75"/><circle cx="377.1" cy="519.5" r="1.75"/><circle cx="363.0" cy="515.1" r="1.75"/><circle cx="338.8" cy="517.2" r="1.75"/><circle cx="379.2" cy="517.7" r="1.75"/><circle cx="299.6" cy="513.2" r="1.75"/><circle cx="278.6" cy="513.7" r="1.75"/><circle cx="342.9" cy="518.2" r="1.75"/><circle cx="254.1" cy="516.1" r="1.75"/><circle cx="371.6" cy="514.7" r="1.75"/><circle cx="236.5" cy="516.8" r="1.75"/><circle cx="285.0" cy="512.8" r="1.75"/><circle cx="271.5" cy="511.6" r="1.75"/><circle cx="246.3" cy="515.2" r="1.75"/><circle cx="238.3" cy="511.6" r="1.75"/><circle cx="319.0" cy="519.8" r="1.75"/><circle cx="370.4" cy="514.3" r="1.75"/><circle cx="386.8" cy="512.2" r="1.75"/><circle cx="246.6" cy="511.6" r="1.75"/><circle cx="229.9" cy="516.7" r="1.75"/><circle cx="356.5" cy="515.7" r="1.75"/><circle cx="364.9" cy="515.4" r="1.75"/><circle cx="385.8" cy="516.8" r="1.75"/><circle cx="316.6" cy="513.0" r="1.75"/><circle cx="296.6" cy="515.3" r="1.75"/><circle cx="368.4" cy="513.5" r="1.75"/><circle cx="272.7" cy="518.6" r="1.75"/><circle cx="232.1" cy="516.2" r="1.75"/><circle cx="259.1" cy="517.3" r="1.75"/><circle cx="327.0" cy="512.3" r="1.75"/><circle cx="351.6" cy="515.0" r="1.75"/><circle cx="277.4" cy="519.0" r="1.75"/><circle cx="360.4" cy="514.2" r="1.75"/><circle cx="342.1" cy="512.6" r="1.75"/><circle cx="313.3" cy="512.2" r="1.75"/><circle cx="335.4" cy="519.5" r="1.75"/><circle cx="334.6" cy="511.9" r="1.75"/><circle cx="312.3" cy="515.6" r="1.75"/><circle cx="299.6" cy="512.8" r="1.75"/><circle cx="269.7" cy="515.4" r="1.75"/><circle cx="232.2" cy="517.4" r="1.75"/><circle cx="263.4" cy="514.0" r="1.75"/><circle cx="235.8" cy="514.1" r="1.75"/><circle cx="388.0" cy="514.0" r="1.75"/><circle cx="236.7" cy="514.5" r="1.75"/><circle cx="390.5" cy="512.3" r="1.75"/><circle cx="281.4" cy="513.3" r="1.75"/><circle cx="342.8" cy="515.5" r="1.75"/><circle cx="237.1" cy="519.0" r="1.75"/><circle cx="278.8" cy="517.5" r="1.75"/><circle cx="228.7" cy="508.0" r="1.75"/><circle cx="230.8" cy="508.3" r="1.75"/><circle cx="233.1" cy="508.1" r="1.75"/><circle cx="221.2" cy="497.7" r="1.75"/><circle cx="227.8" cy="488.7" r="1.75"/><circle cx="238.6" cy="486.5" r="1.75"/><circle cx="231.8" cy="499.9" r="1.75"/><circle cx="234.0" cy="500.1" r="1.75"/><circle cx="236.5" cy="499.7" r="1.75"/><circle cx="239.4" cy="499.9" r="1.75"/><circle cx="239.9" cy="500.0" r="1.75"/><circle cx="224.1" cy="495.8" r="1.75"/><circle cx="226.4" cy="495.4" r="1.75"/><circle cx="228.4" cy="495.5" r="1.75"/><circle cx="229.6" cy="495.4" r="1.75"/><circle cx="239.9" cy="507.4" r="1.75"/><circle cx="238.8" cy="510.1" r="1.75"/><circle cx="237.0" cy="511.5" r="1.75"/><circle cx="239.6" cy="511.4" r="1.75"/><circle cx="225.8" cy="488.5" r="1.75"/><circle cx="227.8" cy="488.4" r="1.75"/><circle cx="230.1" cy="488.7" r="1.75"/><circle cx="233.3" cy="488.7" r="1.75"/><circle cx="233.1" cy="488.4" r="1.75"/><circle cx="230.8" cy="486.1" r="1.75"/><circle cx="232.6" cy="485.9" r="1.75"/><circle cx="234.8" cy="485.9" r="1.75"/><circle cx="236.3" cy="485.7" r="1.75"/><circle cx="239.8" cy="505.8" r="1.75"/><circle cx="221.5" cy="503.1" r="1.75"/><circle cx="224.1" cy="503.0" r="1.75"/><circle cx="238.4" cy="493.0" r="1.75"/><circle cx="222.9" cy="503.7" r="1.75"/><circle cx="219.5" cy="491.8" r="1.75"/><circle cx="236.9" cy="504.0" r="1.75"/><circle cx="238.2" cy="499.0" r="1.75"/><circle cx="231.2" cy="490.9" r="1.75"/><circle cx="233.6" cy="491.4" r="1.75"/><circle cx="235.3" cy="491.0" r="1.75"/><circle cx="238.0" cy="490.8" r="1.75"/><circle cx="233.7" cy="483.1" r="1.75"/><circle cx="230.1" cy="493.3" r="1.75"/><circle cx="232.1" cy="493.0" r="1.75"/><circle cx="233.7" cy="493.2" r="1.75"/><circle cx="224.0" cy="483.1" r="1.75"/><circle cx="226.3" cy="483.0" r="1.75"/><circle cx="229.0" cy="482.9" r="1.75"/><circle cx="235.0" cy="487.9" r="1.75"/><circle cx="232.0" cy="507.1" r="1.75"/><circle cx="223.9" cy="495.5" r="1.75"/><circle cx="226.1" cy="495.7" r="1.75"/><circle cx="227.6" cy="495.8" r="1.75"/><circle cx="230.1" cy="495.6" r="1.75"/><circle cx="230.1" cy="507.3" r="1.75"/><circle cx="232.2" cy="507.0" r="1.75"/><circle cx="234.5" cy="507.2" r="1.75"/><circle cx="254.2" cy="485.1" r="1.75"/><circle cx="252.3" cy="486.8" r="1.75"/><circle cx="254.6" cy="486.8" r="1.75"/><circle cx="255.8" cy="489.5" r="1.75"/><circle cx="246.0" cy="500.4" r="1.75"/><circle cx="247.9" cy="500.6" r="1.75"/><circle cx="259.7" cy="494.9" r="1.75"/><circle cx="261.8" cy="494.9" r="1.75"/><circle cx="260.7" cy="482.9" r="1.75"/><circle cx="248.8" cy="499.5" r="1.75"/><circle cx="250.8" cy="499.5" r="1.75"/><circle cx="253.3" cy="499.5" r="1.75"/><circle cx="256.4" cy="499.5" r="1.75"/><circle cx="255.6" cy="503.0" r="1.75"/><circle cx="257.7" cy="502.7" r="1.75"/><circle cx="258.7" cy="486.4" r="1.75"/><circle cx="250.6" cy="496.1" r="1.75"/><circle cx="245.2" cy="488.3" r="1.75"/><circle cx="244.8" cy="485.5" r="1.75"/><circle cx="247.3" cy="485.7" r="1.75"/><circle cx="248.7" cy="485.5" r="1.75"/><circle cx="251.7" cy="485.6" r="1.75"/><circle cx="255.1" cy="485.7" r="1.75"/><circle cx="258.2" cy="483.0" r="1.75"/><circle cx="260.1" cy="510.1" r="1.75"/><circle cx="247.3" cy="504.7" r="1.75"/><circle cx="254.7" cy="500.6" r="1.75"/><circle cx="255.7" cy="510.9" r="1.75"/><circle cx="250.9" cy="501.2" r="1.75"/><circle cx="241.1" cy="510.4" r="1.75"/><circle cx="243.3" cy="510.4" r="1.75"/><circle cx="246.2" cy="510.4" r="1.75"/><circle cx="248.1" cy="510.5" r="1.75"/><circle cx="248.5" cy="510.5" r="1.75"/><circle cx="260.3" cy="488.2" r="1.75"/><circle cx="244.8" cy="494.3" r="1.75"/><circle cx="246.7" cy="494.7" r="1.75"/><circle cx="249.6" cy="494.7" r="1.75"/><circle cx="242.3" cy="498.3" r="1.75"/><circle cx="244.8" cy="498.0" r="1.75"/><circle cx="246.4" cy="498.0" r="1.75"/><circle cx="249.9" cy="498.0" r="1.75"/><circle cx="247.2" cy="486.7" r="1.75"/><circle cx="254.3" cy="493.0" r="1.75"/><circle cx="256.1" cy="492.7" r="1.75"/><circle cx="258.7" cy="493.0" r="1.75"/><circle cx="261.9" cy="492.6" r="1.75"/><circle cx="252.2" cy="490.1" r="1.75"/><circle cx="254.4" cy="490.5" r="1.75"/><circle cx="257.4" cy="490.1" r="1.75"/><circle cx="258.8" cy="490.1" r="1.75"/><circle cx="242.4" cy="499.0" r="1.75"/><circle cx="251.2" cy="492.9" r="1.75"/><circle cx="253.1" cy="492.7" r="1.75"/><circle cx="255.0" cy="492.9" r="1.75"/><circle cx="256.6" cy="493.1" r="1.75"/><circle cx="259.4" cy="492.8" r="1.75"/><circle cx="246.9" cy="495.9" r="1.75"/><circle cx="248.8" cy="496.4" r="1.75"/><circle cx="251.4" cy="496.1" r="1.75"/><circle cx="254.0" cy="495.9" r="1.75"/><circle cx="256.9" cy="496.4" r="1.75"/><circle cx="254.6" cy="482.6" r="1.75"/><circle cx="258.4" cy="499.4" r="1.75"/><circle cx="260.6" cy="499.1" r="1.75"/><circle cx="261.3" cy="500.9" r="1.75"/><circle cx="259.0" cy="494.9" r="1.75"/><circle cx="261.0" cy="495.0" r="1.75"/><circle cx="260.3" cy="506.8" r="1.75"/><circle cx="256.0" cy="483.4" r="1.75"/><circle cx="257.8" cy="483.2" r="1.75"/><circle cx="260.1" cy="483.1" r="1.75"/><circle cx="261.9" cy="483.3" r="1.75"/><circle cx="248.2" cy="489.2" r="1.75"/><circle cx="260.8" cy="499.4" r="1.75"/><circle cx="260.5" cy="482.0" r="1.75"/><circle cx="242.1" cy="487.0" r="1.75"/><circle cx="256.6" cy="499.9" r="1.75"/><circle cx="255.9" cy="494.2" r="1.75"/><circle cx="258.0" cy="494.1" r="1.75"/><circle cx="259.9" cy="494.0" r="1.75"/><circle cx="247.3" cy="507.1" r="1.75"/><circle cx="249.9" cy="506.6" r="1.75"/><circle cx="251.6" cy="506.7" r="1.75"/><circle cx="254.2" cy="506.8" r="1.75"/><circle cx="268.9" cy="489.6" r="1.75"/><circle cx="273.6" cy="495.5" r="1.75"/><circle cx="272.9" cy="510.1" r="1.75"/><circle cx="280.2" cy="509.6" r="1.75"/><circle cx="275.6" cy="505.1" r="1.75"/><circle cx="266.5" cy="493.3" r="1.75"/><circle cx="268.8" cy="493.4" r="1.75"/><circle cx="281.5" cy="507.5" r="1.75"/><circle cx="283.7" cy="501.8" r="1.75"/><circle cx="264.6" cy="496.7" r="1.75"/><circle cx="279.3" cy="502.0" r="1.75"/><circle cx="269.3" cy="502.0" r="1.75"/><circle cx="271.8" cy="502.1" r="1.75"/><circle cx="273.9" cy="502.4" r="1.75"/><circle cx="275.5" cy="502.1" r="1.75"/><circle cx="277.6" cy="502.5" r="1.75"/><circle cx="277.1" cy="495.0" r="1.75"/><circle cx="277.1" cy="488.1" r="1.75"/><circle cx="279.2" cy="488.4" r="1.75"/><circle cx="264.5" cy="491.5" r="1.75"/><circle cx="266.5" cy="491.5" r="1.75"/><circle cx="268.5" cy="491.6" r="1.75"/><circle cx="272.2" cy="491.6" r="1.75"/><circle cx="273.7" cy="491.3" r="1.75"/><circle cx="283.8" cy="502.6" r="1.75"/><circle cx="282.8" cy="482.1" r="1.75"/><circle cx="284.7" cy="482.3" r="1.75"/><circle cx="277.4" cy="502.2" r="1.75"/><circle cx="279.3" cy="502.2" r="1.75"/><circle cx="277.3" cy="498.5" r="1.75"/><circle cx="273.6" cy="495.9" r="1.75"/><circle cx="276.1" cy="495.9" r="1.75"/><circle cx="278.0" cy="495.9" r="1.75"/><circle cx="276.4" cy="492.7" r="1.75"/><circle cx="278.4" cy="492.9" r="1.75"/><circle cx="277.8" cy="500.9" r="1.75"/><circle cx="280.8" cy="490.4" r="1.75"/><circle cx="279.3" cy="501.6" r="1.75"/><circle cx="282.5" cy="480.8" r="1.75"/><circle cx="281.7" cy="507.9" r="1.75"/><circle cx="284.1" cy="508.0" r="1.75"/><circle cx="269.8" cy="492.6" r="1.75"/><circle cx="271.7" cy="492.2" r="1.75"/><circle cx="283.8" cy="495.9" r="1.75"/><circle cx="269.9" cy="487.7" r="1.75"/><circle cx="284.6" cy="486.1" r="1.75"/><circle cx="282.3" cy="501.7" r="1.75"/><circle cx="284.3" cy="501.7" r="1.75"/><circle cx="275.6" cy="484.5" r="1.75"/><circle cx="277.7" cy="484.6" r="1.75"/><circle cx="280.0" cy="484.5" r="1.75"/><circle cx="274.9" cy="501.5" r="1.75"/><circle cx="277.2" cy="501.5" r="1.75"/><circle cx="280.9" cy="482.9" r="1.75"/><circle cx="283.1" cy="482.8" r="1.75"/><circle cx="267.4" cy="491.2" r="1.75"/><circle cx="269.5" cy="491.1" r="1.75"/><circle cx="283.5" cy="494.5" r="1.75"/><circle cx="278.8" cy="492.3" r="1.75"/><circle cx="277.7" cy="488.7" r="1.75"/><circle cx="266.7" cy="487.0" r="1.75"/><circle cx="271.8" cy="508.5" r="1.75"/><circle cx="274.2" cy="508.3" r="1.75"/><circle cx="275.8" cy="508.5" r="1.75"/><circle cx="278.5" cy="508.5" r="1.75"/><circle cx="270.6" cy="504.3" r="1.75"/><circle cx="273.3" cy="505.8" r="1.75"/><circle cx="275.8" cy="505.9" r="1.75"/><circle cx="278.4" cy="505.4" r="1.75"/><circle cx="279.0" cy="505.8" r="1.75"/><circle cx="270.3" cy="481.8" r="1.75"/><circle cx="281.5" cy="511.2" r="1.75"/><circle cx="281.9" cy="504.7" r="1.75"/><circle cx="284.3" cy="504.7" r="1.75"/><circle cx="278.3" cy="493.5" r="1.75"/><circle cx="280.2" cy="493.9" r="1.75"/><circle cx="283.0" cy="493.8" r="1.75"/><circle cx="269.4" cy="496.2" r="1.75"/><circle cx="264.8" cy="490.9" r="1.75"/><circle cx="278.2" cy="492.4" r="1.75"/><circle cx="263.8" cy="502.9" r="1.75"/><circle cx="275.5" cy="506.5" r="1.75"/><circle cx="277.3" cy="506.0" r="1.75"/><circle cx="279.6" cy="506.4" r="1.75"/><circle cx="282.2" cy="506.1" r="1.75"/><circle cx="283.0" cy="506.1" r="1.75"/><circle cx="264.9" cy="484.6" r="1.75"/><circle cx="266.4" cy="485.3" r="1.75"/><circle cx="265.0" cy="506.5" r="1.75"/><circle cx="282.2" cy="503.1" r="1.75"/><circle cx="268.2" cy="493.4" r="1.75"/><circle cx="271.0" cy="509.0" r="1.75"/><circle cx="280.4" cy="500.0" r="1.75"/><circle cx="282.8" cy="500.1" r="1.75"/><circle cx="284.4" cy="499.9" r="1.75"/><circle cx="270.1" cy="506.3" r="1.75"/><circle cx="291.1" cy="502.8" r="1.75"/><circle cx="292.9" cy="502.9" r="1.75"/><circle cx="296.1" cy="503.1" r="1.75"/><circle cx="297.9" cy="502.8" r="1.75"/><circle cx="310.2" cy="498.5" r="1.75"/><circle cx="312.4" cy="498.5" r="1.75"/><circle cx="314.3" cy="498.6" r="1.75"/><circle cx="317.8" cy="498.7" r="1.75"/><circle cx="317.4" cy="498.6" r="1.75"/><circle cx="289.5" cy="504.9" r="1.75"/><circle cx="292.0" cy="505.0" r="1.75"/><circle cx="294.1" cy="505.0" r="1.75"/><circle cx="297.1" cy="505.3" r="1.75"/><circle cx="293.0" cy="494.9" r="1.75"/><circle cx="317.2" cy="511.2" r="1.75"/><circle cx="308.7" cy="507.6" r="1.75"/><circle cx="310.7" cy="508.1" r="1.75"/><circle cx="313.7" cy="508.2" r="1.75"/><circle cx="315.6" cy="508.2" r="1.75"/><circle cx="312.7" cy="505.4" r="1.75"/><circle cx="315.2" cy="505.3" r="1.75"/><circle cx="317.0" cy="505.1" r="1.75"/><circle cx="318.5" cy="505.2" r="1.75"/><circle cx="322.4" cy="505.0" r="1.75"/><circle cx="323.1" cy="509.4" r="1.75"/><circle cx="325.1" cy="509.9" r="1.75"/><circle cx="327.9" cy="509.9" r="1.75"/><circle cx="328.9" cy="509.4" r="1.75"/><circle cx="315.7" cy="495.0" r="1.75"/><circle cx="295.5" cy="504.9" r="1.75"/><circle cx="317.7" cy="495.1" r="1.75"/><circle cx="302.8" cy="496.4" r="1.75"/><circle cx="305.2" cy="495.9" r="1.75"/><circle cx="307.8" cy="496.0" r="1.75"/><circle cx="310.4" cy="496.2" r="1.75"/><circle cx="311.9" cy="496.1" r="1.75"/><circle cx="309.8" cy="489.3" r="1.75"/><circle cx="311.9" cy="488.9" r="1.75"/><circle cx="314.7" cy="489.1" r="1.75"/><circle cx="315.8" cy="489.3" r="1.75"/><circle cx="318.6" cy="489.2" r="1.75"/><circle cx="329.3" cy="492.1" r="1.75"/><circle cx="309.6" cy="490.9" r="1.75"/><circle cx="328.5" cy="502.7" r="1.75"/><circle cx="315.0" cy="499.4" r="1.75"/><circle cx="324.5" cy="483.2" r="1.75"/><circle cx="326.7" cy="482.7" r="1.75"/><circle cx="329.5" cy="483.1" r="1.75"/><circle cx="296.0" cy="491.5" r="1.75"/><circle cx="290.9" cy="488.7" r="1.75"/><circle cx="290.4" cy="486.7" r="1.75"/><circle cx="298.5" cy="509.3" r="1.75"/><circle cx="315.2" cy="490.6" r="1.75"/><circle cx="300.2" cy="508.0" r="1.75"/><circle cx="316.1" cy="504.5" r="1.75"/><circle cx="318.9" cy="492.8" r="1.75"/><circle cx="320.8" cy="492.8" r="1.75"/><circle cx="323.9" cy="492.3" r="1.75"/><circle cx="324.3" cy="492.6" r="1.75"/><circle cx="288.7" cy="483.7" r="1.75"/><circle cx="304.6" cy="498.5" r="1.75"/><circle cx="307.0" cy="498.1" r="1.75"/><circle cx="309.6" cy="498.0" r="1.75"/><circle cx="310.9" cy="498.4" r="1.75"/><circle cx="300.6" cy="482.8" r="1.75"/><circle cx="303.0" cy="483.3" r="1.75"/><circle cx="298.6" cy="493.8" r="1.75"/><circle cx="298.2" cy="495.5" r="1.75"/><circle cx="290.8" cy="510.1" r="1.75"/><circle cx="329.9" cy="489.5" r="1.75"/><circle cx="311.8" cy="499.4" r="1.75"/><circle cx="307.7" cy="503.0" r="1.75"/><circle cx="309.9" cy="503.0" r="1.75"/><circle cx="312.1" cy="502.7" r="1.75"/><circle cx="299.6" cy="509.6" r="1.75"/><circle cx="286.4" cy="501.3" r="1.75"/><circle cx="313.2" cy="496.9" r="1.75"/><circle cx="313.4" cy="500.5" r="1.75"/><circle cx="325.7" cy="508.5" r="1.75"/><circle cx="317.6" cy="503.8" r="1.75"/><circle cx="319.6" cy="503.7" r="1.75"/><circle cx="321.6" cy="503.5" r="1.75"/><circle cx="323.5" cy="503.5" r="1.75"/><circle cx="326.0" cy="503.3" r="1.75"/><circle cx="292.3" cy="500.9" r="1.75"/><circle cx="302.8" cy="494.6" r="1.75"/><circle cx="305.2" cy="494.9" r="1.75"/><circle cx="291.4" cy="500.1" r="1.75"/><circle cx="294.6" cy="508.9" r="1.75"/><circle cx="297.0" cy="508.9" r="1.75"/><circle cx="298.5" cy="508.9" r="1.75"/><circle cx="301.4" cy="508.6" r="1.75"/><circle cx="302.7" cy="509.1" r="1.75"/><circle cx="298.8" cy="495.4" r="1.75"/><circle cx="300.7" cy="495.3" r="1.75"/><circle cx="303.0" cy="495.2" r="1.75"/><circle cx="304.9" cy="495.0" r="1.75"/><circle cx="304.6" cy="489.2" r="1.75"/><circle cx="306.4" cy="489.6" r="1.75"/><circle cx="308.8" cy="489.3" r="1.75"/><circle cx="310.7" cy="489.2" r="1.75"/><circle cx="313.1" cy="492.5" r="1.75"/><circle cx="314.2" cy="483.4" r="1.75"/><circle cx="322.3" cy="503.8" r="1.75"/><circle cx="300.9" cy="500.4" r="1.75"/><circle cx="309.7" cy="506.2" r="1.75"/><circle cx="292.0" cy="494.9" r="1.75"/><circle cx="294.2" cy="495.1" r="1.75"/><circle cx="296.3" cy="494.9" r="1.75"/><circle cx="296.7" cy="490.9" r="1.75"/><circle cx="299.2" cy="491.0" r="1.75"/><circle cx="300.6" cy="490.9" r="1.75"/><circle cx="298.6" cy="509.0" r="1.75"/><circle cx="306.3" cy="501.1" r="1.75"/><circle cx="326.4" cy="511.2" r="1.75"/><circle cx="316.1" cy="498.1" r="1.75"/><circle cx="310.0" cy="491.2" r="1.75"/><circle cx="323.4" cy="503.1" r="1.75"/><circle cx="301.6" cy="484.0" r="1.75"/><circle cx="304.2" cy="483.6" r="1.75"/><circle cx="305.5" cy="483.6" r="1.75"/><circle cx="308.9" cy="483.6" r="1.75"/><circle cx="309.9" cy="483.6" r="1.75"/><circle cx="325.9" cy="488.4" r="1.75"/><circle cx="328.2" cy="488.7" r="1.75"/><circle cx="316.5" cy="503.2" r="1.75"/><circle cx="303.8" cy="507.4" r="1.75"/><circle cx="327.1" cy="488.2" r="1.75"/><circle cx="288.4" cy="501.1" r="1.75"/><circle cx="301.7" cy="504.4" r="1.75"/><circle cx="321.7" cy="508.2" r="1.75"/><circle cx="323.9" cy="508.0" r="1.75"/><circle cx="326.3" cy="507.6" r="1.75"/><circle cx="329.4" cy="508.1" r="1.75"/><circle cx="307.8" cy="492.7" r="1.75"/><circle cx="290.0" cy="488.0" r="1.75"/><circle cx="292.3" cy="488.4" r="1.75"/><circle cx="293.5" cy="490.0" r="1.75"/><circle cx="295.9" cy="489.9" r="1.75"/><circle cx="297.4" cy="489.9" r="1.75"/><circle cx="310.6" cy="510.8" r="1.75"/><circle cx="323.0" cy="506.9" r="1.75"/><circle cx="307.8" cy="506.9" r="1.75"/><circle cx="303.0" cy="488.0" r="1.75"/><circle cx="298.2" cy="490.0" r="1.75"/><circle cx="300.0" cy="490.3" r="1.75"/><circle cx="302.7" cy="490.0" r="1.75"/><circle cx="304.9" cy="490.3" r="1.75"/><circle cx="307.4" cy="490.0" r="1.75"/><circle cx="319.8" cy="508.5" r="1.75"/><circle cx="318.0" cy="485.6" r="1.75"/><circle cx="329.6" cy="507.9" r="1.75"/><circle cx="317.5" cy="490.1" r="1.75"/><circle cx="306.5" cy="511.3" r="1.75"/><circle cx="297.8" cy="505.3" r="1.75"/><circle cx="316.4" cy="483.2" r="1.75"/><circle cx="318.8" cy="483.4" r="1.75"/><circle cx="320.5" cy="483.3" r="1.75"/><circle cx="322.0" cy="483.3" r="1.75"/><circle cx="326.3" cy="483.3" r="1.75"/><circle cx="306.0" cy="487.4" r="1.75"/><circle cx="303.8" cy="493.8" r="1.75"/><circle cx="298.4" cy="484.8" r="1.75"/><circle cx="318.2" cy="483.9" r="1.75"/><circle cx="320.3" cy="483.9" r="1.75"/><circle cx="322.0" cy="484.1" r="1.75"/><circle cx="325.9" cy="483.9" r="1.75"/><circle cx="327.9" cy="484.3" r="1.75"/><circle cx="286.6" cy="493.0" r="1.75"/><circle cx="288.5" cy="493.5" r="1.75"/><circle cx="292.5" cy="491.5" r="1.75"/><circle cx="294.5" cy="491.6" r="1.75"/><circle cx="297.3" cy="491.4" r="1.75"/><circle cx="311.5" cy="500.0" r="1.75"/><circle cx="286.8" cy="487.5" r="1.75"/><circle cx="323.6" cy="501.1" r="1.75"/><circle cx="326.0" cy="501.1" r="1.75"/><circle cx="328.8" cy="501.2" r="1.75"/><circle cx="302.3" cy="496.2" r="1.75"/><circle cx="323.8" cy="504.1" r="1.75"/><circle cx="325.8" cy="503.8" r="1.75"/><circle cx="288.1" cy="491.3" r="1.75"/><circle cx="295.3" cy="486.0" r="1.75"/><circle cx="299.0" cy="488.8" r="1.75"/><circle cx="322.9" cy="504.4" r="1.75"/><circle cx="309.6" cy="492.3" r="1.75"/><circle cx="287.6" cy="502.5" r="1.75"/><circle cx="326.2" cy="506.8" r="1.75"/><circle cx="321.2" cy="491.0" r="1.75"/><circle cx="292.3" cy="509.9" r="1.75"/><circle cx="292.9" cy="511.3" r="1.75"/><circle cx="294.6" cy="507.3" r="1.75"/><circle cx="313.0" cy="508.2" r="1.75"/><circle cx="315.1" cy="508.1" r="1.75"/><circle cx="317.0" cy="508.1" r="1.75"/><circle cx="320.4" cy="508.4" r="1.75"/><circle cx="296.8" cy="483.9" r="1.75"/><circle cx="298.9" cy="484.2" r="1.75"/><circle cx="300.8" cy="484.1" r="1.75"/><circle cx="303.6" cy="483.7" r="1.75"/><circle cx="310.5" cy="505.9" r="1.75"/><circle cx="303.8" cy="509.0" r="1.75"/><circle cx="306.0" cy="508.9" r="1.75"/><circle cx="308.8" cy="508.7" r="1.75"/><circle cx="309.7" cy="509.0" r="1.75"/><circle cx="313.8" cy="508.7" r="1.75"/><circle cx="309.6" cy="497.5" r="1.75"/><circle cx="311.7" cy="497.2" r="1.75"/><circle cx="328.3" cy="486.9" r="1.75"/><circle cx="317.1" cy="490.7" r="1.75"/><circle cx="318.9" cy="490.7" r="1.75"/><circle cx="327.9" cy="495.8" r="1.75"/><circle cx="324.5" cy="510.2" r="1.75"/><circle cx="288.7" cy="497.1" r="1.75"/><circle cx="291.0" cy="496.8" r="1.75"/><circle cx="298.2" cy="499.7" r="1.75"/><circle cx="310.1" cy="505.3" r="1.75"/><circle cx="300.2" cy="507.2" r="1.75"/><circle cx="295.3" cy="496.1" r="1.75"/><circle cx="306.7" cy="482.9" r="1.75"/><circle cx="311.5" cy="483.7" r="1.75"/><circle cx="311.7" cy="508.3" r="1.75"/><circle cx="323.8" cy="511.1" r="1.75"/><circle cx="313.5" cy="506.9" r="1.75"/><circle cx="315.6" cy="506.5" r="1.75"/><circle cx="324.1" cy="506.5" r="1.75"/><circle cx="316.4" cy="504.5" r="1.75"/><circle cx="293.5" cy="503.9" r="1.75"/><circle cx="320.5" cy="497.8" r="1.75"/><circle cx="329.1" cy="511.6" r="1.75"/><circle cx="307.8" cy="508.7" r="1.75"/><circle cx="307.7" cy="486.4" r="1.75"/><circle cx="291.1" cy="492.3" r="1.75"/><circle cx="307.6" cy="501.4" r="1.75"/><circle cx="327.7" cy="491.6" r="1.75"/><circle cx="299.5" cy="492.7" r="1.75"/><circle cx="328.9" cy="497.4" r="1.75"/><circle cx="322.2" cy="491.7" r="1.75"/><circle cx="327.2" cy="483.0" r="1.75"/><circle cx="329.7" cy="483.1" r="1.75"/><circle cx="291.3" cy="492.8" r="1.75"/><circle cx="313.9" cy="496.9" r="1.75"/><circle cx="316.3" cy="497.3" r="1.75"/><circle cx="316.0" cy="493.7" r="1.75"/><circle cx="315.1" cy="499.4" r="1.75"/><circle cx="309.9" cy="498.5" r="1.75"/><circle cx="312.0" cy="498.2" r="1.75"/><circle cx="318.3" cy="482.5" r="1.75"/><circle cx="320.1" cy="482.9" r="1.75"/><circle cx="322.3" cy="482.8" r="1.75"/><circle cx="325.3" cy="482.9" r="1.75"/><circle cx="327.0" cy="482.6" r="1.75"/><circle cx="319.1" cy="484.5" r="1.75"/><circle cx="326.8" cy="501.6" r="1.75"/><circle cx="328.9" cy="501.4" r="1.75"/><circle cx="293.4" cy="510.9" r="1.75"/><circle cx="314.6" cy="500.4" r="1.75"/><circle cx="305.5" cy="494.5" r="1.75"/><circle cx="289.5" cy="484.3" r="1.75"/><circle cx="361.5" cy="504.0" r="1.75"/><circle cx="369.6" cy="486.3" r="1.75"/><circle cx="371.7" cy="486.4" r="1.75"/><circle cx="331.7" cy="509.5" r="1.75"/><circle cx="341.6" cy="496.1" r="1.75"/><circle cx="344.1" cy="496.0" r="1.75"/><circle cx="346.5" cy="496.3" r="1.75"/><circle cx="349.2" cy="496.0" r="1.75"/><circle cx="350.4" cy="495.8" r="1.75"/><circle cx="372.8" cy="485.5" r="1.75"/><circle cx="357.1" cy="488.0" r="1.75"/><circle cx="343.5" cy="483.3" r="1.75"/><circle cx="347.2" cy="503.7" r="1.75"/><circle cx="372.7" cy="508.3" r="1.75"/><circle cx="374.6" cy="508.0" r="1.75"/><circle cx="344.2" cy="509.4" r="1.75"/><circle cx="361.8" cy="485.0" r="1.75"/><circle cx="373.8" cy="510.5" r="1.75"/><circle cx="374.5" cy="483.9" r="1.75"/><circle cx="359.7" cy="496.5" r="1.75"/><circle cx="362.2" cy="496.8" r="1.75"/><circle cx="337.5" cy="500.9" r="1.75"/><circle cx="372.2" cy="511.3" r="1.75"/><circle cx="332.4" cy="495.3" r="1.75"/><circle cx="334.7" cy="495.2" r="1.75"/><circle cx="337.6" cy="495.4" r="1.75"/><circle cx="339.6" cy="495.2" r="1.75"/><circle cx="354.6" cy="497.7" r="1.75"/><circle cx="356.5" cy="497.9" r="1.75"/><circle cx="358.6" cy="497.6" r="1.75"/><circle cx="366.2" cy="503.4" r="1.75"/><circle cx="371.5" cy="497.5" r="1.75"/><circle cx="331.5" cy="497.0" r="1.75"/><circle cx="332.6" cy="510.5" r="1.75"/><circle cx="334.6" cy="510.4" r="1.75"/><circle cx="337.8" cy="510.7" r="1.75"/><circle cx="335.5" cy="486.4" r="1.75"/><circle cx="350.0" cy="501.4" r="1.75"/><circle cx="357.2" cy="509.2" r="1.75"/><circle cx="359.1" cy="509.1" r="1.75"/><circle cx="362.0" cy="509.1" r="1.75"/><circle cx="364.2" cy="508.9" r="1.75"/><circle cx="366.4" cy="490.7" r="1.75"/><circle cx="335.3" cy="495.0" r="1.75"/><circle cx="362.2" cy="491.1" r="1.75"/><circle cx="356.2" cy="503.5" r="1.75"/><circle cx="358.2" cy="503.9" r="1.75"/><circle cx="354.0" cy="506.2" r="1.75"/><circle cx="356.0" cy="506.2" r="1.75"/><circle cx="357.9" cy="506.2" r="1.75"/><circle cx="373.9" cy="493.4" r="1.75"/><circle cx="349.0" cy="498.0" r="1.75"/><circle cx="351.4" cy="497.9" r="1.75"/><circle cx="352.8" cy="498.0" r="1.75"/><circle cx="356.0" cy="497.8" r="1.75"/><circle cx="355.5" cy="495.8" r="1.75"/><circle cx="374.1" cy="510.7" r="1.75"/><circle cx="349.7" cy="489.9" r="1.75"/><circle cx="347.1" cy="511.2" r="1.75"/><circle cx="349.1" cy="511.0" r="1.75"/><circle cx="350.7" cy="511.2" r="1.75"/><circle cx="352.8" cy="511.1" r="1.75"/><circle cx="344.5" cy="486.9" r="1.75"/><circle cx="346.3" cy="486.8" r="1.75"/><circle cx="348.7" cy="486.7" r="1.75"/><circle cx="351.9" cy="487.1" r="1.75"/><circle cx="353.8" cy="500.1" r="1.75"/><circle cx="339.9" cy="497.9" r="1.75"/><circle cx="363.7" cy="508.4" r="1.75"/><circle cx="365.7" cy="508.6" r="1.75"/><circle cx="368.0" cy="508.4" r="1.75"/><circle cx="370.1" cy="508.5" r="1.75"/><circle cx="361.6" cy="485.8" r="1.75"/><circle cx="367.7" cy="511.8" r="1.75"/><circle cx="367.1" cy="498.7" r="1.75"/><circle cx="352.8" cy="500.0" r="1.75"/><circle cx="340.1" cy="500.5" r="1.75"/><circle cx="363.3" cy="487.9" r="1.75"/><circle cx="361.9" cy="485.8" r="1.75"/><circle cx="360.6" cy="483.6" r="1.75"/><circle cx="346.3" cy="486.8" r="1.75"/><circle cx="344.1" cy="505.4" r="1.75"/><circle cx="358.2" cy="500.1" r="1.75"/><circle cx="360.1" cy="500.0" r="1.75"/><circle cx="354.1" cy="487.2" r="1.75"/><circle cx="339.0" cy="502.4" r="1.75"/><circle cx="341.2" cy="502.3" r="1.75"/><circle cx="342.7" cy="502.6" r="1.75"/><circle cx="346.1" cy="498.7" r="1.75"/><circle cx="369.5" cy="509.5" r="1.75"/><circle cx="372.6" cy="483.8" r="1.75"/><circle cx="330.1" cy="509.1" r="1.75"/><circle cx="332.5" cy="509.3" r="1.75"/><circle cx="334.4" cy="508.9" r="1.75"/><circle cx="337.0" cy="509.2" r="1.75"/><circle cx="338.9" cy="509.4" r="1.75"/><circle cx="346.5" cy="498.1" r="1.75"/><circle cx="348.9" cy="497.9" r="1.75"/><circle cx="350.4" cy="498.4" r="1.75"/><circle cx="333.6" cy="485.9" r="1.75"/><circle cx="335.7" cy="485.5" r="1.75"/><circle cx="330.0" cy="484.0" r="1.75"/><circle cx="331.4" cy="495.9" r="1.75"/><circle cx="346.7" cy="491.6" r="1.75"/><circle cx="372.9" cy="504.7" r="1.75"/><circle cx="372.8" cy="503.0" r="1.75"/><circle cx="360.3" cy="497.4" r="1.75"/><circle cx="362.3" cy="486.0" r="1.75"/><circle cx="352.3" cy="484.0" r="1.75"/><circle cx="354.6" cy="484.2" r="1.75"/><circle cx="340.5" cy="498.7" r="1.75"/><circle cx="342.4" cy="498.3" r="1.75"/><circle cx="344.8" cy="498.8" r="1.75"/><circle cx="347.4" cy="498.4" r="1.75"/><circle cx="352.8" cy="492.5" r="1.75"/><circle cx="343.0" cy="487.8" r="1.75"/><circle cx="331.7" cy="486.9" r="1.75"/><circle cx="334.0" cy="486.9" r="1.75"/><circle cx="336.2" cy="486.9" r="1.75"/><circle cx="338.9" cy="486.9" r="1.75"/><circle cx="344.6" cy="487.7" r="1.75"/><circle cx="346.5" cy="488.1" r="1.75"/><circle cx="348.4" cy="488.1" r="1.75"/><circle cx="370.9" cy="505.9" r="1.75"/><circle cx="355.5" cy="489.1" r="1.75"/><circle cx="342.3" cy="510.3" r="1.75"/><circle cx="357.2" cy="499.3" r="1.75"/><circle cx="359.7" cy="499.3" r="1.75"/><circle cx="361.4" cy="499.6" r="1.75"/><circle cx="364.8" cy="499.2" r="1.75"/><circle cx="366.2" cy="499.5" r="1.75"/><circle cx="335.7" cy="486.0" r="1.75"/><circle cx="338.2" cy="485.9" r="1.75"/><circle cx="339.4" cy="485.8" r="1.75"/><circle cx="341.4" cy="486.2" r="1.75"/><circle cx="340.2" cy="506.4" r="1.75"/><circle cx="361.4" cy="483.9" r="1.75"/><circle cx="363.7" cy="484.1" r="1.75"/><circle cx="363.0" cy="496.2" r="1.75"/><circle cx="372.6" cy="485.3" r="1.75"/><circle cx="337.5" cy="508.3" r="1.75"/><circle cx="365.1" cy="492.8" r="1.75"/><circle cx="367.0" cy="493.1" r="1.75"/><circle cx="369.1" cy="492.7" r="1.75"/><circle cx="346.7" cy="495.6" r="1.75"/><circle cx="352.2" cy="498.4" r="1.75"/><circle cx="354.2" cy="498.7" r="1.75"/><circle cx="356.0" cy="498.8" r="1.75"/><circle cx="359.4" cy="498.7" r="1.75"/><circle cx="365.0" cy="487.0" r="1.75"/><circle cx="354.2" cy="494.0" r="1.75"/><circle cx="350.6" cy="484.2" r="1.75"/><circle cx="331.6" cy="499.5" r="1.75"/><circle cx="333.9" cy="499.1" r="1.75"/><circle cx="335.3" cy="499.5" r="1.75"/><circle cx="338.0" cy="499.3" r="1.75"/><circle cx="339.5" cy="499.4" r="1.75"/><circle cx="340.5" cy="501.7" r="1.75"/><circle cx="342.6" cy="501.9" r="1.75"/><circle cx="344.5" cy="501.4" r="1.75"/><circle cx="346.8" cy="501.3" r="1.75"/><circle cx="349.5" cy="501.6" r="1.75"/><circle cx="338.5" cy="500.6" r="1.75"/><circle cx="361.5" cy="505.8" r="1.75"/><circle cx="360.8" cy="485.9" r="1.75"/><circle cx="360.0" cy="488.6" r="1.75"/><circle cx="353.4" cy="490.9" r="1.75"/><circle cx="355.4" cy="490.7" r="1.75"/><circle cx="357.7" cy="491.0" r="1.75"/><circle cx="360.5" cy="490.7" r="1.75"/><circle cx="372.1" cy="485.9" r="1.75"/><circle cx="373.9" cy="486.1" r="1.75"/><circle cx="350.6" cy="489.4" r="1.75"/><circle cx="372.9" cy="494.9" r="1.75"/><circle cx="342.9" cy="503.2" r="1.75"/><circle cx="368.1" cy="483.5" r="1.75"/><circle cx="373.6" cy="483.7" r="1.75"/><circle cx="346.9" cy="486.4" r="1.75"/><circle cx="348.8" cy="486.6" r="1.75"/><circle cx="350.7" cy="486.2" r="1.75"/><circle cx="352.0" cy="495.5" r="1.75"/><circle cx="354.0" cy="495.6" r="1.75"/><circle cx="356.5" cy="495.5" r="1.75"/><circle cx="354.5" cy="500.4" r="1.75"/><circle cx="349.7" cy="492.0" r="1.75"/><circle cx="374.7" cy="486.7" r="1.75"/><circle cx="364.2" cy="488.9" r="1.75"/><circle cx="366.3" cy="489.1" r="1.75"/><circle cx="358.1" cy="484.0" r="1.75"/><circle cx="342.5" cy="498.0" r="1.75"/><circle cx="352.2" cy="490.8" r="1.75"/><circle cx="354.7" cy="503.2" r="1.75"/><circle cx="360.5" cy="483.5" r="1.75"/><circle cx="369.4" cy="497.6" r="1.75"/><circle cx="371.7" cy="497.8" r="1.75"/><circle cx="374.2" cy="497.9" r="1.75"/><circle cx="346.1" cy="485.6" r="1.75"/><circle cx="342.4" cy="503.4" r="1.75"/><circle cx="344.3" cy="502.9" r="1.75"/><circle cx="371.0" cy="488.0" r="1.75"/><circle cx="372.6" cy="495.1" r="1.75"/><circle cx="333.3" cy="485.2" r="1.75"/><circle cx="358.0" cy="490.2" r="1.75"/><circle cx="360.6" cy="490.2" r="1.75"/><circle cx="367.0" cy="508.1" r="1.75"/><circle cx="369.1" cy="508.1" r="1.75"/><circle cx="371.0" cy="508.1" r="1.75"/><circle cx="374.7" cy="507.9" r="1.75"/><circle cx="348.8" cy="496.3" r="1.75"/><circle cx="345.4" cy="501.1" r="1.75"/><circle cx="336.8" cy="495.9" r="1.75"/><circle cx="330.0" cy="503.0" r="1.75"/><circle cx="352.7" cy="504.2" r="1.75"/><circle cx="354.7" cy="504.0" r="1.75"/><circle cx="339.1" cy="493.3" r="1.75"/><circle cx="341.6" cy="505.2" r="1.75"/><circle cx="343.9" cy="505.0" r="1.75"/><circle cx="358.4" cy="492.9" r="1.75"/><circle cx="360.4" cy="492.7" r="1.75"/><circle cx="363.3" cy="493.0" r="1.75"/><circle cx="359.4" cy="486.0" r="1.75"/><circle cx="333.7" cy="497.7" r="1.75"/><circle cx="335.7" cy="497.7" r="1.75"/><circle cx="338.5" cy="497.8" r="1.75"/><circle cx="340.7" cy="498.0" r="1.75"/><circle cx="341.8" cy="497.9" r="1.75"/><circle cx="344.6" cy="496.1" r="1.75"/><circle cx="347.2" cy="496.0" r="1.75"/><circle cx="349.5" cy="496.1" r="1.75"/><circle cx="352.2" cy="496.1" r="1.75"/><circle cx="354.6" cy="496.4" r="1.75"/><circle cx="344.1" cy="488.9" r="1.75"/><circle cx="333.4" cy="499.7" r="1.75"/><circle cx="335.4" cy="499.6" r="1.75"/><circle cx="338.2" cy="499.4" r="1.75"/><circle cx="339.6" cy="499.7" r="1.75"/><circle cx="342.8" cy="499.8" r="1.75"/><circle cx="331.3" cy="494.2" r="1.75"/><circle cx="333.2" cy="494.4" r="1.75"/><circle cx="335.0" cy="494.4" r="1.75"/><circle cx="336.7" cy="494.0" r="1.75"/><circle cx="339.0" cy="494.5" r="1.75"/><circle cx="342.0" cy="510.5" r="1.75"/><circle cx="367.5" cy="489.9" r="1.75"/><circle cx="362.9" cy="504.0" r="1.75"/><circle cx="338.6" cy="498.4" r="1.75"/><circle cx="340.8" cy="498.3" r="1.75"/><circle cx="343.4" cy="498.5" r="1.75"/><circle cx="344.8" cy="498.4" r="1.75"/><circle cx="353.4" cy="485.2" r="1.75"/><circle cx="368.3" cy="497.7" r="1.75"/><circle cx="370.8" cy="497.6" r="1.75"/><circle cx="371.0" cy="503.3" r="1.75"/><circle cx="373.2" cy="503.7" r="1.75"/><circle cx="355.7" cy="494.6" r="1.75"/><circle cx="358.0" cy="494.6" r="1.75"/><circle cx="360.6" cy="494.4" r="1.75"/><circle cx="363.1" cy="494.8" r="1.75"/><circle cx="365.6" cy="494.5" r="1.75"/><circle cx="381.2" cy="495.9" r="1.75"/><circle cx="392.0" cy="482.8" r="1.75"/><circle cx="394.0" cy="482.8" r="1.75"/><circle cx="391.1" cy="498.4" r="1.75"/><circle cx="380.6" cy="510.4" r="1.75"/><circle cx="382.9" cy="510.5" r="1.75"/><circle cx="387.7" cy="504.3" r="1.75"/><circle cx="389.5" cy="504.2" r="1.75"/><circle cx="380.5" cy="508.3" r="1.75"/><circle cx="390.2" cy="495.7" r="1.75"/><circle cx="384.9" cy="506.1" r="1.75"/><circle cx="380.0" cy="498.4" r="1.75"/><circle cx="382.0" cy="498.3" r="1.75"/><circle cx="385.2" cy="498.1" r="1.75"/><circle cx="386.9" cy="497.9" r="1.75"/><circle cx="379.3" cy="504.3" r="1.75"/><circle cx="381.6" cy="504.8" r="1.75"/><circle cx="383.2" cy="504.4" r="1.75"/><circle cx="385.6" cy="504.4" r="1.75"/><circle cx="388.1" cy="504.4" r="1.75"/><circle cx="394.2" cy="502.1" r="1.75"/><circle cx="396.7" cy="502.0" r="1.75"/><circle cx="399.3" cy="502.4" r="1.75"/><circle cx="395.9" cy="510.5" r="1.75"/><circle cx="392.3" cy="483.6" r="1.75"/><circle cx="377.2" cy="508.6" r="1.75"/><circle cx="397.3" cy="503.8" r="1.75"/><circle cx="399.6" cy="503.5" r="1.75"/><circle cx="394.9" cy="500.2" r="1.75"/><circle cx="392.0" cy="498.0" r="1.75"/><circle cx="393.9" cy="498.3" r="1.75"/><circle cx="396.9" cy="498.2" r="1.75"/><circle cx="398.6" cy="497.9" r="1.75"/><circle cx="391.7" cy="489.0" r="1.75"/><circle cx="394.0" cy="489.0" r="1.75"/><circle cx="395.6" cy="488.9" r="1.75"/><circle cx="398.8" cy="488.9" r="1.75"/><circle cx="386.5" cy="487.5" r="1.75"/><circle cx="379.3" cy="501.0" r="1.75"/><circle cx="390.8" cy="504.8" r="1.75"/><circle cx="392.9" cy="504.9" r="1.75"/><circle cx="394.9" cy="505.1" r="1.75"/><circle cx="397.1" cy="504.9" r="1.75"/><circle cx="389.8" cy="508.9" r="1.75"/><circle cx="378.0" cy="482.3" r="1.75"/><circle cx="375.7" cy="482.4" r="1.75"/><circle cx="385.4" cy="481.0" r="1.75"/><circle cx="387.8" cy="481.2" r="1.75"/><circle cx="389.2" cy="481.3" r="1.75"/><circle cx="392.8" cy="500.0" r="1.75"/><circle cx="395.0" cy="500.2" r="1.75"/><circle cx="396.8" cy="500.0" r="1.75"/><circle cx="400.1" cy="500.1" r="1.75"/><circle cx="400.2" cy="499.8" r="1.75"/><circle cx="397.0" cy="499.5" r="1.75"/><circle cx="397.9" cy="496.8" r="1.75"/><circle cx="381.9" cy="499.5" r="1.75"/><circle cx="375.1" cy="500.9" r="1.75"/><circle cx="383.3" cy="490.1" r="1.75"/><circle cx="391.1" cy="510.8" r="1.75"/><circle cx="399.1" cy="489.4" r="1.75"/><circle cx="394.7" cy="491.8" r="1.75"/><circle cx="396.6" cy="491.3" r="1.75"/><circle cx="399.0" cy="491.9" r="1.75"/><circle cx="400.4" cy="496.4" r="1.75"/><circle cx="386.6" cy="484.9" r="1.75"/><circle cx="382.7" cy="509.0" r="1.75"/><circle cx="378.4" cy="503.9" r="1.75"/><circle cx="380.6" cy="503.5" r="1.75"/><circle cx="394.3" cy="492.4" r="1.75"/><circle cx="393.5" cy="492.8" r="1.75"/><circle cx="376.3" cy="489.7" r="1.75"/><circle cx="378.3" cy="490.0" r="1.75"/><circle cx="380.0" cy="490.1" r="1.75"/><circle cx="383.0" cy="489.9" r="1.75"/><circle cx="386.6" cy="489.8" r="1.75"/><circle cx="392.9" cy="493.9" r="1.75"/><circle cx="395.4" cy="493.7" r="1.75"/><circle cx="395.2" cy="511.0" r="1.75"/><circle cx="397.5" cy="511.4" r="1.75"/><circle cx="400.3" cy="511.3" r="1.75"/><circle cx="396.2" cy="481.5" r="1.75"/><circle cx="377.8" cy="480.6" r="1.75"/><circle cx="396.7" cy="485.9" r="1.75"/><circle cx="398.8" cy="486.3" r="1.75"/><circle cx="399.6" cy="508.2" r="1.75"/><circle cx="388.7" cy="496.4" r="1.75"/><circle cx="391.2" cy="485.5" r="1.75"/><circle cx="386.6" cy="495.7" r="1.75"/><circle cx="388.0" cy="499.5" r="1.75"/><circle cx="390.2" cy="499.3" r="1.75"/><circle cx="392.6" cy="499.4" r="1.75"/><circle cx="384.4" cy="493.7" r="1.75"/><circle cx="395.1" cy="482.5" r="1.75"/><circle cx="376.7" cy="484.0" r="1.75"/><circle cx="376.1" cy="480.5" r="1.75"/><circle cx="382.3" cy="509.1" r="1.75"/><circle cx="384.5" cy="509.1" r="1.75"/><circle cx="386.4" cy="508.6" r="1.75"/><circle cx="391.1" cy="491.1" r="1.75"/><circle cx="393.5" cy="490.8" r="1.75"/><circle cx="395.8" cy="490.6" r="1.75"/><circle cx="399.6" cy="490.1" r="1.75"/><circle cx="383.6" cy="501.3" r="1.75"/><circle cx="386.1" cy="501.2" r="1.75"/><circle cx="387.9" cy="501.6" r="1.75"/><circle cx="393.0" cy="492.1" r="1.75"/><circle cx="395.0" cy="492.0" r="1.75"/><circle cx="397.9" cy="503.8" r="1.75"/><circle cx="399.7" cy="503.5" r="1.75"/><circle cx="389.1" cy="498.8" r="1.75"/><circle cx="391.4" cy="498.9" r="1.75"/><circle cx="380.5" cy="486.7" r="1.75"/><circle cx="377.5" cy="487.3" r="1.75"/><circle cx="379.3" cy="487.8" r="1.75"/><circle cx="382.1" cy="487.3" r="1.75"/><circle cx="384.4" cy="487.7" r="1.75"/><circle cx="380.2" cy="509.8" r="1.75"/><circle cx="382.5" cy="509.9" r="1.75"/><circle cx="385.3" cy="510.1" r="1.75"/><circle cx="385.6" cy="510.2" r="1.75"/><circle cx="389.9" cy="510.3" r="1.75"/><circle cx="388.7" cy="502.9" r="1.75"/><circle cx="398.4" cy="492.2" r="1.75"/><circle cx="385.8" cy="481.1" r="1.75"/><circle cx="381.5" cy="509.3" r="1.75"/><circle cx="382.2" cy="506.6" r="1.75"/><circle cx="305.2" cy="480.9" r="1.75"/><circle cx="276.7" cy="481.9" r="1.75"/><circle cx="313.6" cy="480.8" r="1.75"/><circle cx="316.1" cy="481.2" r="1.75"/><circle cx="318.3" cy="480.7" r="1.75"/><circle cx="281.6" cy="479.2" r="1.75"/><circle cx="283.7" cy="479.1" r="1.75"/><circle cx="286.1" cy="479.4" r="1.75"/><circle cx="288.4" cy="479.3" r="1.75"/><circle cx="318.8" cy="478.3" r="1.75"/><circle cx="300.9" cy="482.7" r="1.75"/><circle cx="308.3" cy="478.5" r="1.75"/><circle cx="298.4" cy="478.5" r="1.75"/><circle cx="300.8" cy="478.4" r="1.75"/><circle cx="302.0" cy="478.4" r="1.75"/><circle cx="305.2" cy="478.7" r="1.75"/><circle cx="271.8" cy="476.0" r="1.75"/><circle cx="274.0" cy="476.2" r="1.75"/><circle cx="276.9" cy="476.2" r="1.75"/><circle cx="277.3" cy="476.2" r="1.75"/><circle cx="399.5" cy="475.2" r="1.75"/><circle cx="350.6" cy="477.9" r="1.75"/><circle cx="363.0" cy="474.1" r="1.75"/><circle cx="384.7" cy="475.2" r="1.75"/><circle cx="374.4" cy="476.2" r="1.75"/><circle cx="376.0" cy="480.8" r="1.75"/><circle cx="378.1" cy="480.8" r="1.75"/><circle cx="374.7" cy="475.1" r="1.75"/><circle cx="376.6" cy="475.0" r="1.75"/><circle cx="379.5" cy="475.4" r="1.75"/><circle cx="380.5" cy="474.8" r="1.75"/><circle cx="384.7" cy="475.4" r="1.75"/><circle cx="358.4" cy="482.7" r="1.75"/><circle cx="393.6" cy="474.3" r="1.75"/><circle cx="395.6" cy="474.4" r="1.75"/><circle cx="397.4" cy="474.2" r="1.75"/><circle cx="379.5" cy="475.8" r="1.75"/><circle cx="340.8" cy="481.0" r="1.75"/><circle cx="342.7" cy="480.8" r="1.75"/><circle cx="345.3" cy="480.9" r="1.75"/><circle cx="347.1" cy="480.7" r="1.75"/><circle cx="349.2" cy="480.9" r="1.75"/><circle cx="338.0" cy="482.9" r="1.75"/><circle cx="260.5" cy="475.7" r="1.75"/><circle cx="250.0" cy="475.7" r="1.75"/><circle cx="250.2" cy="478.1" r="1.75"/><circle cx="230.1" cy="476.0" r="1.75"/><circle cx="232.4" cy="475.8" r="1.75"/><circle cx="234.6" cy="476.1" r="1.75"/><circle cx="237.7" cy="475.7" r="1.75"/><circle cx="239.6" cy="475.7" r="1.75"/><circle cx="286.8" cy="450.3" r="1.75"/><circle cx="300.5" cy="446.8" r="1.75"/><circle cx="288.7" cy="459.0" r="1.75"/><circle cx="297.5" cy="463.1" r="1.75"/><circle cx="302.8" cy="463.1" r="1.75"/><circle cx="305.9" cy="466.6" r="1.75"/><circle cx="309.7" cy="465.1" r="1.75"/><circle cx="311.2" cy="468.2" r="1.75"/><circle cx="315.0" cy="468.2" r="1.75"/><circle cx="316.5" cy="472.0" r="1.75"/><circle cx="287.3" cy="468.9" r="1.75"/><circle cx="284.6" cy="476.5" r="1.75"/><circle cx="281.5" cy="477.3" r="1.75"/><circle cx="294.5" cy="475.8" r="1.75"/><circle cx="299.8" cy="474.2" r="1.75"/><circle cx="304.3" cy="479.6" r="1.75"/><circle cx="309.7" cy="478.8" r="1.75"/><circle cx="312.0" cy="480.3" r="1.75"/><circle cx="320.3" cy="478.0" r="1.75"/><circle cx="322.6" cy="478.8" r="1.75"/><circle cx="322.6" cy="472.0" r="1.75"/><circle cx="325.7" cy="472.0" r="1.75"/><circle cx="333.3" cy="472.0" r="1.75"/><circle cx="348.5" cy="461.3" r="1.75"/><circle cx="305.9" cy="458.3" r="1.75"/><circle cx="308.9" cy="457.5" r="1.75"/><circle cx="325.7" cy="456.7" r="1.75"/><circle cx="327.2" cy="456.0" r="1.75"/><circle cx="348.0" cy="460.5" r="1.75"/><circle cx="350.0" cy="459.5" r="1.75"/><circle cx="351.5" cy="461.0" r="1.75"/><circle cx="359.2" cy="463.1" r="1.75"/><circle cx="359.2" cy="467.4" r="1.75"/><circle cx="359.2" cy="473.1" r="1.75"/><circle cx="380.0" cy="474.0" r="1.75"/><circle cx="382.0" cy="473.5" r="1.75"/><circle cx="393.0" cy="477.6" r="1.75"/><circle cx="268.0" cy="469.0" r="1.75"/><circle cx="258.6" cy="472.0" r="1.75"/><circle cx="243.0" cy="476.0" r="1.75"/><circle cx="229.0" cy="473.5" r="1.75"/><circle cx="223.0" cy="477.0" r="1.75"/><circle cx="272.8" cy="466.5" r="1.75"/><circle cx="263.0" cy="464.5" r="1.75"/><circle cx="277.0" cy="472.0" r="1.75"/></g>
<rect x="216.30" y="436.40" width="12.40" height="4.40" fill="#6cc24a" stroke="none" stroke-width="0.8"/>
<text x="230.20" y="441.80" font-size="7.6" text-anchor="start" fill="#111">CNV1</text>
<rect x="216.30" y="447.00" width="12.40" height="4.20" fill="#2b55a8" stroke="none" stroke-width="0.8"/>
<text x="230.20" y="452.20" font-size="7.6" text-anchor="start" fill="#111">CNV2</text>
<rect x="216.30" y="457.60" width="12.40" height="4.20" fill="#f7b6c2" stroke="none" stroke-width="0.8"/>
<text x="230.20" y="462.40" font-size="7.6" text-anchor="start" fill="#111">CNV3</text>
<rect x="294.10" y="439.00" width="9.20" height="4.60" fill="#6cc24a" stroke="none" stroke-width="0.8"/>
<rect x="303.30" y="439.00" width="14.60" height="4.60" fill="#f7b6c2" stroke="none" stroke-width="0.8"/>
<rect x="317.90" y="439.00" width="6.40" height="4.60" fill="#2b55a8" stroke="none" stroke-width="0.8"/>
<rect x="324.30" y="439.00" width="8.80" height="4.60" fill="#6cc24a" stroke="none" stroke-width="0.8"/>
<text x="313.10" y="437.20" font-size="8.4" text-anchor="middle" fill="#111">CNV</text>
<path d="M309.7,442.6 L313.9,446.6 L309.7,450.6 L305.5,446.6 Z" fill="#ee2a2a"/>
<text x="293.60" y="458.20" font-size="8.45" text-anchor="start" fill="#111">rs14301625</text>
<text x="428.80" y="415.50" font-size="10.5" text-anchor="start" fill="#000" font-weight="bold">h</text>
<text x="461.50" y="431.10" font-size="9.95" text-anchor="start" fill="#111">Back plumage color B (yellow to blue axis)</text>
<line x1="453.90" y1="431.30" x2="453.90" y2="522.50" stroke="#222" stroke-width="0.9"/>
<line x1="453.50" y1="522.10" x2="655.20" y2="522.10" stroke="#222" stroke-width="0.9"/>
<line x1="451.70" y1="518.20" x2="453.90" y2="518.20" stroke="#222" stroke-width="0.8"/>
<text x="449.40" y="521.00" font-size="7.9" text-anchor="end" fill="#111">0</text>
<line x1="451.70" y1="486.15" x2="453.90" y2="486.15" stroke="#222" stroke-width="0.8"/>
<text x="449.40" y="488.95" font-size="7.9" text-anchor="end" fill="#111">5</text>
<line x1="451.70" y1="454.10" x2="453.90" y2="454.10" stroke="#222" stroke-width="0.8"/>
<text x="449.40" y="456.90" font-size="7.9" text-anchor="end" fill="#111">10</text>
<line x1="489.90" y1="522.10" x2="489.90" y2="524.40" stroke="#222" stroke-width="0.8"/>
<text x="491.40" y="532.60" font-size="8.3" text-anchor="middle" fill="#111">51.00</text>
<line x1="535.73" y1="522.10" x2="535.73" y2="524.40" stroke="#222" stroke-width="0.8"/>
<text x="537.23" y="532.60" font-size="8.3" text-anchor="middle" fill="#111">51.05</text>
<line x1="581.56" y1="522.10" x2="581.56" y2="524.40" stroke="#222" stroke-width="0.8"/>
<text x="583.06" y="532.60" font-size="8.3" text-anchor="middle" fill="#111">51.10</text>
<line x1="627.39" y1="522.10" x2="627.39" y2="524.40" stroke="#222" stroke-width="0.8"/>
<text x="628.89" y="532.60" font-size="8.3" text-anchor="middle" fill="#111">51.15</text>
<text x="509.90" y="543.80" font-size="8.2" text-anchor="start" fill="#111" font-style="italic">SOX10</text>
<path d="M540.6,540.9 L548.0,540.9" stroke="#111" stroke-width="0.9"/><path d="M546.0,538.9 L549.3,540.9 L546.0,542.9 Z" fill="#111"/>
<text x="481.60" y="556.40" font-size="9.96" text-anchor="start" fill="#111">Chromosome 1 position (Mb)</text>
<text transform="translate(429.0,473.6) rotate(-90)" font-size="10.4" text-anchor="middle" fill="#111">&#8722;log<tspan font-size="5.6" dy="2.2">10</tspan><tspan dy="-2.2" font-style="italic">P</tspan></text>
<g fill="#b7b8ba"><circle cx="471.2" cy="511.1" r="1.75"/><circle cx="464.3" cy="517.2" r="1.75"/><circle cx="461.5" cy="512.7" r="1.75"/><circle cx="480.4" cy="507.5" r="1.75"/><circle cx="473.1" cy="514.1" r="1.75"/><circle cx="462.3" cy="511.2" r="1.75"/><circle cx="476.2" cy="512.1" r="1.75"/><circle cx="476.7" cy="508.4" r="1.75"/><circle cx="466.4" cy="507.9" r="1.75"/><circle cx="472.1" cy="518.0" r="1.75"/><circle cx="473.9" cy="516.1" r="1.75"/><circle cx="469.5" cy="515.8" r="1.75"/><circle cx="463.5" cy="510.1" r="1.75"/><circle cx="475.6" cy="515.5" r="1.75"/><circle cx="470.3" cy="507.6" r="1.75"/><circle cx="467.0" cy="509.1" r="1.75"/><circle cx="467.3" cy="516.5" r="1.75"/><circle cx="465.6" cy="517.5" r="1.75"/><circle cx="480.0" cy="507.2" r="1.75"/><circle cx="469.4" cy="512.6" r="1.75"/><circle cx="461.9" cy="511.8" r="1.75"/><circle cx="480.5" cy="507.9" r="1.75"/><circle cx="474.0" cy="508.0" r="1.75"/><circle cx="473.6" cy="517.6" r="1.75"/><circle cx="465.7" cy="506.6" r="1.75"/><circle cx="463.2" cy="513.2" r="1.75"/><circle cx="461.8" cy="507.6" r="1.75"/><circle cx="471.9" cy="517.9" r="1.75"/><circle cx="470.3" cy="511.4" r="1.75"/><circle cx="474.9" cy="507.7" r="1.75"/><circle cx="473.6" cy="508.6" r="1.75"/><circle cx="474.2" cy="518.4" r="1.75"/><circle cx="462.5" cy="513.4" r="1.75"/><circle cx="474.2" cy="508.4" r="1.75"/><circle cx="467.1" cy="518.8" r="1.75"/><circle cx="482.5" cy="508.0" r="1.75"/><circle cx="476.3" cy="518.3" r="1.75"/><circle cx="466.4" cy="514.1" r="1.75"/><circle cx="462.3" cy="511.0" r="1.75"/><circle cx="475.6" cy="513.8" r="1.75"/><circle cx="477.7" cy="507.6" r="1.75"/><circle cx="468.7" cy="517.2" r="1.75"/><circle cx="473.7" cy="512.1" r="1.75"/><circle cx="469.9" cy="518.7" r="1.75"/><circle cx="473.5" cy="506.7" r="1.75"/><circle cx="478.3" cy="510.6" r="1.75"/><circle cx="470.5" cy="509.1" r="1.75"/><circle cx="470.8" cy="510.5" r="1.75"/><circle cx="463.3" cy="514.3" r="1.75"/><circle cx="463.6" cy="516.2" r="1.75"/><circle cx="461.9" cy="516.2" r="1.75"/><circle cx="478.4" cy="512.7" r="1.75"/><circle cx="476.4" cy="509.6" r="1.75"/><circle cx="477.0" cy="511.8" r="1.75"/><circle cx="466.3" cy="518.5" r="1.75"/><circle cx="469.9" cy="511.1" r="1.75"/><circle cx="479.5" cy="511.1" r="1.75"/><circle cx="475.5" cy="508.6" r="1.75"/><circle cx="479.2" cy="509.7" r="1.75"/><circle cx="462.5" cy="518.6" r="1.75"/><circle cx="465.0" cy="518.2" r="1.75"/><circle cx="482.2" cy="514.0" r="1.75"/><circle cx="461.7" cy="507.3" r="1.75"/><circle cx="465.8" cy="511.3" r="1.75"/><circle cx="474.3" cy="518.5" r="1.75"/><circle cx="468.9" cy="508.2" r="1.75"/><circle cx="473.3" cy="508.2" r="1.75"/><circle cx="463.2" cy="513.4" r="1.75"/><circle cx="476.1" cy="507.3" r="1.75"/><circle cx="470.9" cy="515.2" r="1.75"/><circle cx="477.5" cy="511.2" r="1.75"/><circle cx="480.1" cy="508.6" r="1.75"/><circle cx="476.5" cy="516.1" r="1.75"/><circle cx="480.0" cy="512.6" r="1.75"/><circle cx="463.5" cy="507.1" r="1.75"/><circle cx="472.6" cy="508.6" r="1.75"/><circle cx="474.7" cy="507.5" r="1.75"/><circle cx="477.9" cy="509.3" r="1.75"/><circle cx="461.7" cy="508.7" r="1.75"/><circle cx="471.0" cy="513.4" r="1.75"/><circle cx="469.6" cy="508.6" r="1.75"/><circle cx="471.6" cy="518.2" r="1.75"/><circle cx="472.7" cy="518.2" r="1.75"/><circle cx="462.0" cy="518.8" r="1.75"/><circle cx="480.2" cy="513.2" r="1.75"/><circle cx="472.4" cy="513.2" r="1.75"/><circle cx="480.6" cy="507.3" r="1.75"/><circle cx="475.0" cy="513.2" r="1.75"/><circle cx="467.7" cy="515.5" r="1.75"/><circle cx="476.6" cy="507.8" r="1.75"/><circle cx="476.2" cy="512.1" r="1.75"/><circle cx="471.7" cy="514.4" r="1.75"/><circle cx="462.5" cy="514.0" r="1.75"/><circle cx="469.3" cy="517.4" r="1.75"/><circle cx="466.3" cy="516.7" r="1.75"/><circle cx="476.8" cy="514.2" r="1.75"/><circle cx="479.9" cy="506.9" r="1.75"/><circle cx="474.0" cy="514.1" r="1.75"/><circle cx="475.7" cy="511.5" r="1.75"/><circle cx="462.9" cy="508.8" r="1.75"/><circle cx="474.2" cy="508.7" r="1.75"/><circle cx="462.8" cy="510.9" r="1.75"/><circle cx="471.3" cy="513.1" r="1.75"/><circle cx="461.9" cy="516.1" r="1.75"/><circle cx="468.4" cy="516.2" r="1.75"/><circle cx="461.6" cy="518.3" r="1.75"/><circle cx="473.9" cy="518.6" r="1.75"/><circle cx="482.2" cy="516.8" r="1.75"/><circle cx="463.6" cy="510.8" r="1.75"/><circle cx="466.3" cy="516.2" r="1.75"/><circle cx="465.5" cy="509.2" r="1.75"/><circle cx="463.7" cy="508.0" r="1.75"/><circle cx="481.2" cy="518.6" r="1.75"/><circle cx="469.3" cy="515.7" r="1.75"/><circle cx="561.0" cy="512.7" r="1.75"/><circle cx="545.1" cy="514.2" r="1.75"/><circle cx="523.4" cy="509.3" r="1.75"/><circle cx="569.2" cy="508.5" r="1.75"/><circle cx="556.4" cy="518.2" r="1.75"/><circle cx="488.6" cy="507.3" r="1.75"/><circle cx="615.1" cy="506.7" r="1.75"/><circle cx="525.9" cy="517.0" r="1.75"/><circle cx="583.4" cy="508.8" r="1.75"/><circle cx="494.5" cy="509.5" r="1.75"/><circle cx="533.8" cy="516.3" r="1.75"/><circle cx="643.6" cy="516.1" r="1.75"/><circle cx="631.6" cy="518.0" r="1.75"/><circle cx="627.5" cy="517.9" r="1.75"/><circle cx="642.3" cy="507.2" r="1.75"/><circle cx="536.7" cy="509.2" r="1.75"/><circle cx="583.2" cy="512.3" r="1.75"/><circle cx="541.4" cy="516.8" r="1.75"/><circle cx="549.9" cy="508.7" r="1.75"/><circle cx="529.9" cy="512.0" r="1.75"/><circle cx="584.3" cy="513.3" r="1.75"/><circle cx="556.5" cy="508.4" r="1.75"/><circle cx="550.4" cy="510.2" r="1.75"/><circle cx="512.7" cy="513.0" r="1.75"/><circle cx="515.7" cy="515.2" r="1.75"/><circle cx="592.1" cy="507.8" r="1.75"/><circle cx="586.7" cy="510.4" r="1.75"/><circle cx="557.7" cy="513.8" r="1.75"/><circle cx="608.8" cy="517.4" r="1.75"/><circle cx="604.3" cy="508.7" r="1.75"/><circle cx="573.1" cy="510.3" r="1.75"/><circle cx="488.1" cy="513.1" r="1.75"/><circle cx="561.5" cy="517.2" r="1.75"/><circle cx="537.6" cy="516.8" r="1.75"/><circle cx="568.6" cy="507.3" r="1.75"/><circle cx="601.6" cy="509.7" r="1.75"/><circle cx="571.7" cy="506.9" r="1.75"/><circle cx="486.8" cy="517.9" r="1.75"/><circle cx="491.8" cy="507.9" r="1.75"/><circle cx="511.6" cy="507.2" r="1.75"/><circle cx="619.0" cy="518.8" r="1.75"/><circle cx="590.6" cy="511.1" r="1.75"/><circle cx="629.5" cy="512.5" r="1.75"/><circle cx="506.9" cy="514.9" r="1.75"/><circle cx="543.4" cy="509.5" r="1.75"/><circle cx="537.1" cy="511.0" r="1.75"/><circle cx="514.7" cy="513.9" r="1.75"/><circle cx="626.2" cy="513.4" r="1.75"/><circle cx="486.5" cy="514.8" r="1.75"/><circle cx="488.3" cy="512.2" r="1.75"/><circle cx="625.8" cy="514.7" r="1.75"/><circle cx="632.7" cy="515.7" r="1.75"/><circle cx="529.4" cy="507.9" r="1.75"/><circle cx="558.4" cy="514.8" r="1.75"/><circle cx="522.7" cy="510.3" r="1.75"/><circle cx="606.6" cy="510.5" r="1.75"/><circle cx="582.7" cy="513.0" r="1.75"/><circle cx="636.0" cy="506.3" r="1.75"/><circle cx="515.3" cy="516.0" r="1.75"/><circle cx="593.8" cy="507.2" r="1.75"/><circle cx="506.9" cy="508.7" r="1.75"/><circle cx="573.3" cy="517.6" r="1.75"/><circle cx="520.2" cy="508.6" r="1.75"/><circle cx="596.5" cy="511.5" r="1.75"/><circle cx="622.7" cy="518.9" r="1.75"/><circle cx="637.2" cy="515.2" r="1.75"/><circle cx="565.7" cy="506.8" r="1.75"/><circle cx="616.4" cy="511.1" r="1.75"/><circle cx="560.4" cy="514.2" r="1.75"/><circle cx="641.8" cy="513.2" r="1.75"/><circle cx="634.2" cy="518.4" r="1.75"/><circle cx="498.8" cy="510.6" r="1.75"/><circle cx="629.5" cy="515.9" r="1.75"/><circle cx="642.6" cy="508.4" r="1.75"/><circle cx="571.4" cy="518.0" r="1.75"/><circle cx="572.8" cy="514.6" r="1.75"/><circle cx="643.5" cy="508.2" r="1.75"/><circle cx="494.2" cy="517.0" r="1.75"/><circle cx="579.5" cy="508.6" r="1.75"/><circle cx="620.3" cy="509.7" r="1.75"/><circle cx="506.1" cy="509.8" r="1.75"/><circle cx="490.9" cy="511.2" r="1.75"/><circle cx="611.8" cy="511.9" r="1.75"/><circle cx="641.8" cy="506.5" r="1.75"/><circle cx="513.1" cy="507.9" r="1.75"/><circle cx="578.4" cy="508.6" r="1.75"/><circle cx="593.5" cy="512.7" r="1.75"/><circle cx="579.4" cy="516.9" r="1.75"/><circle cx="613.4" cy="517.9" r="1.75"/><circle cx="509.7" cy="510.9" r="1.75"/><circle cx="641.2" cy="511.1" r="1.75"/><circle cx="531.4" cy="512.2" r="1.75"/><circle cx="514.4" cy="516.9" r="1.75"/><circle cx="588.4" cy="507.2" r="1.75"/><circle cx="641.8" cy="512.7" r="1.75"/><circle cx="526.3" cy="513.9" r="1.75"/><circle cx="639.4" cy="510.5" r="1.75"/><circle cx="487.3" cy="508.6" r="1.75"/><circle cx="494.5" cy="512.8" r="1.75"/><circle cx="535.6" cy="517.0" r="1.75"/><circle cx="518.5" cy="506.2" r="1.75"/><circle cx="560.6" cy="507.6" r="1.75"/><circle cx="535.5" cy="508.9" r="1.75"/><circle cx="514.0" cy="514.2" r="1.75"/><circle cx="637.2" cy="510.8" r="1.75"/><circle cx="588.8" cy="510.2" r="1.75"/><circle cx="633.8" cy="513.1" r="1.75"/><circle cx="489.8" cy="515.6" r="1.75"/><circle cx="519.1" cy="506.6" r="1.75"/><circle cx="488.1" cy="516.8" r="1.75"/><circle cx="600.4" cy="510.6" r="1.75"/><circle cx="575.7" cy="515.1" r="1.75"/><circle cx="497.3" cy="515.1" r="1.75"/><circle cx="600.2" cy="518.2" r="1.75"/><circle cx="494.6" cy="513.4" r="1.75"/><circle cx="567.6" cy="516.9" r="1.75"/><circle cx="544.2" cy="514.5" r="1.75"/><circle cx="630.9" cy="510.5" r="1.75"/><circle cx="568.8" cy="517.5" r="1.75"/><circle cx="490.5" cy="518.6" r="1.75"/><circle cx="535.9" cy="511.9" r="1.75"/><circle cx="531.8" cy="516.3" r="1.75"/><circle cx="571.6" cy="515.6" r="1.75"/><circle cx="501.9" cy="517.4" r="1.75"/><circle cx="618.5" cy="514.8" r="1.75"/><circle cx="521.2" cy="509.3" r="1.75"/><circle cx="558.5" cy="506.8" r="1.75"/><circle cx="640.1" cy="511.3" r="1.75"/><circle cx="640.0" cy="508.4" r="1.75"/><circle cx="590.4" cy="516.3" r="1.75"/><circle cx="589.8" cy="511.5" r="1.75"/><circle cx="488.1" cy="511.6" r="1.75"/><circle cx="548.4" cy="518.2" r="1.75"/><circle cx="643.3" cy="518.3" r="1.75"/><circle cx="644.4" cy="508.2" r="1.75"/><circle cx="489.8" cy="509.8" r="1.75"/><circle cx="486.3" cy="507.5" r="1.75"/><circle cx="578.8" cy="508.6" r="1.75"/><circle cx="584.3" cy="510.9" r="1.75"/><circle cx="529.6" cy="518.5" r="1.75"/><circle cx="515.3" cy="517.4" r="1.75"/><circle cx="570.7" cy="514.6" r="1.75"/><circle cx="508.4" cy="515.6" r="1.75"/><circle cx="629.6" cy="508.6" r="1.75"/><circle cx="561.9" cy="514.4" r="1.75"/><circle cx="562.2" cy="515.7" r="1.75"/><circle cx="589.8" cy="510.1" r="1.75"/><circle cx="595.7" cy="516.0" r="1.75"/><circle cx="560.3" cy="513.6" r="1.75"/><circle cx="588.2" cy="512.2" r="1.75"/><circle cx="499.4" cy="511.3" r="1.75"/><circle cx="611.5" cy="515.3" r="1.75"/><circle cx="497.1" cy="512.2" r="1.75"/><circle cx="580.6" cy="512.9" r="1.75"/><circle cx="509.4" cy="514.3" r="1.75"/><circle cx="598.4" cy="512.9" r="1.75"/><circle cx="637.8" cy="513.5" r="1.75"/><circle cx="487.0" cy="509.7" r="1.75"/><circle cx="599.2" cy="507.0" r="1.75"/><circle cx="641.9" cy="515.0" r="1.75"/><circle cx="609.4" cy="508.2" r="1.75"/><circle cx="486.1" cy="517.3" r="1.75"/><circle cx="568.1" cy="511.7" r="1.75"/><circle cx="569.3" cy="515.9" r="1.75"/><circle cx="545.6" cy="516.0" r="1.75"/><circle cx="511.3" cy="518.6" r="1.75"/><circle cx="598.2" cy="510.1" r="1.75"/><circle cx="562.6" cy="517.4" r="1.75"/><circle cx="537.9" cy="515.0" r="1.75"/><circle cx="632.8" cy="518.4" r="1.75"/><circle cx="526.6" cy="516.3" r="1.75"/><circle cx="584.0" cy="516.4" r="1.75"/><circle cx="496.3" cy="511.3" r="1.75"/><circle cx="558.4" cy="516.5" r="1.75"/><circle cx="558.5" cy="506.5" r="1.75"/><circle cx="519.0" cy="516.7" r="1.75"/><circle cx="628.6" cy="513.4" r="1.75"/><circle cx="498.0" cy="516.0" r="1.75"/><circle cx="625.8" cy="509.7" r="1.75"/><circle cx="563.4" cy="509.8" r="1.75"/><circle cx="493.7" cy="515.5" r="1.75"/><circle cx="510.8" cy="507.1" r="1.75"/><circle cx="632.9" cy="507.2" r="1.75"/><circle cx="608.5" cy="516.5" r="1.75"/><circle cx="525.8" cy="510.8" r="1.75"/><circle cx="521.3" cy="515.1" r="1.75"/><circle cx="643.3" cy="515.6" r="1.75"/><circle cx="565.2" cy="512.9" r="1.75"/><circle cx="551.3" cy="515.2" r="1.75"/><circle cx="528.8" cy="509.2" r="1.75"/><circle cx="598.2" cy="509.3" r="1.75"/><circle cx="645.7" cy="515.4" r="1.75"/><circle cx="514.9" cy="506.3" r="1.75"/><circle cx="582.3" cy="507.7" r="1.75"/><circle cx="566.3" cy="513.7" r="1.75"/><circle cx="616.5" cy="511.0" r="1.75"/><circle cx="573.8" cy="516.5" r="1.75"/><circle cx="506.9" cy="510.3" r="1.75"/><circle cx="616.5" cy="510.6" r="1.75"/><circle cx="636.3" cy="507.1" r="1.75"/><circle cx="498.8" cy="510.7" r="1.75"/><circle cx="560.5" cy="510.7" r="1.75"/><circle cx="520.9" cy="511.8" r="1.75"/><circle cx="630.4" cy="518.1" r="1.75"/><circle cx="586.8" cy="509.3" r="1.75"/><circle cx="579.7" cy="508.0" r="1.75"/><circle cx="495.2" cy="516.3" r="1.75"/><circle cx="528.4" cy="508.1" r="1.75"/><circle cx="618.3" cy="507.6" r="1.75"/><circle cx="523.5" cy="508.0" r="1.75"/><circle cx="630.1" cy="514.8" r="1.75"/><circle cx="514.4" cy="506.9" r="1.75"/><circle cx="632.5" cy="507.7" r="1.75"/><circle cx="601.2" cy="514.9" r="1.75"/><circle cx="580.6" cy="512.2" r="1.75"/><circle cx="552.6" cy="509.6" r="1.75"/><circle cx="590.1" cy="507.9" r="1.75"/><circle cx="562.5" cy="509.4" r="1.75"/><circle cx="544.8" cy="517.5" r="1.75"/><circle cx="577.2" cy="514.3" r="1.75"/><circle cx="590.3" cy="506.0" r="1.75"/><circle cx="612.3" cy="517.3" r="1.75"/><circle cx="606.3" cy="512.7" r="1.75"/><circle cx="622.5" cy="518.2" r="1.75"/><circle cx="530.0" cy="508.1" r="1.75"/><circle cx="539.9" cy="506.2" r="1.75"/><circle cx="523.2" cy="507.1" r="1.75"/><circle cx="486.4" cy="511.2" r="1.75"/><circle cx="486.0" cy="512.2" r="1.75"/><circle cx="623.3" cy="515.2" r="1.75"/><circle cx="493.5" cy="515.4" r="1.75"/><circle cx="515.9" cy="516.4" r="1.75"/><circle cx="589.7" cy="513.0" r="1.75"/><circle cx="555.9" cy="518.6" r="1.75"/><circle cx="519.1" cy="517.6" r="1.75"/><circle cx="518.3" cy="507.2" r="1.75"/><circle cx="520.1" cy="506.5" r="1.75"/><circle cx="620.1" cy="508.4" r="1.75"/><circle cx="578.2" cy="509.5" r="1.75"/><circle cx="543.3" cy="516.1" r="1.75"/><circle cx="574.3" cy="509.4" r="1.75"/><circle cx="606.1" cy="507.9" r="1.75"/><circle cx="491.6" cy="515.0" r="1.75"/><circle cx="623.6" cy="515.9" r="1.75"/><circle cx="598.4" cy="518.0" r="1.75"/><circle cx="635.6" cy="513.3" r="1.75"/><circle cx="513.8" cy="513.5" r="1.75"/><circle cx="554.4" cy="515.1" r="1.75"/><circle cx="541.7" cy="506.9" r="1.75"/><circle cx="516.5" cy="507.8" r="1.75"/><circle cx="604.1" cy="514.9" r="1.75"/><circle cx="571.7" cy="510.1" r="1.75"/><circle cx="603.5" cy="511.8" r="1.75"/><circle cx="565.4" cy="508.5" r="1.75"/><circle cx="647.1" cy="511.7" r="1.75"/><circle cx="561.6" cy="508.7" r="1.75"/><circle cx="557.8" cy="512.1" r="1.75"/><circle cx="554.1" cy="515.6" r="1.75"/><circle cx="539.5" cy="514.0" r="1.75"/><circle cx="594.0" cy="507.7" r="1.75"/><circle cx="618.8" cy="506.9" r="1.75"/><circle cx="526.9" cy="516.7" r="1.75"/><circle cx="504.4" cy="509.6" r="1.75"/><circle cx="552.1" cy="518.2" r="1.75"/><circle cx="642.5" cy="508.8" r="1.75"/><circle cx="589.2" cy="516.7" r="1.75"/><circle cx="568.6" cy="510.1" r="1.75"/><circle cx="509.8" cy="506.9" r="1.75"/><circle cx="492.3" cy="506.6" r="1.75"/><circle cx="602.7" cy="513.6" r="1.75"/><circle cx="495.9" cy="518.1" r="1.75"/><circle cx="645.3" cy="511.3" r="1.75"/><circle cx="543.9" cy="517.3" r="1.75"/><circle cx="593.2" cy="515.6" r="1.75"/><circle cx="514.7" cy="515.4" r="1.75"/><circle cx="556.9" cy="506.7" r="1.75"/><circle cx="492.8" cy="509.4" r="1.75"/><circle cx="523.1" cy="509.5" r="1.75"/><circle cx="633.2" cy="511.1" r="1.75"/><circle cx="518.8" cy="507.4" r="1.75"/><circle cx="494.1" cy="511.2" r="1.75"/><circle cx="553.4" cy="507.0" r="1.75"/><circle cx="569.0" cy="510.4" r="1.75"/><circle cx="488.1" cy="512.1" r="1.75"/><circle cx="510.6" cy="508.3" r="1.75"/><circle cx="607.3" cy="511.5" r="1.75"/><circle cx="543.0" cy="513.2" r="1.75"/><circle cx="604.3" cy="514.1" r="1.75"/><circle cx="639.4" cy="515.2" r="1.75"/><circle cx="540.5" cy="518.3" r="1.75"/><circle cx="487.6" cy="508.4" r="1.75"/><circle cx="504.8" cy="510.9" r="1.75"/><circle cx="542.5" cy="511.0" r="1.75"/><circle cx="587.9" cy="510.5" r="1.75"/><circle cx="563.5" cy="514.7" r="1.75"/><circle cx="635.6" cy="518.3" r="1.75"/><circle cx="544.9" cy="511.0" r="1.75"/><circle cx="646.2" cy="516.8" r="1.75"/><circle cx="627.7" cy="507.5" r="1.75"/><circle cx="532.1" cy="511.5" r="1.75"/><circle cx="535.2" cy="512.0" r="1.75"/><circle cx="638.5" cy="511.0" r="1.75"/><circle cx="567.3" cy="510.2" r="1.75"/><circle cx="580.7" cy="513.0" r="1.75"/><circle cx="514.6" cy="506.8" r="1.75"/><circle cx="607.3" cy="516.7" r="1.75"/><circle cx="540.0" cy="508.6" r="1.75"/><circle cx="501.5" cy="514.0" r="1.75"/><circle cx="579.1" cy="518.1" r="1.75"/><circle cx="595.2" cy="513.4" r="1.75"/><circle cx="581.6" cy="517.7" r="1.75"/><circle cx="634.7" cy="508.2" r="1.75"/><circle cx="504.9" cy="507.7" r="1.75"/><circle cx="487.1" cy="517.0" r="1.75"/><circle cx="641.6" cy="512.5" r="1.75"/><circle cx="608.6" cy="514.5" r="1.75"/><circle cx="591.7" cy="511.1" r="1.75"/><circle cx="640.6" cy="510.0" r="1.75"/><circle cx="501.3" cy="506.7" r="1.75"/><circle cx="613.1" cy="516.1" r="1.75"/><circle cx="623.7" cy="516.3" r="1.75"/><circle cx="521.8" cy="510.7" r="1.75"/><circle cx="530.6" cy="517.2" r="1.75"/><circle cx="485.3" cy="509.9" r="1.75"/><circle cx="591.2" cy="514.2" r="1.75"/><circle cx="485.5" cy="507.5" r="1.75"/><circle cx="512.4" cy="508.8" r="1.75"/><circle cx="568.2" cy="506.4" r="1.75"/><circle cx="619.6" cy="512.0" r="1.75"/><circle cx="591.0" cy="510.7" r="1.75"/><circle cx="622.9" cy="507.3" r="1.75"/><circle cx="625.9" cy="509.2" r="1.75"/><circle cx="568.6" cy="513.3" r="1.75"/><circle cx="594.3" cy="513.0" r="1.75"/><circle cx="602.0" cy="506.7" r="1.75"/><circle cx="571.9" cy="512.5" r="1.75"/><circle cx="585.7" cy="507.4" r="1.75"/><circle cx="600.0" cy="507.1" r="1.75"/><circle cx="492.6" cy="506.7" r="1.75"/><circle cx="644.2" cy="508.1" r="1.75"/><circle cx="596.3" cy="506.7" r="1.75"/><circle cx="583.4" cy="508.8" r="1.75"/><circle cx="582.4" cy="515.5" r="1.75"/><circle cx="595.0" cy="513.0" r="1.75"/><circle cx="601.7" cy="506.0" r="1.75"/><circle cx="493.8" cy="509.1" r="1.75"/><circle cx="558.5" cy="515.9" r="1.75"/><circle cx="489.3" cy="508.7" r="1.75"/><circle cx="570.3" cy="510.2" r="1.75"/><circle cx="498.4" cy="509.7" r="1.75"/><circle cx="489.2" cy="506.2" r="1.75"/><circle cx="621.6" cy="510.1" r="1.75"/><circle cx="601.4" cy="509.2" r="1.75"/><circle cx="605.3" cy="517.4" r="1.75"/><circle cx="487.9" cy="513.8" r="1.75"/><circle cx="632.7" cy="515.9" r="1.75"/><circle cx="504.7" cy="515.4" r="1.75"/><circle cx="607.7" cy="508.1" r="1.75"/><circle cx="592.0" cy="514.0" r="1.75"/><circle cx="517.4" cy="516.6" r="1.75"/><circle cx="624.3" cy="507.0" r="1.75"/><circle cx="561.7" cy="513.6" r="1.75"/><circle cx="486.3" cy="512.7" r="1.75"/><circle cx="637.5" cy="510.3" r="1.75"/><circle cx="565.5" cy="518.1" r="1.75"/><circle cx="627.1" cy="518.3" r="1.75"/><circle cx="499.8" cy="518.9" r="1.75"/><circle cx="538.9" cy="510.6" r="1.75"/><circle cx="515.1" cy="516.4" r="1.75"/><circle cx="580.7" cy="511.9" r="1.75"/><circle cx="565.5" cy="512.6" r="1.75"/><circle cx="579.7" cy="508.0" r="1.75"/><circle cx="602.0" cy="509.4" r="1.75"/><circle cx="488.3" cy="518.4" r="1.75"/><circle cx="500.9" cy="516.3" r="1.75"/><circle cx="609.7" cy="511.5" r="1.75"/><circle cx="584.1" cy="509.1" r="1.75"/><circle cx="520.1" cy="517.4" r="1.75"/><circle cx="606.9" cy="515.9" r="1.75"/><circle cx="559.5" cy="506.5" r="1.75"/><circle cx="610.8" cy="518.4" r="1.75"/><circle cx="536.7" cy="514.1" r="1.75"/><circle cx="509.0" cy="518.4" r="1.75"/><circle cx="600.4" cy="506.8" r="1.75"/><circle cx="598.9" cy="514.7" r="1.75"/><circle cx="555.9" cy="513.5" r="1.75"/><circle cx="636.5" cy="514.8" r="1.75"/><circle cx="561.9" cy="518.5" r="1.75"/><circle cx="588.8" cy="516.0" r="1.75"/><circle cx="575.4" cy="515.8" r="1.75"/><circle cx="610.8" cy="512.4" r="1.75"/><circle cx="560.6" cy="508.6" r="1.75"/><circle cx="591.1" cy="515.4" r="1.75"/><circle cx="551.8" cy="506.9" r="1.75"/><circle cx="599.7" cy="514.4" r="1.75"/><circle cx="590.3" cy="508.0" r="1.75"/><circle cx="629.0" cy="515.4" r="1.75"/><circle cx="615.1" cy="507.9" r="1.75"/><circle cx="529.1" cy="512.9" r="1.75"/><circle cx="485.9" cy="518.6" r="1.75"/><circle cx="513.4" cy="508.0" r="1.75"/><circle cx="614.3" cy="509.0" r="1.75"/><circle cx="578.5" cy="514.4" r="1.75"/><circle cx="518.0" cy="506.6" r="1.75"/><circle cx="599.3" cy="517.3" r="1.75"/><circle cx="616.4" cy="507.3" r="1.75"/><circle cx="539.4" cy="511.8" r="1.75"/><circle cx="490.3" cy="517.4" r="1.75"/><circle cx="619.7" cy="518.5" r="1.75"/><circle cx="633.8" cy="516.8" r="1.75"/><circle cx="533.4" cy="514.4" r="1.75"/><circle cx="627.0" cy="506.1" r="1.75"/><circle cx="496.9" cy="518.7" r="1.75"/><circle cx="499.8" cy="517.7" r="1.75"/><circle cx="546.7" cy="509.2" r="1.75"/><circle cx="546.2" cy="517.4" r="1.75"/><circle cx="590.3" cy="507.6" r="1.75"/><circle cx="618.6" cy="510.5" r="1.75"/><circle cx="619.2" cy="512.5" r="1.75"/><circle cx="625.1" cy="513.1" r="1.75"/><circle cx="542.4" cy="518.8" r="1.75"/><circle cx="644.5" cy="513.1" r="1.75"/><circle cx="570.0" cy="513.8" r="1.75"/><circle cx="594.8" cy="509.5" r="1.75"/><circle cx="636.3" cy="511.4" r="1.75"/><circle cx="647.1" cy="513.4" r="1.75"/><circle cx="634.1" cy="517.9" r="1.75"/><circle cx="529.7" cy="506.4" r="1.75"/><circle cx="579.4" cy="513.4" r="1.75"/><circle cx="539.8" cy="510.6" r="1.75"/><circle cx="529.5" cy="507.2" r="1.75"/><circle cx="559.6" cy="512.7" r="1.75"/><circle cx="556.1" cy="516.9" r="1.75"/><circle cx="555.9" cy="515.7" r="1.75"/><circle cx="607.7" cy="512.5" r="1.75"/><circle cx="560.6" cy="509.0" r="1.75"/><circle cx="596.6" cy="517.2" r="1.75"/><circle cx="642.9" cy="516.3" r="1.75"/><circle cx="642.5" cy="513.5" r="1.75"/><circle cx="558.5" cy="518.7" r="1.75"/><circle cx="594.2" cy="506.9" r="1.75"/><circle cx="623.9" cy="513.7" r="1.75"/><circle cx="624.1" cy="511.2" r="1.75"/><circle cx="587.7" cy="513.7" r="1.75"/><circle cx="584.9" cy="517.4" r="1.75"/><circle cx="549.2" cy="514.7" r="1.75"/><circle cx="637.8" cy="507.1" r="1.75"/><circle cx="624.2" cy="514.9" r="1.75"/><circle cx="556.6" cy="506.5" r="1.75"/><circle cx="565.4" cy="508.1" r="1.75"/><circle cx="516.7" cy="512.5" r="1.75"/><circle cx="586.9" cy="518.0" r="1.75"/><circle cx="587.5" cy="515.9" r="1.75"/><circle cx="573.8" cy="506.3" r="1.75"/><circle cx="538.6" cy="507.5" r="1.75"/><circle cx="583.4" cy="509.9" r="1.75"/><circle cx="584.3" cy="510.3" r="1.75"/><circle cx="492.3" cy="508.9" r="1.75"/><circle cx="636.7" cy="511.8" r="1.75"/><circle cx="592.8" cy="513.0" r="1.75"/><circle cx="560.1" cy="514.8" r="1.75"/><circle cx="632.3" cy="514.1" r="1.75"/><circle cx="613.2" cy="510.5" r="1.75"/><circle cx="530.0" cy="506.1" r="1.75"/><circle cx="571.8" cy="506.8" r="1.75"/><circle cx="528.7" cy="512.0" r="1.75"/><circle cx="545.7" cy="508.7" r="1.75"/><circle cx="553.3" cy="517.8" r="1.75"/><circle cx="576.4" cy="514.5" r="1.75"/><circle cx="647.4" cy="514.3" r="1.75"/><circle cx="639.7" cy="515.0" r="1.75"/><circle cx="616.6" cy="513.8" r="1.75"/><circle cx="647.5" cy="513.1" r="1.75"/><circle cx="539.7" cy="514.4" r="1.75"/><circle cx="500.2" cy="511.5" r="1.75"/><circle cx="638.2" cy="507.9" r="1.75"/><circle cx="551.5" cy="509.9" r="1.75"/><circle cx="585.5" cy="517.0" r="1.75"/><circle cx="537.2" cy="513.3" r="1.75"/><circle cx="490.0" cy="509.1" r="1.75"/><circle cx="553.2" cy="514.3" r="1.75"/><circle cx="627.9" cy="517.4" r="1.75"/><circle cx="567.8" cy="509.4" r="1.75"/><circle cx="618.7" cy="516.9" r="1.75"/><circle cx="613.9" cy="514.6" r="1.75"/><circle cx="587.6" cy="511.1" r="1.75"/><circle cx="577.9" cy="510.7" r="1.75"/><circle cx="599.5" cy="517.3" r="1.75"/><circle cx="534.2" cy="515.5" r="1.75"/><circle cx="501.6" cy="507.1" r="1.75"/><circle cx="515.7" cy="509.7" r="1.75"/><circle cx="555.6" cy="511.0" r="1.75"/><circle cx="632.3" cy="506.7" r="1.75"/><circle cx="625.8" cy="509.1" r="1.75"/><circle cx="534.0" cy="512.0" r="1.75"/><circle cx="557.4" cy="513.4" r="1.75"/><circle cx="490.3" cy="513.7" r="1.75"/><circle cx="491.8" cy="508.1" r="1.75"/><circle cx="530.8" cy="512.6" r="1.75"/><circle cx="603.5" cy="506.4" r="1.75"/><circle cx="489.9" cy="511.3" r="1.75"/><circle cx="522.3" cy="515.2" r="1.75"/><circle cx="617.2" cy="517.7" r="1.75"/><circle cx="645.4" cy="518.4" r="1.75"/><circle cx="524.0" cy="513.3" r="1.75"/><circle cx="506.2" cy="513.0" r="1.75"/><circle cx="598.8" cy="514.2" r="1.75"/><circle cx="644.7" cy="510.8" r="1.75"/><circle cx="554.0" cy="517.6" r="1.75"/><circle cx="614.9" cy="508.4" r="1.75"/><circle cx="549.2" cy="516.0" r="1.75"/><circle cx="494.7" cy="516.5" r="1.75"/><circle cx="630.5" cy="514.4" r="1.75"/><circle cx="504.3" cy="513.1" r="1.75"/><circle cx="510.0" cy="517.5" r="1.75"/><circle cx="525.6" cy="506.7" r="1.75"/><circle cx="558.3" cy="509.1" r="1.75"/><circle cx="625.3" cy="508.3" r="1.75"/><circle cx="504.4" cy="510.8" r="1.75"/><circle cx="556.6" cy="513.0" r="1.75"/><circle cx="641.4" cy="511.1" r="1.75"/><circle cx="627.3" cy="507.7" r="1.75"/><circle cx="563.3" cy="517.5" r="1.75"/><circle cx="620.9" cy="514.3" r="1.75"/><circle cx="499.3" cy="518.9" r="1.75"/><circle cx="543.5" cy="514.6" r="1.75"/><circle cx="501.2" cy="507.3" r="1.75"/><circle cx="552.4" cy="516.2" r="1.75"/><circle cx="607.8" cy="511.0" r="1.75"/><circle cx="526.6" cy="513.4" r="1.75"/><circle cx="557.2" cy="509.2" r="1.75"/><circle cx="505.6" cy="506.7" r="1.75"/><circle cx="499.3" cy="516.0" r="1.75"/><circle cx="640.3" cy="516.4" r="1.75"/><circle cx="594.0" cy="511.8" r="1.75"/><circle cx="529.9" cy="512.2" r="1.75"/><circle cx="550.4" cy="516.7" r="1.75"/><circle cx="641.3" cy="511.2" r="1.75"/><circle cx="529.9" cy="515.4" r="1.75"/><circle cx="634.9" cy="518.5" r="1.75"/><circle cx="644.3" cy="516.2" r="1.75"/><circle cx="619.9" cy="512.1" r="1.75"/><circle cx="597.8" cy="508.8" r="1.75"/><circle cx="646.9" cy="509.0" r="1.75"/><circle cx="609.5" cy="516.1" r="1.75"/><circle cx="627.8" cy="510.8" r="1.75"/><circle cx="564.2" cy="506.2" r="1.75"/><circle cx="627.6" cy="513.5" r="1.75"/><circle cx="508.0" cy="510.4" r="1.75"/><circle cx="547.9" cy="512.1" r="1.75"/><circle cx="534.6" cy="509.4" r="1.75"/><circle cx="570.0" cy="515.7" r="1.75"/><circle cx="561.5" cy="511.7" r="1.75"/><circle cx="547.3" cy="518.1" r="1.75"/><circle cx="608.7" cy="514.9" r="1.75"/><circle cx="494.5" cy="515.8" r="1.75"/><circle cx="555.5" cy="515.0" r="1.75"/><circle cx="561.3" cy="507.1" r="1.75"/><circle cx="573.9" cy="515.4" r="1.75"/><circle cx="512.6" cy="513.9" r="1.75"/><circle cx="528.8" cy="506.1" r="1.75"/><circle cx="492.8" cy="511.0" r="1.75"/><circle cx="525.3" cy="508.3" r="1.75"/><circle cx="538.5" cy="516.1" r="1.75"/><circle cx="568.5" cy="513.4" r="1.75"/><circle cx="631.9" cy="509.1" r="1.75"/><circle cx="630.3" cy="514.7" r="1.75"/><circle cx="602.2" cy="517.9" r="1.75"/><circle cx="510.9" cy="511.2" r="1.75"/><circle cx="572.5" cy="512.8" r="1.75"/><circle cx="645.3" cy="509.0" r="1.75"/><circle cx="529.0" cy="516.0" r="1.75"/><circle cx="614.0" cy="510.1" r="1.75"/><circle cx="493.6" cy="512.4" r="1.75"/><circle cx="576.4" cy="517.1" r="1.75"/><circle cx="578.3" cy="513.0" r="1.75"/><circle cx="612.0" cy="514.6" r="1.75"/><circle cx="586.9" cy="506.2" r="1.75"/><circle cx="600.0" cy="511.7" r="1.75"/><circle cx="573.2" cy="513.0" r="1.75"/><circle cx="612.0" cy="508.1" r="1.75"/><circle cx="627.2" cy="507.8" r="1.75"/><circle cx="618.4" cy="516.9" r="1.75"/><circle cx="490.8" cy="513.1" r="1.75"/><circle cx="618.6" cy="510.1" r="1.75"/><circle cx="510.0" cy="518.1" r="1.75"/><circle cx="520.9" cy="518.8" r="1.75"/><circle cx="540.5" cy="518.2" r="1.75"/><circle cx="575.4" cy="507.0" r="1.75"/><circle cx="522.8" cy="513.9" r="1.75"/><circle cx="486.8" cy="509.0" r="1.75"/><circle cx="544.9" cy="507.4" r="1.75"/><circle cx="638.4" cy="512.7" r="1.75"/><circle cx="544.1" cy="510.7" r="1.75"/><circle cx="502.9" cy="513.8" r="1.75"/><circle cx="593.5" cy="515.6" r="1.75"/><circle cx="625.3" cy="517.2" r="1.75"/><circle cx="545.6" cy="509.0" r="1.75"/><circle cx="499.9" cy="515.0" r="1.75"/><circle cx="589.6" cy="507.4" r="1.75"/><circle cx="602.1" cy="517.4" r="1.75"/><circle cx="489.8" cy="514.1" r="1.75"/><circle cx="611.6" cy="515.5" r="1.75"/><circle cx="529.4" cy="510.9" r="1.75"/><circle cx="498.8" cy="508.8" r="1.75"/><circle cx="579.3" cy="517.5" r="1.75"/><circle cx="540.5" cy="514.6" r="1.75"/><circle cx="637.3" cy="515.2" r="1.75"/><circle cx="519.9" cy="510.3" r="1.75"/><circle cx="636.8" cy="506.2" r="1.75"/><circle cx="565.1" cy="510.7" r="1.75"/><circle cx="513.8" cy="513.2" r="1.75"/><circle cx="536.0" cy="509.5" r="1.75"/><circle cx="619.3" cy="515.1" r="1.75"/><circle cx="629.2" cy="506.1" r="1.75"/><circle cx="616.0" cy="512.1" r="1.75"/><circle cx="566.8" cy="517.9" r="1.75"/><circle cx="570.1" cy="517.6" r="1.75"/><circle cx="613.9" cy="506.9" r="1.75"/><circle cx="626.2" cy="510.0" r="1.75"/><circle cx="572.5" cy="512.6" r="1.75"/><circle cx="587.2" cy="506.8" r="1.75"/><circle cx="570.1" cy="514.6" r="1.75"/><circle cx="531.3" cy="516.2" r="1.75"/><circle cx="568.6" cy="511.9" r="1.75"/><circle cx="515.5" cy="508.1" r="1.75"/><circle cx="542.7" cy="512.2" r="1.75"/><circle cx="636.7" cy="514.9" r="1.75"/><circle cx="511.3" cy="509.1" r="1.75"/><circle cx="634.4" cy="506.4" r="1.75"/><circle cx="636.5" cy="516.4" r="1.75"/><circle cx="625.1" cy="508.4" r="1.75"/><circle cx="622.5" cy="512.3" r="1.75"/><circle cx="556.2" cy="509.5" r="1.75"/><circle cx="540.2" cy="514.9" r="1.75"/><circle cx="530.2" cy="518.5" r="1.75"/><circle cx="612.0" cy="517.4" r="1.75"/><circle cx="594.5" cy="515.4" r="1.75"/><circle cx="525.9" cy="507.8" r="1.75"/><circle cx="500.6" cy="514.2" r="1.75"/><circle cx="632.2" cy="510.7" r="1.75"/><circle cx="573.0" cy="509.4" r="1.75"/><circle cx="591.3" cy="517.6" r="1.75"/><circle cx="601.5" cy="512.2" r="1.75"/><circle cx="632.7" cy="511.7" r="1.75"/><circle cx="639.4" cy="516.5" r="1.75"/><circle cx="602.7" cy="514.6" r="1.75"/><circle cx="549.7" cy="511.0" r="1.75"/><circle cx="539.9" cy="514.8" r="1.75"/><circle cx="626.9" cy="508.7" r="1.75"/><circle cx="564.6" cy="509.8" r="1.75"/><circle cx="533.6" cy="508.6" r="1.75"/><circle cx="625.3" cy="511.9" r="1.75"/><circle cx="615.0" cy="508.2" r="1.75"/><circle cx="606.7" cy="513.3" r="1.75"/><circle cx="638.0" cy="511.4" r="1.75"/><circle cx="534.9" cy="506.9" r="1.75"/><circle cx="613.8" cy="516.0" r="1.75"/><circle cx="487.7" cy="512.6" r="1.75"/><circle cx="597.9" cy="510.6" r="1.75"/><circle cx="503.6" cy="510.8" r="1.75"/><circle cx="580.8" cy="512.2" r="1.75"/><circle cx="587.2" cy="506.0" r="1.75"/><circle cx="560.9" cy="511.1" r="1.75"/><circle cx="631.7" cy="516.5" r="1.75"/><circle cx="629.8" cy="511.9" r="1.75"/><circle cx="604.1" cy="514.6" r="1.75"/><circle cx="629.3" cy="510.9" r="1.75"/><circle cx="598.8" cy="512.3" r="1.75"/><circle cx="553.0" cy="509.5" r="1.75"/><circle cx="498.3" cy="510.1" r="1.75"/><circle cx="576.6" cy="518.2" r="1.75"/><circle cx="513.5" cy="517.4" r="1.75"/><circle cx="613.1" cy="515.6" r="1.75"/><circle cx="562.6" cy="512.2" r="1.75"/><circle cx="580.4" cy="515.9" r="1.75"/><circle cx="629.5" cy="506.1" r="1.75"/><circle cx="629.8" cy="516.4" r="1.75"/><circle cx="627.7" cy="510.0" r="1.75"/><circle cx="535.5" cy="516.9" r="1.75"/><circle cx="624.5" cy="511.3" r="1.75"/><circle cx="553.5" cy="509.5" r="1.75"/><circle cx="510.4" cy="508.2" r="1.75"/><circle cx="535.4" cy="508.4" r="1.75"/><circle cx="582.4" cy="515.8" r="1.75"/><circle cx="571.2" cy="509.7" r="1.75"/><circle cx="522.3" cy="511.9" r="1.75"/><circle cx="512.0" cy="511.3" r="1.75"/><circle cx="510.8" cy="515.2" r="1.75"/><circle cx="607.3" cy="507.2" r="1.75"/><circle cx="510.8" cy="510.2" r="1.75"/><circle cx="518.9" cy="517.7" r="1.75"/><circle cx="561.2" cy="506.3" r="1.75"/><circle cx="542.3" cy="514.5" r="1.75"/><circle cx="633.3" cy="510.4" r="1.75"/><circle cx="634.0" cy="508.3" r="1.75"/><circle cx="525.1" cy="515.2" r="1.75"/><circle cx="582.0" cy="511.0" r="1.75"/><circle cx="506.5" cy="512.8" r="1.75"/><circle cx="522.7" cy="517.5" r="1.75"/><circle cx="642.8" cy="514.5" r="1.75"/><circle cx="585.6" cy="507.4" r="1.75"/><circle cx="499.7" cy="511.4" r="1.75"/><circle cx="546.8" cy="515.0" r="1.75"/><circle cx="637.1" cy="512.0" r="1.75"/><circle cx="600.6" cy="518.6" r="1.75"/><circle cx="520.6" cy="506.5" r="1.75"/><circle cx="505.4" cy="515.9" r="1.75"/><circle cx="576.0" cy="515.2" r="1.75"/><circle cx="643.2" cy="507.6" r="1.75"/><circle cx="581.7" cy="512.4" r="1.75"/><circle cx="560.6" cy="512.4" r="1.75"/><circle cx="574.3" cy="516.0" r="1.75"/><circle cx="568.7" cy="516.6" r="1.75"/><circle cx="542.2" cy="517.7" r="1.75"/><circle cx="579.0" cy="514.9" r="1.75"/><circle cx="567.0" cy="515.0" r="1.75"/><circle cx="558.5" cy="515.0" r="1.75"/><circle cx="618.8" cy="506.2" r="1.75"/><circle cx="560.9" cy="510.2" r="1.75"/><circle cx="497.2" cy="506.7" r="1.75"/><circle cx="605.4" cy="506.5" r="1.75"/><circle cx="592.2" cy="506.8" r="1.75"/><circle cx="512.1" cy="511.8" r="1.75"/><circle cx="602.4" cy="515.1" r="1.75"/><circle cx="554.3" cy="512.6" r="1.75"/><circle cx="587.7" cy="506.6" r="1.75"/><circle cx="552.5" cy="512.2" r="1.75"/><circle cx="486.9" cy="512.7" r="1.75"/><circle cx="567.2" cy="515.1" r="1.75"/><circle cx="505.5" cy="516.6" r="1.75"/><circle cx="589.8" cy="510.4" r="1.75"/><circle cx="489.9" cy="516.7" r="1.75"/><circle cx="590.2" cy="518.8" r="1.75"/><circle cx="643.6" cy="509.3" r="1.75"/><circle cx="586.1" cy="512.3" r="1.75"/><circle cx="612.3" cy="511.4" r="1.75"/><circle cx="575.8" cy="506.7" r="1.75"/><circle cx="635.4" cy="506.7" r="1.75"/><circle cx="562.0" cy="516.5" r="1.75"/><circle cx="520.4" cy="509.7" r="1.75"/><circle cx="591.3" cy="507.1" r="1.75"/><circle cx="566.5" cy="518.7" r="1.75"/><circle cx="528.8" cy="515.4" r="1.75"/><circle cx="568.0" cy="511.4" r="1.75"/><circle cx="565.4" cy="518.7" r="1.75"/><circle cx="506.5" cy="513.4" r="1.75"/><circle cx="542.7" cy="507.7" r="1.75"/><circle cx="536.5" cy="517.5" r="1.75"/><circle cx="560.1" cy="511.8" r="1.75"/><circle cx="640.5" cy="506.5" r="1.75"/><circle cx="579.3" cy="517.8" r="1.75"/><circle cx="646.9" cy="510.1" r="1.75"/><circle cx="535.1" cy="515.4" r="1.75"/><circle cx="560.4" cy="506.7" r="1.75"/><circle cx="508.0" cy="517.2" r="1.75"/><circle cx="575.9" cy="517.3" r="1.75"/><circle cx="615.4" cy="509.9" r="1.75"/><circle cx="551.6" cy="511.2" r="1.75"/><circle cx="563.1" cy="509.3" r="1.75"/><circle cx="544.9" cy="509.2" r="1.75"/><circle cx="542.2" cy="514.5" r="1.75"/><circle cx="560.0" cy="506.7" r="1.75"/><circle cx="583.2" cy="518.0" r="1.75"/><circle cx="638.8" cy="516.4" r="1.75"/><circle cx="626.3" cy="508.3" r="1.75"/><circle cx="616.7" cy="510.6" r="1.75"/><circle cx="534.8" cy="511.2" r="1.75"/><circle cx="636.2" cy="515.2" r="1.75"/><circle cx="597.2" cy="510.1" r="1.75"/><circle cx="600.9" cy="508.7" r="1.75"/><circle cx="558.1" cy="516.4" r="1.75"/><circle cx="645.4" cy="513.5" r="1.75"/><circle cx="575.0" cy="511.5" r="1.75"/><circle cx="504.3" cy="514.1" r="1.75"/><circle cx="585.5" cy="506.7" r="1.75"/><circle cx="540.8" cy="510.0" r="1.75"/><circle cx="630.9" cy="516.3" r="1.75"/><circle cx="532.0" cy="509.9" r="1.75"/><circle cx="541.9" cy="507.5" r="1.75"/><circle cx="524.8" cy="509.4" r="1.75"/><circle cx="515.4" cy="514.6" r="1.75"/><circle cx="494.4" cy="516.2" r="1.75"/><circle cx="605.4" cy="509.2" r="1.75"/><circle cx="542.8" cy="514.0" r="1.75"/><circle cx="640.7" cy="507.6" r="1.75"/><circle cx="609.7" cy="509.7" r="1.75"/><circle cx="610.4" cy="515.4" r="1.75"/><circle cx="544.3" cy="508.3" r="1.75"/><circle cx="541.1" cy="514.7" r="1.75"/><circle cx="587.4" cy="508.7" r="1.75"/><circle cx="526.3" cy="510.9" r="1.75"/><circle cx="487.1" cy="513.4" r="1.75"/><circle cx="626.6" cy="507.1" r="1.75"/><circle cx="495.8" cy="515.5" r="1.75"/><circle cx="600.3" cy="517.1" r="1.75"/><circle cx="563.1" cy="518.4" r="1.75"/><circle cx="622.9" cy="509.9" r="1.75"/><circle cx="543.5" cy="506.6" r="1.75"/><circle cx="570.4" cy="514.2" r="1.75"/><circle cx="575.9" cy="513.2" r="1.75"/><circle cx="634.3" cy="517.5" r="1.75"/><circle cx="532.7" cy="506.4" r="1.75"/><circle cx="503.7" cy="518.3" r="1.75"/><circle cx="525.7" cy="518.5" r="1.75"/><circle cx="587.6" cy="506.1" r="1.75"/><circle cx="563.6" cy="508.6" r="1.75"/><circle cx="538.4" cy="510.6" r="1.75"/><circle cx="516.9" cy="506.1" r="1.75"/><circle cx="493.5" cy="518.3" r="1.75"/><circle cx="550.0" cy="512.7" r="1.75"/><circle cx="501.4" cy="512.2" r="1.75"/><circle cx="611.5" cy="517.6" r="1.75"/><circle cx="525.3" cy="518.6" r="1.75"/><circle cx="605.2" cy="509.9" r="1.75"/><circle cx="505.5" cy="509.2" r="1.75"/><circle cx="520.2" cy="507.7" r="1.75"/><circle cx="584.5" cy="517.3" r="1.75"/><circle cx="564.7" cy="516.0" r="1.75"/><circle cx="627.2" cy="518.7" r="1.75"/><circle cx="569.9" cy="514.1" r="1.75"/><circle cx="595.5" cy="517.8" r="1.75"/><circle cx="590.6" cy="515.6" r="1.75"/><circle cx="577.5" cy="516.3" r="1.75"/><circle cx="619.7" cy="507.5" r="1.75"/><circle cx="636.0" cy="511.1" r="1.75"/><circle cx="589.9" cy="516.4" r="1.75"/><circle cx="495.3" cy="514.1" r="1.75"/><circle cx="593.1" cy="513.3" r="1.75"/><circle cx="569.7" cy="514.8" r="1.75"/><circle cx="555.7" cy="512.8" r="1.75"/><circle cx="622.1" cy="516.0" r="1.75"/><circle cx="588.2" cy="518.4" r="1.75"/><circle cx="593.2" cy="515.6" r="1.75"/><circle cx="582.3" cy="513.5" r="1.75"/><circle cx="608.1" cy="517.1" r="1.75"/><circle cx="567.8" cy="506.6" r="1.75"/><circle cx="549.2" cy="510.2" r="1.75"/><circle cx="621.5" cy="515.6" r="1.75"/><circle cx="596.6" cy="516.5" r="1.75"/><circle cx="571.5" cy="512.2" r="1.75"/><circle cx="490.6" cy="511.3" r="1.75"/><circle cx="611.1" cy="508.2" r="1.75"/><circle cx="569.0" cy="509.7" r="1.75"/><circle cx="522.9" cy="509.2" r="1.75"/><circle cx="525.0" cy="515.3" r="1.75"/><circle cx="525.5" cy="517.8" r="1.75"/><circle cx="492.3" cy="518.6" r="1.75"/><circle cx="619.2" cy="517.6" r="1.75"/><circle cx="528.0" cy="506.0" r="1.75"/><circle cx="610.3" cy="512.9" r="1.75"/><circle cx="512.6" cy="517.5" r="1.75"/><circle cx="534.4" cy="508.1" r="1.75"/><circle cx="613.1" cy="515.3" r="1.75"/><circle cx="511.4" cy="509.8" r="1.75"/><circle cx="581.6" cy="514.4" r="1.75"/><circle cx="621.2" cy="508.3" r="1.75"/><circle cx="638.0" cy="510.0" r="1.75"/><circle cx="511.6" cy="515.1" r="1.75"/><circle cx="579.9" cy="512.9" r="1.75"/><circle cx="574.5" cy="514.9" r="1.75"/><circle cx="580.7" cy="511.1" r="1.75"/><circle cx="541.4" cy="507.9" r="1.75"/><circle cx="501.5" cy="510.3" r="1.75"/><circle cx="499.9" cy="516.4" r="1.75"/><circle cx="493.1" cy="513.9" r="1.75"/><circle cx="568.1" cy="517.0" r="1.75"/><circle cx="593.7" cy="511.5" r="1.75"/><circle cx="519.7" cy="514.0" r="1.75"/><circle cx="504.3" cy="509.0" r="1.75"/><circle cx="628.0" cy="517.0" r="1.75"/><circle cx="638.3" cy="517.9" r="1.75"/><circle cx="575.0" cy="507.2" r="1.75"/><circle cx="601.8" cy="517.2" r="1.75"/><circle cx="498.6" cy="511.5" r="1.75"/><circle cx="620.2" cy="509.0" r="1.75"/><circle cx="531.9" cy="509.6" r="1.75"/><circle cx="627.3" cy="506.5" r="1.75"/><circle cx="509.4" cy="509.9" r="1.75"/><circle cx="560.2" cy="512.5" r="1.75"/><circle cx="638.9" cy="506.5" r="1.75"/><circle cx="534.1" cy="512.7" r="1.75"/><circle cx="496.0" cy="509.6" r="1.75"/><circle cx="643.2" cy="518.6" r="1.75"/><circle cx="577.3" cy="518.4" r="1.75"/><circle cx="527.0" cy="516.4" r="1.75"/><circle cx="607.7" cy="518.2" r="1.75"/><circle cx="518.2" cy="513.4" r="1.75"/><circle cx="639.7" cy="515.9" r="1.75"/><circle cx="582.5" cy="511.7" r="1.75"/><circle cx="629.0" cy="517.3" r="1.75"/><circle cx="512.1" cy="516.8" r="1.75"/><circle cx="536.1" cy="516.5" r="1.75"/><circle cx="525.4" cy="513.8" r="1.75"/><circle cx="641.7" cy="508.2" r="1.75"/><circle cx="571.6" cy="508.2" r="1.75"/><circle cx="499.3" cy="506.1" r="1.75"/><circle cx="532.2" cy="508.5" r="1.75"/><circle cx="612.2" cy="507.3" r="1.75"/><circle cx="551.3" cy="506.3" r="1.75"/><circle cx="492.0" cy="514.6" r="1.75"/><circle cx="608.6" cy="513.9" r="1.75"/><circle cx="581.5" cy="506.0" r="1.75"/><circle cx="553.3" cy="509.0" r="1.75"/><circle cx="604.0" cy="514.9" r="1.75"/><circle cx="552.0" cy="511.0" r="1.75"/><circle cx="488.7" cy="512.0" r="1.75"/><circle cx="491.1" cy="517.8" r="1.75"/><circle cx="496.0" cy="516.0" r="1.75"/><circle cx="581.1" cy="513.6" r="1.75"/><circle cx="520.8" cy="511.7" r="1.75"/><circle cx="549.0" cy="510.1" r="1.75"/><circle cx="598.1" cy="508.8" r="1.75"/><circle cx="509.7" cy="514.2" r="1.75"/><circle cx="501.7" cy="518.1" r="1.75"/><circle cx="475.6" cy="490.7" r="1.75"/><circle cx="475.1" cy="491.2" r="1.75"/><circle cx="479.4" cy="493.9" r="1.75"/><circle cx="471.4" cy="490.2" r="1.75"/><circle cx="472.7" cy="496.1" r="1.75"/><circle cx="480.6" cy="498.0" r="1.75"/><circle cx="479.3" cy="495.4" r="1.75"/><circle cx="468.0" cy="493.1" r="1.75"/><circle cx="470.3" cy="492.9" r="1.75"/><circle cx="472.4" cy="492.0" r="1.75"/><circle cx="468.2" cy="505.0" r="1.75"/><circle cx="470.0" cy="504.7" r="1.75"/><circle cx="473.0" cy="505.1" r="1.75"/><circle cx="479.9" cy="498.5" r="1.75"/><circle cx="480.1" cy="504.6" r="1.75"/><circle cx="480.4" cy="497.8" r="1.75"/><circle cx="469.4" cy="494.0" r="1.75"/><circle cx="475.1" cy="501.9" r="1.75"/><circle cx="477.5" cy="501.8" r="1.75"/><circle cx="479.1" cy="502.1" r="1.75"/><circle cx="480.7" cy="501.7" r="1.75"/><circle cx="477.8" cy="500.1" r="1.75"/><circle cx="469.9" cy="503.1" r="1.75"/><circle cx="471.8" cy="502.9" r="1.75"/><circle cx="474.4" cy="503.1" r="1.75"/><circle cx="477.3" cy="503.0" r="1.75"/><circle cx="480.3" cy="504.3" r="1.75"/><circle cx="468.4" cy="498.2" r="1.75"/><circle cx="471.0" cy="498.2" r="1.75"/><circle cx="472.6" cy="497.7" r="1.75"/><circle cx="474.4" cy="498.1" r="1.75"/><circle cx="469.7" cy="499.8" r="1.75"/><circle cx="476.0" cy="491.2" r="1.75"/><circle cx="471.1" cy="494.2" r="1.75"/><circle cx="473.3" cy="494.2" r="1.75"/><circle cx="476.1" cy="494.4" r="1.75"/><circle cx="478.8" cy="494.4" r="1.75"/><circle cx="478.5" cy="494.3" r="1.75"/><circle cx="471.3" cy="495.8" r="1.75"/><circle cx="477.4" cy="503.6" r="1.75"/><circle cx="471.0" cy="491.5" r="1.75"/><circle cx="467.3" cy="497.6" r="1.75"/><circle cx="469.2" cy="497.6" r="1.75"/><circle cx="471.1" cy="497.4" r="1.75"/><circle cx="472.3" cy="505.7" r="1.75"/><circle cx="469.4" cy="498.7" r="1.75"/><circle cx="472.4" cy="506.0" r="1.75"/><circle cx="491.7" cy="500.3" r="1.75"/><circle cx="498.7" cy="503.9" r="1.75"/><circle cx="494.6" cy="503.5" r="1.75"/><circle cx="496.9" cy="503.4" r="1.75"/><circle cx="492.3" cy="500.1" r="1.75"/><circle cx="494.3" cy="500.4" r="1.75"/><circle cx="499.8" cy="505.4" r="1.75"/><circle cx="493.6" cy="494.0" r="1.75"/><circle cx="495.5" cy="493.6" r="1.75"/><circle cx="493.5" cy="502.4" r="1.75"/><circle cx="495.4" cy="502.4" r="1.75"/><circle cx="498.1" cy="502.3" r="1.75"/><circle cx="499.3" cy="502.3" r="1.75"/><circle cx="496.3" cy="490.2" r="1.75"/><circle cx="494.3" cy="505.6" r="1.75"/><circle cx="492.6" cy="498.6" r="1.75"/><circle cx="488.1" cy="490.1" r="1.75"/><circle cx="489.0" cy="505.8" r="1.75"/><circle cx="493.3" cy="498.4" r="1.75"/><circle cx="495.8" cy="498.8" r="1.75"/><circle cx="497.2" cy="499.0" r="1.75"/><circle cx="492.1" cy="500.2" r="1.75"/><circle cx="494.0" cy="500.6" r="1.75"/><circle cx="496.9" cy="500.4" r="1.75"/><circle cx="487.4" cy="489.8" r="1.75"/><circle cx="494.7" cy="494.7" r="1.75"/><circle cx="489.0" cy="505.6" r="1.75"/><circle cx="487.3" cy="489.2" r="1.75"/><circle cx="487.8" cy="499.1" r="1.75"/><circle cx="490.1" cy="499.0" r="1.75"/><circle cx="491.9" cy="499.5" r="1.75"/><circle cx="493.8" cy="499.4" r="1.75"/><circle cx="498.0" cy="499.5" r="1.75"/><circle cx="486.5" cy="494.1" r="1.75"/><circle cx="492.1" cy="489.4" r="1.75"/><circle cx="487.6" cy="503.9" r="1.75"/><circle cx="490.1" cy="499.3" r="1.75"/><circle cx="492.3" cy="499.2" r="1.75"/><circle cx="494.1" cy="499.6" r="1.75"/><circle cx="497.4" cy="499.4" r="1.75"/><circle cx="486.1" cy="499.3" r="1.75"/><circle cx="486.0" cy="494.5" r="1.75"/><circle cx="499.0" cy="494.0" r="1.75"/><circle cx="493.0" cy="491.3" r="1.75"/><circle cx="488.2" cy="493.7" r="1.75"/><circle cx="490.5" cy="493.5" r="1.75"/><circle cx="491.9" cy="493.9" r="1.75"/><circle cx="494.0" cy="493.9" r="1.75"/><circle cx="497.7" cy="494.0" r="1.75"/><circle cx="529.0" cy="498.0" r="1.75"/><circle cx="508.7" cy="505.6" r="1.75"/><circle cx="523.0" cy="504.3" r="1.75"/><circle cx="518.3" cy="495.8" r="1.75"/><circle cx="520.2" cy="495.4" r="1.75"/><circle cx="517.7" cy="494.3" r="1.75"/><circle cx="515.3" cy="504.1" r="1.75"/><circle cx="519.7" cy="488.3" r="1.75"/><circle cx="511.0" cy="495.4" r="1.75"/><circle cx="513.4" cy="495.5" r="1.75"/><circle cx="515.2" cy="495.5" r="1.75"/><circle cx="516.5" cy="495.5" r="1.75"/><circle cx="500.3" cy="500.4" r="1.75"/><circle cx="502.6" cy="500.7" r="1.75"/><circle cx="501.8" cy="492.2" r="1.75"/><circle cx="529.8" cy="504.9" r="1.75"/><circle cx="508.0" cy="502.7" r="1.75"/><circle cx="510.6" cy="502.7" r="1.75"/><circle cx="512.6" cy="502.9" r="1.75"/><circle cx="522.5" cy="503.1" r="1.75"/><circle cx="516.5" cy="503.9" r="1.75"/><circle cx="516.6" cy="490.7" r="1.75"/><circle cx="518.5" cy="490.7" r="1.75"/><circle cx="520.4" cy="490.7" r="1.75"/><circle cx="522.6" cy="490.6" r="1.75"/><circle cx="510.8" cy="491.5" r="1.75"/><circle cx="501.3" cy="490.6" r="1.75"/><circle cx="522.5" cy="494.5" r="1.75"/><circle cx="524.3" cy="500.2" r="1.75"/><circle cx="526.7" cy="500.1" r="1.75"/><circle cx="529.2" cy="502.8" r="1.75"/><circle cx="516.3" cy="493.1" r="1.75"/><circle cx="503.8" cy="499.6" r="1.75"/><circle cx="506.0" cy="499.4" r="1.75"/><circle cx="528.4" cy="492.4" r="1.75"/><circle cx="500.7" cy="504.5" r="1.75"/><circle cx="520.5" cy="500.9" r="1.75"/><circle cx="523.0" cy="500.7" r="1.75"/><circle cx="502.2" cy="488.4" r="1.75"/><circle cx="504.2" cy="487.9" r="1.75"/><circle cx="505.9" cy="488.0" r="1.75"/><circle cx="525.6" cy="500.0" r="1.75"/><circle cx="526.6" cy="499.4" r="1.75"/><circle cx="518.5" cy="503.6" r="1.75"/><circle cx="518.7" cy="495.2" r="1.75"/><circle cx="520.9" cy="495.8" r="1.75"/><circle cx="523.1" cy="495.8" r="1.75"/><circle cx="526.3" cy="495.4" r="1.75"/><circle cx="527.0" cy="495.2" r="1.75"/><circle cx="515.3" cy="503.6" r="1.75"/><circle cx="519.1" cy="489.2" r="1.75"/><circle cx="502.7" cy="495.2" r="1.75"/><circle cx="518.3" cy="499.8" r="1.75"/><circle cx="516.5" cy="501.5" r="1.75"/><circle cx="505.0" cy="494.4" r="1.75"/><circle cx="500.5" cy="494.6" r="1.75"/><circle cx="503.0" cy="494.4" r="1.75"/><circle cx="505.0" cy="494.4" r="1.75"/><circle cx="506.2" cy="494.9" r="1.75"/><circle cx="503.9" cy="489.1" r="1.75"/><circle cx="506.0" cy="488.7" r="1.75"/><circle cx="507.9" cy="489.1" r="1.75"/><circle cx="510.8" cy="488.9" r="1.75"/><circle cx="511.7" cy="488.6" r="1.75"/><circle cx="515.2" cy="503.1" r="1.75"/><circle cx="517.6" cy="503.0" r="1.75"/><circle cx="519.1" cy="503.0" r="1.75"/><circle cx="529.6" cy="504.3" r="1.75"/><circle cx="512.3" cy="500.1" r="1.75"/><circle cx="515.4" cy="504.8" r="1.75"/><circle cx="514.8" cy="494.9" r="1.75"/><circle cx="518.0" cy="502.2" r="1.75"/><circle cx="525.3" cy="494.0" r="1.75"/><circle cx="513.9" cy="502.3" r="1.75"/><circle cx="509.2" cy="506.0" r="1.75"/><circle cx="521.0" cy="495.8" r="1.75"/><circle cx="523.0" cy="495.3" r="1.75"/><circle cx="525.9" cy="495.8" r="1.75"/><circle cx="557.0" cy="501.2" r="1.75"/><circle cx="559.4" cy="501.2" r="1.75"/><circle cx="561.1" cy="500.9" r="1.75"/><circle cx="551.9" cy="501.5" r="1.75"/><circle cx="553.8" cy="504.8" r="1.75"/><circle cx="535.3" cy="494.9" r="1.75"/><circle cx="537.6" cy="495.2" r="1.75"/><circle cx="539.4" cy="502.9" r="1.75"/><circle cx="541.3" cy="502.8" r="1.75"/><circle cx="543.1" cy="502.8" r="1.75"/><circle cx="540.2" cy="493.3" r="1.75"/><circle cx="532.4" cy="500.4" r="1.75"/><circle cx="534.3" cy="500.6" r="1.75"/><circle cx="536.1" cy="500.4" r="1.75"/><circle cx="539.5" cy="500.8" r="1.75"/><circle cx="547.7" cy="496.6" r="1.75"/><circle cx="558.6" cy="501.4" r="1.75"/><circle cx="560.5" cy="501.5" r="1.75"/><circle cx="562.8" cy="501.4" r="1.75"/><circle cx="544.4" cy="496.1" r="1.75"/><circle cx="546.2" cy="496.2" r="1.75"/><circle cx="540.1" cy="503.9" r="1.75"/><circle cx="542.3" cy="504.1" r="1.75"/><circle cx="545.0" cy="503.9" r="1.75"/><circle cx="547.5" cy="503.8" r="1.75"/><circle cx="548.1" cy="503.7" r="1.75"/><circle cx="551.3" cy="496.3" r="1.75"/><circle cx="553.1" cy="496.2" r="1.75"/><circle cx="555.0" cy="496.0" r="1.75"/><circle cx="553.5" cy="500.2" r="1.75"/><circle cx="555.9" cy="499.7" r="1.75"/><circle cx="561.5" cy="505.6" r="1.75"/><circle cx="550.0" cy="491.8" r="1.75"/><circle cx="532.8" cy="499.0" r="1.75"/><circle cx="534.7" cy="499.0" r="1.75"/><circle cx="536.5" cy="498.8" r="1.75"/><circle cx="538.3" cy="498.8" r="1.75"/><circle cx="560.8" cy="500.4" r="1.75"/><circle cx="562.7" cy="500.3" r="1.75"/><circle cx="540.7" cy="494.2" r="1.75"/><circle cx="543.3" cy="494.3" r="1.75"/><circle cx="545.4" cy="494.3" r="1.75"/><circle cx="557.5" cy="493.0" r="1.75"/><circle cx="551.1" cy="503.4" r="1.75"/><circle cx="559.5" cy="494.3" r="1.75"/><circle cx="562.0" cy="494.3" r="1.75"/><circle cx="544.2" cy="494.8" r="1.75"/><circle cx="556.5" cy="503.8" r="1.75"/><circle cx="558.9" cy="503.6" r="1.75"/><circle cx="561.7" cy="503.8" r="1.75"/><circle cx="561.9" cy="500.4" r="1.75"/><circle cx="534.9" cy="497.5" r="1.75"/><circle cx="536.9" cy="497.9" r="1.75"/><circle cx="539.4" cy="497.9" r="1.75"/><circle cx="541.8" cy="497.4" r="1.75"/><circle cx="543.2" cy="497.8" r="1.75"/><circle cx="534.3" cy="505.0" r="1.75"/><circle cx="557.5" cy="492.9" r="1.75"/><circle cx="541.5" cy="505.8" r="1.75"/><circle cx="562.1" cy="491.0" r="1.75"/><circle cx="541.6" cy="506.1" r="1.75"/><circle cx="543.9" cy="505.6" r="1.75"/><circle cx="546.5" cy="506.2" r="1.75"/><circle cx="548.9" cy="505.6" r="1.75"/><circle cx="532.6" cy="500.8" r="1.75"/><circle cx="556.5" cy="491.9" r="1.75"/><circle cx="531.6" cy="501.5" r="1.75"/><circle cx="544.2" cy="498.9" r="1.75"/><circle cx="531.5" cy="494.4" r="1.75"/><circle cx="542.6" cy="505.4" r="1.75"/><circle cx="539.6" cy="493.2" r="1.75"/><circle cx="554.3" cy="491.0" r="1.75"/><circle cx="556.7" cy="491.1" r="1.75"/><circle cx="559.0" cy="491.0" r="1.75"/><circle cx="553.7" cy="500.6" r="1.75"/><circle cx="555.6" cy="500.4" r="1.75"/><circle cx="558.8" cy="500.6" r="1.75"/><circle cx="560.8" cy="500.5" r="1.75"/><circle cx="562.8" cy="500.4" r="1.75"/><circle cx="537.1" cy="497.5" r="1.75"/><circle cx="551.3" cy="491.2" r="1.75"/><circle cx="535.8" cy="505.5" r="1.75"/><circle cx="545.8" cy="503.9" r="1.75"/><circle cx="568.2" cy="503.9" r="1.75"/><circle cx="569.5" cy="505.4" r="1.75"/><circle cx="573.9" cy="503.9" r="1.75"/><circle cx="576.4" cy="504.0" r="1.75"/><circle cx="565.5" cy="503.8" r="1.75"/><circle cx="577.1" cy="500.6" r="1.75"/><circle cx="575.3" cy="499.5" r="1.75"/><circle cx="596.7" cy="493.4" r="1.75"/><circle cx="598.7" cy="493.4" r="1.75"/><circle cx="598.8" cy="502.7" r="1.75"/><circle cx="583.4" cy="503.3" r="1.75"/><circle cx="585.5" cy="503.2" r="1.75"/><circle cx="592.6" cy="496.8" r="1.75"/><circle cx="595.2" cy="496.4" r="1.75"/><circle cx="597.5" cy="496.8" r="1.75"/><circle cx="590.3" cy="503.9" r="1.75"/><circle cx="599.6" cy="492.4" r="1.75"/><circle cx="585.3" cy="499.5" r="1.75"/><circle cx="587.8" cy="499.9" r="1.75"/><circle cx="590.3" cy="499.6" r="1.75"/><circle cx="591.9" cy="499.7" r="1.75"/><circle cx="588.6" cy="505.1" r="1.75"/><circle cx="599.8" cy="496.2" r="1.75"/><circle cx="584.3" cy="492.9" r="1.75"/><circle cx="580.1" cy="493.9" r="1.75"/><circle cx="597.4" cy="499.3" r="1.75"/><circle cx="599.9" cy="499.1" r="1.75"/><circle cx="590.5" cy="497.4" r="1.75"/><circle cx="595.7" cy="496.8" r="1.75"/><circle cx="598.1" cy="496.7" r="1.75"/><circle cx="599.5" cy="499.1" r="1.75"/><circle cx="590.0" cy="496.8" r="1.75"/><circle cx="591.4" cy="494.8" r="1.75"/><circle cx="585.3" cy="500.6" r="1.75"/><circle cx="586.6" cy="503.2" r="1.75"/><circle cx="585.8" cy="500.8" r="1.75"/><circle cx="597.4" cy="504.8" r="1.75"/><circle cx="594.8" cy="501.7" r="1.75"/><circle cx="596.9" cy="502.0" r="1.75"/><circle cx="598.8" cy="501.9" r="1.75"/><circle cx="598.6" cy="500.9" r="1.75"/><circle cx="584.6" cy="500.4" r="1.75"/><circle cx="586.8" cy="500.1" r="1.75"/><circle cx="589.1" cy="500.1" r="1.75"/><circle cx="590.1" cy="500.2" r="1.75"/><circle cx="582.6" cy="499.1" r="1.75"/><circle cx="593.4" cy="504.4" r="1.75"/><circle cx="595.6" cy="504.9" r="1.75"/><circle cx="597.8" cy="504.4" r="1.75"/><circle cx="596.7" cy="494.2" r="1.75"/><circle cx="585.8" cy="502.0" r="1.75"/><circle cx="601.6" cy="505.9" r="1.75"/><circle cx="604.2" cy="506.0" r="1.75"/><circle cx="606.0" cy="505.5" r="1.75"/><circle cx="618.1" cy="497.2" r="1.75"/><circle cx="622.8" cy="497.2" r="1.75"/><circle cx="624.4" cy="500.4" r="1.75"/><circle cx="624.9" cy="499.4" r="1.75"/><circle cx="626.9" cy="499.4" r="1.75"/><circle cx="629.9" cy="499.4" r="1.75"/><circle cx="611.4" cy="503.6" r="1.75"/><circle cx="616.7" cy="504.9" r="1.75"/><circle cx="623.7" cy="500.7" r="1.75"/><circle cx="612.6" cy="505.6" r="1.75"/><circle cx="614.4" cy="505.6" r="1.75"/><circle cx="619.2" cy="495.5" r="1.75"/><circle cx="611.8" cy="503.7" r="1.75"/><circle cx="625.1" cy="496.5" r="1.75"/><circle cx="626.2" cy="498.5" r="1.75"/><circle cx="623.5" cy="501.3" r="1.75"/><circle cx="610.8" cy="499.5" r="1.75"/><circle cx="616.0" cy="499.9" r="1.75"/><circle cx="617.9" cy="499.9" r="1.75"/><circle cx="623.5" cy="497.9" r="1.75"/><circle cx="618.5" cy="505.2" r="1.75"/><circle cx="620.9" cy="504.8" r="1.75"/><circle cx="623.1" cy="505.2" r="1.75"/><circle cx="618.7" cy="504.2" r="1.75"/><circle cx="621.8" cy="503.8" r="1.75"/><circle cx="617.2" cy="495.3" r="1.75"/><circle cx="619.4" cy="495.2" r="1.75"/><circle cx="614.1" cy="495.4" r="1.75"/><circle cx="616.1" cy="495.2" r="1.75"/><circle cx="627.2" cy="499.3" r="1.75"/><circle cx="629.6" cy="499.2" r="1.75"/><circle cx="622.8" cy="496.8" r="1.75"/><circle cx="613.7" cy="504.0" r="1.75"/><circle cx="632.0" cy="504.7" r="1.75"/><circle cx="634.0" cy="504.6" r="1.75"/><circle cx="632.2" cy="504.0" r="1.75"/><circle cx="647.2" cy="497.8" r="1.75"/><circle cx="634.4" cy="496.3" r="1.75"/><circle cx="636.5" cy="496.3" r="1.75"/><circle cx="639.3" cy="496.1" r="1.75"/><circle cx="642.1" cy="495.9" r="1.75"/><circle cx="643.0" cy="496.1" r="1.75"/><circle cx="630.9" cy="494.5" r="1.75"/><circle cx="635.5" cy="505.9" r="1.75"/><circle cx="647.3" cy="498.8" r="1.75"/><circle cx="630.1" cy="497.3" r="1.75"/><circle cx="632.0" cy="497.1" r="1.75"/><circle cx="634.8" cy="496.9" r="1.75"/><circle cx="637.9" cy="497.2" r="1.75"/><circle cx="638.1" cy="497.1" r="1.75"/><circle cx="640.2" cy="504.5" r="1.75"/><circle cx="642.5" cy="504.6" r="1.75"/><circle cx="636.5" cy="499.3" r="1.75"/><circle cx="639.0" cy="499.0" r="1.75"/><circle cx="631.0" cy="501.1" r="1.75"/><circle cx="633.3" cy="501.2" r="1.75"/><circle cx="635.4" cy="500.7" r="1.75"/><circle cx="639.9" cy="503.3" r="1.75"/><circle cx="642.0" cy="503.7" r="1.75"/><circle cx="635.9" cy="504.3" r="1.75"/><circle cx="638.3" cy="504.2" r="1.75"/><circle cx="642.3" cy="496.9" r="1.75"/><circle cx="639.6" cy="505.2" r="1.75"/><circle cx="540.4" cy="488.8" r="1.75"/><circle cx="542.8" cy="488.7" r="1.75"/><circle cx="544.8" cy="488.9" r="1.75"/><circle cx="539.2" cy="487.6" r="1.75"/><circle cx="541.1" cy="488.3" r="1.75"/><circle cx="543.6" cy="488.2" r="1.75"/><circle cx="545.6" cy="488.4" r="1.75"/><circle cx="545.4" cy="484.5" r="1.75"/><circle cx="547.8" cy="484.6" r="1.75"/><circle cx="550.2" cy="484.6" r="1.75"/><circle cx="551.1" cy="484.6" r="1.75"/><circle cx="597.8" cy="486.7" r="1.75"/><circle cx="586.2" cy="486.7" r="1.75"/><circle cx="588.5" cy="486.4" r="1.75"/><circle cx="599.5" cy="486.1" r="1.75"/><circle cx="590.8" cy="481.6" r="1.75"/><circle cx="598.0" cy="482.4" r="1.75"/><circle cx="583.1" cy="489.1" r="1.75"/><circle cx="585.5" cy="488.9" r="1.75"/><circle cx="587.5" cy="488.8" r="1.75"/><circle cx="590.8" cy="488.6" r="1.75"/><circle cx="639.4" cy="486.8" r="1.75"/><circle cx="634.1" cy="492.3" r="1.75"/><circle cx="646.9" cy="486.9" r="1.75"/><circle cx="645.4" cy="489.7" r="1.75"/><circle cx="642.6" cy="492.4" r="1.75"/><circle cx="472.2" cy="456.4" r="1.75"/><circle cx="481.3" cy="454.5" r="1.75"/><circle cx="485.7" cy="454.8" r="1.75"/><circle cx="488.3" cy="454.9" r="1.75"/><circle cx="481.3" cy="464.7" r="1.75"/><circle cx="506.8" cy="466.5" r="1.75"/><circle cx="523.6" cy="460.8" r="1.75"/><circle cx="534.6" cy="454.6" r="1.75"/><circle cx="545.8" cy="454.9" r="1.75"/><circle cx="547.0" cy="456.7" r="1.75"/><circle cx="536.0" cy="472.4" r="1.75"/><circle cx="542.3" cy="474.2" r="1.75"/><circle cx="549.2" cy="475.4" r="1.75"/><circle cx="551.4" cy="478.3" r="1.75"/><circle cx="541.4" cy="479.3" r="1.75"/><circle cx="510.0" cy="475.4" r="1.75"/><circle cx="516.3" cy="478.9" r="1.75"/><circle cx="523.9" cy="477.8" r="1.75"/><circle cx="523.6" cy="484.0" r="1.75"/><circle cx="518.2" cy="484.4" r="1.75"/><circle cx="474.0" cy="475.7" r="1.75"/><circle cx="476.9" cy="474.9" r="1.75"/><circle cx="480.5" cy="473.2" r="1.75"/><circle cx="471.8" cy="477.1" r="1.75"/><circle cx="472.5" cy="484.4" r="1.75"/><circle cx="473.7" cy="486.6" r="1.75"/><circle cx="487.1" cy="477.8" r="1.75"/><circle cx="487.4" cy="480.8" r="1.75"/><circle cx="549.6" cy="486.6" r="1.75"/><circle cx="556.6" cy="462.6" r="1.75"/><circle cx="568.0" cy="480.0" r="1.75"/><circle cx="570.0" cy="482.0" r="1.75"/><circle cx="577.4" cy="476.6" r="1.75"/><circle cx="584.0" cy="477.0" r="1.75"/><circle cx="585.5" cy="476.0" r="1.75"/><circle cx="587.0" cy="481.0" r="1.75"/><circle cx="590.0" cy="484.0" r="1.75"/><circle cx="623.0" cy="484.0" r="1.75"/><circle cx="642.5" cy="484.0" r="1.75"/><circle cx="631.0" cy="481.0" r="1.75"/><circle cx="632.5" cy="483.0" r="1.75"/><circle cx="640.0" cy="489.5" r="1.75"/><circle cx="555.0" cy="471.0" r="1.75"/><circle cx="557.0" cy="474.0" r="1.75"/><circle cx="552.0" cy="475.0" r="1.75"/></g>
<text x="488.90" y="442.90" font-size="8.45" text-anchor="start" fill="#111">Deletion</text>
<rect x="522.10" y="439.30" width="7.00" height="4.10" fill="#6cc24a" stroke="none" stroke-width="0.8"/>
<path d="M529.1,442.5 L529.1,447.0 L554.5,447.0 L554.5,442.5" fill="none" stroke="#333" stroke-width="0.8"/>
<text x="531.60" y="443.40" font-size="8.45" text-anchor="start" fill="#111">5.5 Kb</text>
<path d="M554.2,449.4 L558.6,453.9 L554.2,458.4 L549.8,453.9 Z" fill="#ee2a2a"/>
<text x="560.50" y="457.20" font-size="8.4" text-anchor="start" fill="#111">rs14823350</text>
</svg>
</body></html>
